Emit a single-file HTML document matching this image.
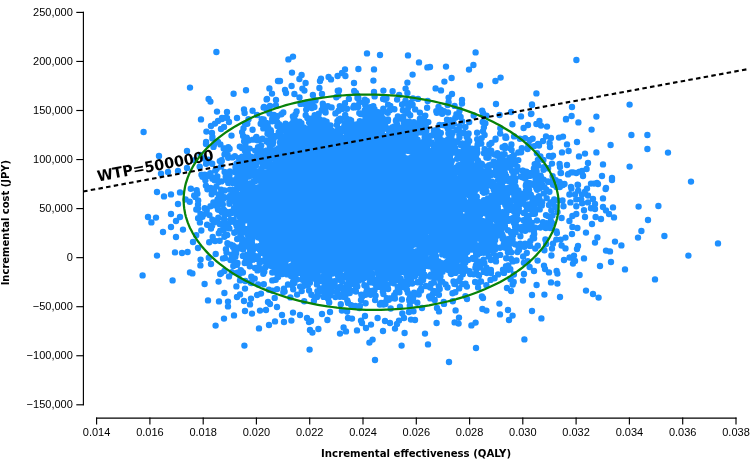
<!DOCTYPE html>
<html><head><meta charset="utf-8"><title>Incremental cost-effectiveness scatter plot</title>
<style>
html,body{margin:0;padding:0;background:#fff}
body{width:750px;height:459px;overflow:hidden}
svg{display:block}
.t{font-family:"Liberation Sans",sans-serif;font-size:11px;fill:#000}
.b{font-family:"DejaVu Sans Condensed","DejaVu Sans","Liberation Sans",sans-serif;font-weight:bold;font-size:11px;fill:#000}
.wtp{font-family:"DejaVu Sans Condensed","DejaVu Sans","Liberation Sans",sans-serif;font-weight:bold;font-size:15px;fill:#000}
</style></head><body>
<svg width="750" height="459" viewBox="0 0 750 459">
<rect width="750" height="459" fill="#fff"/>
<path d="M267.3 191.6h0M469.3 216.4h0M304.0 201.6h0M347.4 245.6h0M361.0 230.3h0M313.0 237.8h0M270.9 181.8h0M417.6 215.7h0M394.6 197.8h0M234.3 211.7h0M444.0 303.9h0M311.7 146.7h0M438.5 214.3h0M332.3 176.0h0M362.1 215.2h0M429.0 209.7h0M278.2 263.2h0M411.7 192.3h0M481.2 170.1h0M474.4 213.7h0M344.4 210.1h0M438.5 106.9h0M254.7 278.6h0M354.9 159.1h0M401.5 265.7h0M272.5 251.1h0M360.6 258.7h0M510.5 209.9h0M428.1 167.8h0M432.3 254.5h0M298.0 179.0h0M281.3 216.5h0M268.1 183.3h0M408.9 176.2h0M426.0 242.1h0M318.7 159.7h0M280.0 190.6h0M386.5 188.3h0M390.8 207.1h0M356.9 195.8h0M469.9 157.5h0M359.7 182.5h0M361.7 186.3h0M288.0 284.5h0M377.1 234.4h0M476.6 197.7h0M371.3 208.1h0M372.1 188.8h0M400.3 272.6h0M388.0 193.2h0M408.0 159.3h0M415.1 167.1h0M309.3 174.8h0M389.8 158.5h0M255.9 217.2h0M387.2 171.2h0M277.8 165.7h0M361.3 243.1h0M403.5 263.4h0M336.1 214.0h0M374.1 155.0h0M253.5 220.9h0M305.0 172.9h0M420.8 214.1h0M284.9 212.6h0M417.7 150.7h0M269.6 237.9h0M301.5 200.2h0M288.8 197.7h0M367.3 154.7h0M408.3 242.1h0M290.8 169.8h0M353.1 204.9h0M501.2 158.6h0M343.2 146.8h0M307.8 146.2h0M396.6 129.8h0M350.0 182.7h0M315.7 257.0h0M243.9 245.2h0M431.5 163.3h0M324.9 165.1h0M366.8 266.6h0M291.0 232.9h0M472.6 201.8h0M425.7 184.3h0M445.1 183.6h0M358.4 98.2h0M403.0 172.7h0M437.5 290.9h0M390.7 187.9h0M362.0 233.9h0M340.1 224.9h0M312.5 174.0h0M297.6 159.9h0M394.5 174.6h0M348.5 206.9h0M231.7 254.7h0M355.1 209.9h0M452.1 200.9h0M346.2 188.2h0M357.4 270.8h0M428.7 211.0h0M382.1 189.8h0M335.1 212.9h0M522.0 227.0h0M526.8 253.0h0M359.3 241.8h0M431.1 167.0h0M397.0 195.6h0M428.4 182.9h0M486.0 229.0h0M431.6 152.9h0M373.4 122.4h0M319.1 202.1h0M308.1 177.7h0M364.8 180.5h0M460.2 195.3h0M389.8 160.6h0M370.7 202.8h0M386.4 150.8h0M369.4 148.8h0M409.4 222.7h0M287.0 184.6h0M232.9 245.5h0M335.3 211.1h0M285.3 167.6h0M500.5 176.9h0M354.8 154.8h0M347.9 198.2h0M260.0 220.4h0M388.4 198.6h0M321.2 207.4h0M457.1 158.7h0M433.4 252.7h0M310.6 223.0h0M398.5 241.5h0M317.7 189.0h0M467.8 167.6h0M429.2 266.3h0M380.1 190.5h0M364.5 294.9h0M267.6 216.3h0M271.4 172.8h0M383.8 251.4h0M513.9 274.5h0M221.2 189.6h0M415.9 174.7h0M413.7 197.0h0M442.5 149.2h0M304.1 152.8h0M327.9 106.1h0M370.2 173.8h0M293.4 142.4h0M280.0 204.1h0M303.2 209.6h0M361.4 241.9h0M395.6 209.6h0M364.9 188.5h0M372.6 252.8h0M317.0 167.8h0M314.4 107.0h0M457.0 141.2h0M362.6 179.7h0M360.5 221.3h0M441.3 241.7h0M467.1 156.5h0M470.1 244.9h0M398.1 214.8h0M362.9 225.2h0M388.9 155.4h0M380.4 188.2h0M389.1 202.2h0M416.7 182.5h0M364.6 227.7h0M478.7 247.0h0M228.2 157.8h0M396.1 237.2h0M426.3 244.7h0M284.6 185.7h0M355.5 165.3h0M354.6 137.7h0M289.9 198.7h0M436.4 273.0h0M383.9 221.7h0M323.5 124.7h0M384.0 177.2h0M420.6 251.9h0M465.1 169.4h0M383.2 192.7h0M297.6 154.7h0M325.9 282.5h0M313.6 144.0h0M424.7 123.5h0M402.8 223.9h0M358.6 218.1h0M341.4 200.0h0M497.8 206.7h0M388.4 188.0h0M439.1 240.6h0M397.2 238.0h0M318.0 255.3h0M495.1 240.2h0M279.4 176.2h0M282.2 181.6h0M335.1 189.0h0M313.8 205.2h0M325.9 171.3h0M322.9 165.1h0M445.6 191.3h0M370.8 181.7h0M393.8 195.5h0M256.8 267.7h0M305.7 256.4h0M453.9 180.5h0M281.6 203.7h0M461.9 189.1h0M293.2 163.0h0M389.7 223.1h0M305.7 115.3h0M381.7 207.8h0M302.1 184.3h0M347.6 144.5h0M505.8 219.4h0M338.9 237.8h0M539.7 209.4h0M332.9 214.4h0M283.5 157.3h0M372.4 215.0h0M336.5 259.1h0M435.0 291.2h0M462.2 121.4h0M416.2 234.9h0M429.5 206.0h0M408.1 195.7h0M306.9 195.7h0M301.4 238.0h0M380.8 183.8h0M446.5 205.8h0M456.6 247.3h0M299.0 189.7h0M408.1 105.0h0M381.5 173.1h0M287.3 170.7h0M406.5 158.4h0M215.3 221.2h0M386.9 200.3h0M293.9 170.8h0M368.1 134.5h0M237.8 171.5h0M312.0 276.3h0M426.3 123.5h0M292.4 276.6h0M364.1 193.9h0M340.4 186.8h0M338.7 171.4h0M381.3 142.9h0M404.3 223.1h0M466.4 183.1h0M432.7 167.9h0M325.4 192.4h0M482.6 263.2h0M468.0 176.7h0M258.7 187.3h0M418.9 254.0h0M432.1 152.3h0M443.8 233.0h0M409.4 300.8h0M275.5 193.9h0M346.8 124.4h0M227.2 235.0h0M354.9 182.0h0M420.2 218.9h0M433.0 209.1h0M329.0 158.0h0M294.2 246.1h0M290.5 215.4h0M376.1 216.3h0M308.7 216.5h0M320.2 216.6h0M459.0 208.1h0M253.5 193.4h0M329.2 173.1h0M359.2 183.1h0M357.0 245.8h0M269.1 243.3h0M381.5 157.1h0M357.0 177.1h0M394.0 173.0h0M289.7 211.5h0M385.5 211.6h0M383.6 225.4h0M318.6 170.6h0M350.4 184.9h0M326.0 288.4h0M477.4 152.6h0M265.8 232.6h0M249.4 239.9h0M338.7 206.1h0M317.4 201.0h0M336.3 234.4h0M423.3 195.8h0M254.0 198.3h0M305.8 189.4h0M350.1 219.1h0M281.8 197.0h0M395.3 189.1h0M392.1 227.9h0M315.1 209.7h0M245.4 145.0h0M499.3 201.1h0M403.3 261.8h0M399.5 219.8h0M372.2 267.6h0M366.2 129.9h0M432.5 218.9h0M365.5 118.4h0M320.7 227.1h0M422.5 174.3h0M371.2 194.3h0M310.8 219.5h0M301.6 164.5h0M460.8 172.3h0M416.1 184.9h0M533.9 234.5h0M328.1 258.1h0M312.8 167.2h0M397.9 161.4h0M479.5 203.9h0M413.3 149.3h0M400.2 141.8h0M525.6 223.6h0M312.8 176.9h0M278.7 264.9h0M312.7 159.8h0M343.2 263.1h0M395.5 252.3h0M448.5 187.3h0M398.1 209.2h0M307.0 210.2h0M527.3 204.4h0M308.1 164.6h0M461.3 259.1h0M299.5 97.5h0M393.2 230.3h0M370.6 202.4h0M407.0 209.0h0M426.0 136.5h0M350.8 226.8h0M361.7 177.3h0M385.0 206.9h0M275.0 237.8h0M313.7 162.4h0M367.1 214.3h0M557.5 212.1h0M425.1 190.5h0M304.4 172.0h0M315.3 160.6h0M444.6 206.9h0M331.8 225.7h0M255.5 181.0h0M293.7 256.2h0M291.6 191.5h0M293.8 229.6h0M419.8 196.4h0M372.1 203.2h0M263.2 244.6h0M327.1 232.5h0M286.0 255.0h0M281.3 252.3h0M262.0 206.3h0M512.6 239.8h0M343.9 227.5h0M411.7 227.5h0M435.7 242.0h0M338.3 210.8h0M408.4 214.2h0M408.8 229.6h0M383.7 167.2h0M388.5 249.7h0M349.7 119.6h0M417.4 239.5h0M515.4 178.5h0M446.2 172.7h0M331.5 234.0h0M304.9 166.7h0M299.9 214.8h0M318.5 177.4h0M396.6 153.9h0M433.8 282.6h0M215.4 170.5h0M365.3 153.7h0M288.2 188.6h0M420.3 282.5h0M439.5 136.8h0M310.4 252.3h0M333.6 173.3h0M298.5 213.3h0M396.9 202.4h0M255.5 247.9h0M286.8 171.3h0M316.9 284.6h0M466.1 189.6h0M368.2 213.3h0M279.8 238.6h0M372.3 234.5h0M304.2 245.5h0M402.4 197.0h0M287.6 266.6h0M339.4 242.2h0M365.6 166.4h0M407.2 189.3h0M360.9 174.9h0M469.5 195.4h0M376.2 215.9h0M242.8 185.5h0M440.3 200.1h0M345.1 238.0h0M318.0 242.2h0M490.9 270.0h0M372.2 179.4h0M314.9 175.8h0M477.1 184.9h0M339.8 168.0h0M384.8 167.1h0M269.3 236.4h0M484.4 263.2h0M290.6 159.3h0M439.2 239.3h0M456.4 114.3h0M466.6 230.9h0M283.8 246.1h0M397.8 171.8h0M377.2 169.6h0M399.2 193.8h0M455.0 262.5h0M375.0 222.0h0M307.7 214.7h0M359.4 228.3h0M493.7 161.7h0M283.3 112.4h0M372.8 180.9h0M296.5 183.8h0M455.9 219.4h0M253.0 206.6h0M357.4 186.7h0M375.6 181.6h0M495.1 209.7h0M293.2 289.3h0M282.4 242.3h0M239.2 238.4h0M262.5 138.8h0M382.3 264.3h0M408.4 216.8h0M218.8 233.2h0M400.5 250.8h0M346.8 214.0h0M422.3 167.5h0M338.3 185.7h0M438.3 165.9h0M410.7 249.3h0M283.7 206.0h0M485.3 212.5h0M383.0 187.7h0M424.2 203.1h0M469.2 159.1h0M297.0 211.9h0M360.3 160.6h0M307.4 218.6h0M299.2 195.5h0M387.1 226.8h0M392.9 254.4h0M475.2 228.8h0M480.0 215.5h0M365.1 244.4h0M306.4 183.4h0M550.3 228.0h0M358.7 146.9h0M300.0 178.2h0M335.5 297.1h0M388.3 218.2h0M457.9 217.7h0M444.1 234.4h0M400.4 201.4h0M348.3 189.9h0M379.5 195.8h0M343.6 253.2h0M372.1 278.8h0M358.9 184.8h0M407.6 204.0h0M238.5 226.6h0M341.1 159.5h0M345.1 211.7h0M286.5 253.5h0M353.8 257.8h0M318.3 195.2h0M345.2 210.0h0M347.9 247.9h0M324.7 223.3h0M455.5 260.7h0M382.1 211.5h0M391.5 136.8h0M384.6 175.4h0M318.1 136.9h0M303.2 215.9h0M433.2 265.3h0M340.6 233.8h0M245.4 187.5h0M383.7 208.5h0M313.3 178.9h0M361.6 180.5h0M326.6 208.3h0M353.8 189.1h0M278.8 174.6h0M365.3 145.0h0M445.5 248.0h0M421.4 166.5h0M247.3 123.8h0M272.6 183.9h0M273.2 217.1h0M348.2 151.5h0M434.5 203.4h0M391.6 133.7h0M246.5 256.7h0M370.9 153.4h0M430.6 202.7h0M333.6 162.7h0M527.2 182.5h0M319.2 217.5h0M461.4 180.0h0M276.9 255.1h0M411.6 241.6h0M244.3 213.5h0M410.9 151.5h0M388.6 158.2h0M335.5 156.7h0M306.5 222.5h0M328.1 199.4h0M344.2 189.3h0M497.0 205.8h0M288.0 240.1h0M335.2 224.5h0M318.5 206.1h0M336.2 226.1h0M373.8 139.3h0M311.8 208.8h0M349.1 249.1h0M510.5 279.2h0M451.5 196.7h0M345.3 266.0h0M438.9 241.9h0M311.1 188.4h0M384.0 136.2h0M267.0 217.3h0M285.6 176.4h0M304.3 255.2h0M467.0 223.6h0M384.4 141.9h0M409.4 186.0h0M378.3 222.1h0M395.0 261.9h0M399.2 95.0h0M427.1 228.0h0M379.0 148.8h0M300.9 193.8h0M309.5 166.1h0M465.0 246.6h0M482.3 221.0h0M410.3 282.3h0M253.3 259.6h0M496.9 174.9h0M391.6 108.9h0M361.1 194.0h0M368.2 180.7h0M339.1 209.2h0M513.6 174.6h0M506.7 178.1h0M290.9 236.7h0M352.5 215.0h0M390.0 174.9h0M470.4 223.7h0M206.1 163.8h0M440.8 206.5h0M505.3 247.7h0M341.9 182.7h0M362.8 145.4h0M467.5 212.0h0M395.0 187.4h0M272.3 280.4h0M283.1 197.7h0M292.2 174.9h0M266.8 150.4h0M365.2 104.9h0M327.5 166.1h0M368.7 205.2h0M421.1 163.2h0M515.1 226.6h0M382.2 242.4h0M238.6 231.5h0M479.4 175.4h0M356.7 168.3h0M459.6 240.6h0M332.4 174.0h0M388.9 175.9h0M355.4 178.5h0M363.5 261.4h0M469.2 122.1h0M317.8 251.2h0M378.0 242.2h0M382.3 272.6h0M336.7 223.1h0M392.3 237.1h0M260.9 139.5h0M331.6 204.3h0M398.6 223.7h0M433.8 217.4h0M431.0 248.0h0M412.0 253.5h0M338.5 95.6h0M463.9 203.2h0M345.6 202.2h0M455.8 229.7h0M297.2 253.0h0M323.4 205.1h0M365.3 260.8h0M429.9 198.0h0M444.7 146.1h0M427.7 162.2h0M327.6 188.5h0M485.0 180.0h0M325.4 215.9h0M437.7 222.7h0M361.1 202.3h0M364.1 203.0h0M353.9 153.6h0M364.0 183.5h0M455.0 193.4h0M483.6 171.7h0M482.6 236.8h0M437.8 227.3h0M418.0 166.9h0M400.6 182.1h0M512.5 200.2h0M333.0 204.8h0M319.4 265.6h0M369.2 192.1h0M250.7 172.7h0M347.9 215.9h0M361.1 228.1h0M292.3 252.1h0M323.4 157.0h0M420.1 189.2h0M348.4 208.8h0M371.3 207.3h0M448.4 133.3h0M320.8 216.3h0M284.5 261.4h0M362.4 226.3h0M398.4 193.4h0M417.0 156.8h0M342.3 197.4h0M335.0 165.8h0M303.6 165.5h0M351.8 127.4h0M442.5 219.0h0M406.7 235.8h0M429.8 196.2h0M338.7 224.6h0M497.6 205.3h0M469.5 271.1h0M364.5 194.3h0M194.2 195.5h0M370.6 146.3h0M361.9 180.8h0M293.2 176.1h0M508.2 265.4h0M321.2 231.2h0M404.6 243.3h0M426.6 212.8h0M263.7 157.3h0M375.9 200.4h0M462.8 244.6h0M342.0 161.6h0M417.6 191.8h0M364.7 198.0h0M448.8 244.5h0M521.9 202.5h0M288.3 230.2h0M345.1 227.2h0M397.0 188.1h0M320.4 208.0h0M306.8 144.2h0M340.8 178.3h0M346.4 223.8h0M318.8 217.6h0M391.9 216.6h0M430.5 203.6h0M425.5 238.4h0M420.1 229.8h0M463.1 206.3h0M271.0 131.4h0M381.1 302.9h0M407.6 167.4h0M255.1 267.9h0M525.0 194.5h0M302.7 254.9h0M387.0 166.5h0M424.8 203.3h0M454.1 184.3h0M316.8 235.4h0M327.0 242.7h0M395.4 209.3h0M412.6 104.7h0M439.3 208.0h0M362.5 157.1h0M316.3 271.1h0M273.1 180.6h0M270.6 196.4h0M421.8 146.2h0M388.2 223.6h0M427.0 149.5h0M443.0 221.7h0M477.1 132.7h0M362.5 254.2h0M397.6 201.2h0M234.3 232.7h0M370.4 192.7h0M301.7 291.1h0M355.5 192.9h0M467.4 232.1h0M375.1 197.3h0M454.8 256.5h0M352.0 138.2h0M398.0 132.7h0M336.5 223.8h0M199.7 166.7h0M315.2 156.7h0M347.2 220.9h0M379.1 199.8h0M357.7 204.5h0M442.8 176.7h0M416.2 153.7h0M337.8 232.2h0M436.5 225.7h0M232.6 258.8h0M346.2 176.0h0M356.2 158.2h0M327.9 236.6h0M264.7 229.5h0M380.9 160.4h0M508.5 181.0h0M351.8 233.6h0M352.2 140.9h0M371.5 211.0h0M473.7 115.5h0M533.9 230.9h0M404.2 187.9h0M359.8 121.3h0M523.6 197.8h0M375.3 197.8h0M372.8 192.4h0M341.2 221.8h0M344.3 126.1h0M386.3 172.4h0M346.4 217.6h0M400.2 207.6h0M374.9 205.8h0M339.6 177.0h0M352.9 169.5h0M386.6 224.2h0M373.1 186.9h0M375.5 237.2h0M462.6 189.2h0M291.5 273.2h0M235.9 165.6h0M425.1 186.2h0M349.9 236.0h0M478.2 201.7h0M361.5 238.1h0M285.0 231.1h0M556.3 239.6h0M398.9 143.7h0M334.5 238.1h0M313.3 201.7h0M411.8 214.6h0M318.5 161.9h0M398.0 223.2h0M462.0 238.6h0M270.5 216.6h0M341.3 224.2h0M405.0 210.0h0M505.9 195.1h0M441.9 225.1h0M334.2 194.2h0M487.9 198.5h0M341.1 222.9h0M355.5 246.0h0M396.8 280.1h0M289.7 252.3h0M464.6 169.7h0M384.3 218.5h0M325.9 158.9h0M285.3 158.6h0M396.2 120.0h0M422.1 258.8h0M338.0 253.5h0M352.8 156.0h0M410.9 209.4h0M362.8 219.9h0M240.8 270.3h0M419.7 267.7h0M386.0 165.3h0M424.9 219.2h0M312.5 134.3h0M224.4 197.3h0M279.2 205.1h0M390.2 191.7h0M390.5 298.5h0M265.5 174.9h0M342.2 203.9h0M401.8 246.2h0M401.0 241.2h0M374.3 187.9h0M476.4 269.4h0M302.5 266.4h0M221.8 212.0h0M303.9 217.4h0M284.8 199.2h0M353.2 217.8h0M267.3 254.2h0M415.4 131.5h0M447.7 247.4h0M371.1 199.8h0M381.8 269.1h0M449.1 258.5h0M407.1 198.9h0M316.2 203.7h0M413.1 185.0h0M441.1 161.4h0M393.4 196.2h0M436.4 240.4h0M412.7 194.6h0M349.4 146.1h0M356.0 202.8h0M415.0 157.2h0M326.4 205.0h0M459.9 234.0h0M465.7 245.6h0M361.7 166.7h0M320.7 200.5h0M378.0 192.3h0M354.2 234.8h0M411.0 232.7h0M391.6 189.9h0M395.5 205.1h0M310.2 239.3h0M341.0 172.0h0M203.4 214.6h0M510.1 209.8h0M325.8 178.2h0M462.1 258.9h0M196.8 193.6h0M335.9 168.7h0M434.1 212.3h0M378.2 278.4h0M448.1 154.3h0M303.8 237.4h0M325.8 144.3h0M319.2 231.5h0M406.3 180.4h0M402.7 182.9h0M357.6 231.4h0M347.1 311.5h0M345.1 123.1h0M373.4 190.9h0M298.8 164.1h0M362.5 252.5h0M356.0 203.8h0M327.2 161.5h0M325.1 237.9h0M488.2 231.0h0M321.9 195.0h0M398.7 236.9h0M478.5 217.2h0M425.1 243.0h0M368.3 152.6h0M447.9 229.8h0M267.3 240.5h0M279.9 161.2h0M350.3 268.5h0M359.6 212.5h0M525.0 178.5h0M507.3 192.4h0M363.9 200.1h0M386.3 221.8h0M301.6 142.1h0M391.3 152.0h0M272.6 257.7h0M481.3 143.6h0M328.7 289.1h0M410.3 195.5h0M275.0 136.3h0M480.6 163.4h0M414.6 276.1h0M532.4 213.2h0M371.9 155.8h0M254.9 256.1h0M310.0 223.0h0M278.3 172.1h0M497.3 153.2h0M321.2 132.5h0M312.2 202.2h0M413.3 224.4h0M387.2 268.3h0M405.0 270.6h0M329.9 245.7h0M231.5 135.6h0M271.5 175.2h0M219.7 223.9h0M470.8 192.3h0M439.2 208.3h0M339.1 182.7h0M415.6 203.2h0M419.6 247.9h0M416.6 225.9h0M408.2 139.7h0M437.0 183.2h0M373.0 151.6h0M469.5 202.6h0M413.5 311.3h0M201.3 230.5h0M380.1 225.8h0M303.6 179.6h0M326.6 170.2h0M196.2 235.2h0M427.7 181.5h0M360.4 272.4h0M431.5 247.8h0M454.4 248.0h0M471.7 213.7h0M503.8 164.9h0M389.3 258.2h0M383.5 179.2h0M320.2 204.0h0M408.0 240.2h0M349.0 188.8h0M283.4 184.5h0M464.2 146.8h0M423.2 253.7h0M239.6 166.1h0M350.5 257.0h0M272.6 290.8h0M466.9 286.6h0M381.2 253.6h0M412.0 178.5h0M442.6 144.0h0M477.4 178.6h0M347.0 230.3h0M417.0 271.6h0M387.3 267.4h0M431.5 204.7h0M411.6 229.6h0M485.5 192.3h0M410.1 130.3h0M332.4 180.2h0M377.2 257.3h0M286.8 244.0h0M392.8 215.6h0M493.6 213.0h0M253.2 229.9h0M362.0 197.4h0M330.6 147.5h0M368.0 182.2h0M324.4 227.5h0M374.1 186.9h0M294.8 230.8h0M497.5 189.8h0M408.4 191.8h0M428.6 251.3h0M356.6 176.4h0M403.5 223.3h0M349.6 248.8h0M334.9 218.7h0M351.3 133.4h0M406.5 274.6h0M278.2 238.5h0M302.5 166.7h0M309.7 186.1h0M326.4 234.8h0M462.4 172.0h0M365.8 234.1h0M345.3 148.8h0M379.3 210.5h0M454.1 242.1h0M313.6 185.2h0M451.0 211.8h0M212.4 219.8h0M304.2 268.6h0M490.8 260.0h0M498.2 216.1h0M383.7 216.8h0M337.4 187.2h0M435.0 187.1h0M338.7 182.5h0M498.2 179.5h0M465.9 242.0h0M430.8 191.4h0M308.3 162.8h0M448.1 165.3h0M351.1 196.0h0M352.4 220.9h0M338.6 174.4h0M361.1 155.0h0M409.5 209.2h0M438.1 243.7h0M438.4 155.4h0M345.2 114.9h0M322.3 152.3h0M356.5 145.4h0M288.1 209.2h0M470.6 185.1h0M391.7 233.8h0M381.7 161.8h0M362.9 204.0h0M446.3 209.7h0M334.9 222.7h0M403.4 283.0h0M361.5 162.1h0M326.2 218.9h0M299.2 166.9h0M437.7 241.9h0M377.8 212.2h0M317.4 204.6h0M311.8 129.4h0M375.0 131.6h0M300.2 172.1h0M554.2 199.4h0M358.2 107.1h0M359.3 177.4h0M365.8 208.9h0M247.3 170.4h0M270.4 239.4h0M345.7 210.1h0M371.0 268.8h0M284.4 167.3h0M516.1 221.4h0M479.6 164.4h0M469.0 242.7h0M356.0 180.8h0M382.5 144.9h0M242.9 272.5h0M215.7 254.0h0M373.3 197.9h0M443.2 215.1h0M378.5 198.8h0M519.9 138.7h0M350.5 213.4h0M417.8 175.2h0M431.8 164.3h0M298.6 246.5h0M397.0 200.6h0M401.6 153.5h0M462.3 224.3h0M472.4 198.3h0M452.8 215.1h0M317.2 192.9h0M431.5 213.7h0M460.1 212.7h0M375.6 159.0h0M432.8 294.2h0M434.3 211.3h0M378.6 243.7h0M410.1 133.7h0M387.9 216.6h0M377.7 268.6h0M327.2 185.4h0M347.4 194.0h0M292.0 250.3h0M357.5 226.8h0M426.9 224.1h0M421.1 192.4h0M431.7 202.3h0M363.7 114.5h0M486.9 181.9h0M338.1 192.8h0M433.1 227.6h0M404.6 221.3h0M317.5 140.1h0M320.4 163.6h0M374.9 190.8h0M393.1 264.5h0M416.7 163.1h0M381.4 202.3h0M430.6 189.3h0M328.0 140.7h0M359.1 155.7h0M407.0 187.1h0M312.9 231.3h0M370.0 169.0h0M358.4 164.8h0M380.7 133.1h0M250.5 191.4h0M521.8 148.2h0M365.9 274.7h0M415.6 199.1h0M280.0 255.2h0M374.5 206.9h0M348.4 191.3h0M423.9 202.1h0M305.8 165.5h0M301.6 152.2h0M398.4 160.6h0M428.0 187.0h0M446.6 211.8h0M370.3 279.8h0M392.9 211.1h0M314.6 230.1h0M480.7 239.3h0M465.2 160.7h0M462.4 152.3h0M260.7 155.0h0M442.9 264.2h0M319.0 133.0h0M410.9 221.1h0M405.8 158.9h0M357.9 135.2h0M346.6 140.3h0M299.6 172.6h0M287.7 144.6h0M417.6 230.0h0M306.3 236.4h0M424.8 239.8h0M343.4 289.2h0M329.9 154.7h0M448.6 205.1h0M440.1 180.7h0M300.3 163.7h0M358.7 212.8h0M370.7 294.7h0M423.8 158.0h0M317.7 295.2h0M340.2 212.0h0M362.5 177.7h0M425.7 146.9h0M442.4 237.9h0M331.2 205.2h0M518.2 193.9h0M404.0 172.0h0M313.1 191.6h0M262.9 181.2h0M334.1 204.5h0M384.8 210.1h0M414.4 243.5h0M474.3 236.0h0M409.5 139.2h0M252.6 202.2h0M349.5 211.5h0M425.6 250.8h0M224.4 236.8h0M311.0 244.5h0M419.6 193.4h0M374.6 229.9h0M234.1 192.4h0M333.2 185.5h0M372.0 129.9h0M548.0 216.1h0M337.9 189.9h0M305.0 128.9h0M389.3 258.3h0M396.3 182.2h0M415.1 217.1h0M489.2 216.0h0M365.6 190.8h0M274.1 207.3h0M373.7 239.9h0M371.9 164.6h0M448.2 140.8h0M437.6 246.3h0M317.2 222.2h0M431.7 167.1h0M451.1 247.8h0M356.7 146.3h0M446.6 205.9h0M383.6 215.7h0M384.5 201.3h0M359.8 220.9h0M434.7 179.5h0M388.4 174.4h0M288.2 225.3h0M353.6 202.7h0M328.2 198.5h0M395.9 186.8h0M360.4 249.6h0M430.0 214.0h0M527.9 215.8h0M319.4 159.1h0M355.1 236.7h0M546.7 223.1h0M254.9 226.1h0M381.8 141.2h0M263.0 252.2h0M498.3 185.3h0M271.5 198.1h0M348.2 218.5h0M357.4 240.1h0M254.1 175.2h0M358.1 201.5h0M508.0 200.6h0M319.9 198.9h0M268.0 156.5h0M387.2 197.9h0M385.0 253.0h0M294.9 127.5h0M261.6 260.9h0M318.8 138.5h0M393.7 185.1h0M414.5 172.4h0M315.9 208.7h0M344.2 182.4h0M412.9 219.9h0M458.0 178.9h0M326.3 149.4h0M379.9 304.6h0M189.7 201.7h0M300.1 220.5h0M403.1 144.4h0M368.8 167.9h0M355.8 177.8h0M503.8 244.3h0M348.1 163.2h0M291.5 220.3h0M385.8 186.3h0M385.6 170.6h0M288.1 231.2h0M450.1 214.5h0M512.3 156.6h0M326.3 228.8h0M306.5 143.2h0M363.4 222.7h0M471.2 197.9h0M328.2 299.0h0M316.4 223.0h0M326.2 294.2h0M388.2 227.0h0M386.1 184.1h0M356.9 232.8h0M467.5 137.3h0M327.2 195.7h0M453.6 269.2h0M390.7 242.0h0M306.2 109.6h0M344.2 213.0h0M377.9 131.5h0M269.8 149.4h0M354.0 171.4h0M426.2 157.0h0M268.4 160.9h0M379.6 189.5h0M520.1 243.6h0M325.8 170.1h0M304.9 200.3h0M202.4 216.7h0M361.5 221.1h0M256.8 193.6h0M413.4 166.7h0M507.0 197.5h0M413.4 134.9h0M312.1 194.7h0M421.2 254.8h0M334.8 224.6h0M332.7 222.8h0M388.0 224.0h0M342.4 183.7h0M410.8 230.0h0M417.7 193.2h0M429.4 188.7h0M320.7 147.2h0M478.5 245.6h0M450.6 216.2h0M312.8 182.1h0M387.3 202.0h0M212.4 178.8h0M342.6 195.7h0M308.0 159.8h0M296.9 157.3h0M262.0 183.0h0M357.6 258.6h0M358.1 232.9h0M410.3 208.6h0M449.9 213.9h0M257.4 196.3h0M328.8 240.9h0M317.3 194.3h0M423.6 183.4h0M443.4 229.7h0M338.0 198.7h0M328.5 222.1h0M295.8 171.0h0M396.5 197.5h0M507.2 242.9h0M397.4 241.3h0M316.9 151.2h0M307.8 193.8h0M316.1 151.9h0M254.0 232.1h0M512.9 159.6h0M373.4 120.7h0M343.2 148.1h0M384.8 302.5h0M490.0 174.5h0M388.6 231.4h0M456.5 167.4h0M373.2 215.7h0M340.4 252.3h0M399.5 239.4h0M424.1 258.0h0M455.4 241.0h0M383.0 189.4h0M349.0 220.3h0M340.1 204.9h0M391.3 177.8h0M331.7 291.6h0M343.2 156.5h0M409.8 144.1h0M413.4 176.7h0M406.8 247.6h0M313.3 181.4h0M266.8 209.3h0M388.6 168.4h0M376.2 252.5h0M339.4 213.6h0M383.4 203.6h0M434.9 262.5h0M352.4 163.5h0M398.4 263.9h0M297.4 236.3h0M351.0 147.7h0M307.4 192.1h0M266.4 220.5h0M401.1 154.4h0M362.6 261.9h0M398.2 271.6h0M259.7 225.5h0M385.7 206.3h0M242.1 156.7h0M303.4 234.0h0M484.6 180.4h0M379.2 203.4h0M462.2 208.5h0M289.0 237.4h0M226.8 224.1h0M312.6 106.3h0M471.3 176.9h0M440.5 244.8h0M453.0 258.8h0M356.0 235.4h0M360.3 245.5h0M352.0 154.2h0M373.8 206.3h0M515.0 244.3h0M354.0 206.7h0M480.2 181.1h0M290.2 242.8h0M330.4 204.4h0M395.0 229.4h0M325.6 130.8h0M337.3 207.0h0M355.6 226.2h0M328.0 264.8h0M496.2 208.1h0M459.3 134.5h0M269.8 145.7h0M511.2 252.4h0M365.1 246.1h0M365.7 193.4h0M355.6 165.1h0M437.7 249.7h0M424.3 180.1h0M329.7 199.0h0M372.2 137.7h0M524.8 212.5h0M306.8 279.9h0M304.3 187.2h0M316.2 146.7h0M379.2 259.2h0M427.9 158.7h0M342.2 108.9h0M370.7 178.5h0M343.4 213.8h0M474.1 165.5h0M386.4 200.5h0M251.7 199.5h0M490.8 204.3h0M394.9 266.2h0M532.4 210.5h0M324.1 224.3h0M332.5 258.2h0M356.0 186.4h0M270.4 237.9h0M341.7 174.9h0M471.7 204.7h0M424.7 198.2h0M209.2 242.3h0M474.6 241.2h0M397.2 171.1h0M434.6 158.9h0M372.5 152.1h0M384.1 159.2h0M373.8 172.6h0M373.4 198.5h0M295.1 163.1h0M453.5 281.5h0M386.2 255.0h0M399.4 292.2h0M396.3 223.2h0M346.7 231.5h0M365.0 193.0h0M275.2 252.8h0M389.7 227.0h0M390.9 199.0h0M351.4 220.0h0M250.8 282.8h0M479.0 275.5h0M356.5 204.2h0M368.0 118.8h0M325.7 199.8h0M339.4 199.8h0M290.0 199.7h0M326.5 219.2h0M545.8 228.1h0M465.5 169.8h0M540.1 179.2h0M324.0 272.0h0M273.5 210.4h0M196.3 209.5h0M457.1 243.5h0M469.5 222.5h0M377.8 208.9h0M398.8 206.0h0M398.1 270.2h0M360.8 175.5h0M427.3 230.3h0M296.7 155.7h0M336.8 230.3h0M358.4 220.5h0M251.9 201.3h0M297.2 221.5h0M403.5 132.4h0M396.3 172.9h0M205.9 185.6h0M442.7 211.6h0M396.7 205.4h0M430.6 176.6h0M364.6 209.4h0M415.6 222.8h0M353.4 214.5h0M293.3 220.7h0M331.3 219.9h0M464.7 194.8h0M505.1 190.2h0M372.1 240.6h0M336.7 195.5h0M431.4 186.8h0M405.2 206.9h0M419.1 157.9h0M213.2 189.2h0M374.0 220.2h0M345.4 233.0h0M311.1 279.1h0M373.9 181.4h0M343.2 240.9h0M398.4 259.3h0M401.0 172.8h0M381.6 183.5h0M468.6 214.3h0M290.1 244.7h0M467.7 166.4h0M351.7 245.6h0M492.3 183.0h0M486.5 238.0h0M408.4 241.2h0M335.9 228.9h0M391.2 253.7h0M396.9 209.2h0M267.5 216.6h0M345.4 265.2h0M318.6 183.8h0M482.0 183.7h0M511.6 150.0h0M330.7 175.4h0M276.6 247.8h0M389.6 212.7h0M433.8 228.7h0M520.0 193.2h0M278.9 201.3h0M443.7 251.3h0M358.3 212.5h0M317.1 163.4h0M343.6 200.0h0M314.0 147.0h0M403.9 229.6h0M369.3 244.4h0M465.2 217.0h0M330.4 271.1h0M241.6 271.5h0M298.2 197.6h0M395.4 251.9h0M266.2 193.0h0M314.5 212.0h0M410.7 195.6h0M272.8 208.1h0M435.7 154.2h0M395.0 197.9h0M326.1 150.0h0M365.5 272.5h0M332.1 182.9h0M339.4 202.0h0M344.4 138.2h0M370.1 175.1h0M361.9 228.1h0M314.7 115.1h0M298.5 218.8h0M544.5 187.2h0M290.4 297.4h0M357.1 236.0h0M465.5 247.2h0M447.7 222.0h0M315.8 251.7h0M538.3 160.0h0M345.2 242.1h0M281.3 138.9h0M417.9 225.8h0M354.9 210.1h0M346.8 273.5h0M310.2 197.0h0M324.8 211.4h0M380.9 229.3h0M439.9 202.8h0M211.0 228.6h0M445.4 183.0h0M307.6 219.1h0M422.7 202.0h0M376.7 283.2h0M469.6 164.5h0M440.8 132.9h0M347.9 302.2h0M356.4 210.5h0M393.1 261.8h0M427.1 213.3h0M322.8 190.6h0M263.1 234.3h0M376.3 215.9h0M365.2 184.7h0M356.8 129.3h0M297.1 224.7h0M415.8 272.3h0M249.9 261.2h0M332.9 151.9h0M473.7 274.2h0M289.7 151.4h0M400.8 191.3h0M403.6 216.2h0M401.7 215.5h0M253.3 175.7h0M449.5 200.0h0M379.6 218.3h0M407.1 218.4h0M392.3 243.6h0M373.4 253.4h0M467.7 220.3h0M486.8 183.8h0M242.0 244.1h0M312.6 212.0h0M356.4 178.9h0M489.4 222.1h0M312.9 241.1h0M413.0 259.1h0M385.8 170.4h0M352.9 208.9h0M297.0 135.5h0M342.3 218.9h0M376.1 223.0h0M431.3 175.6h0M354.0 233.8h0M340.0 254.4h0M350.8 256.5h0M475.4 173.9h0M391.6 213.8h0M320.2 257.1h0M280.4 203.5h0M339.0 195.7h0M303.8 200.6h0M338.3 250.8h0M480.4 204.1h0M423.8 131.8h0M386.8 242.1h0M513.2 234.9h0M288.6 272.3h0M403.9 228.3h0M354.0 203.8h0M380.1 169.6h0M374.8 236.0h0M345.8 213.3h0M411.6 254.0h0M224.2 218.9h0M391.5 242.9h0M422.7 125.9h0M300.9 227.5h0M299.4 239.8h0M530.2 229.4h0M304.9 271.4h0M341.4 209.6h0M313.5 241.4h0M324.7 127.3h0M320.5 245.6h0M227.4 243.2h0M316.6 115.7h0M398.6 168.9h0M363.2 208.7h0M479.1 282.2h0M423.6 159.3h0M460.1 230.2h0M463.2 237.5h0M435.6 234.0h0M371.7 179.8h0M441.4 238.7h0M439.5 125.0h0M424.0 205.4h0M392.3 170.6h0M477.5 267.0h0M320.1 241.6h0M417.9 235.0h0M355.7 177.6h0M322.0 138.5h0M312.8 206.6h0M320.7 195.7h0M517.1 208.3h0M366.3 272.0h0M395.1 186.1h0M550.6 202.5h0M269.2 141.9h0M494.6 278.2h0M341.5 261.8h0M323.1 106.9h0M338.6 110.7h0M245.3 281.0h0M288.5 239.2h0M327.7 271.5h0M424.7 152.2h0M455.7 213.7h0M341.5 246.5h0M397.2 201.9h0M402.2 167.3h0M351.6 202.1h0M386.0 171.1h0M325.6 293.4h0M411.7 193.1h0M351.8 178.3h0M371.4 125.1h0M387.9 274.3h0M379.5 201.2h0M316.6 233.4h0M274.1 202.8h0M363.3 221.1h0M327.0 209.5h0M329.5 181.4h0M360.5 229.7h0M316.8 172.0h0M402.9 221.6h0M399.0 225.6h0M303.8 243.7h0M396.6 169.1h0M424.8 218.5h0M416.4 156.7h0M367.2 133.9h0M438.6 212.2h0M449.7 204.3h0M402.3 235.8h0M243.1 135.9h0M378.0 204.2h0M383.2 225.8h0M431.4 250.2h0M297.7 127.2h0M423.0 178.9h0M394.8 170.5h0M399.1 200.2h0M280.6 190.9h0M305.7 208.4h0M458.5 165.1h0M432.9 224.2h0M361.4 135.7h0M454.5 203.1h0M387.7 299.4h0M336.9 158.1h0M448.2 264.1h0M356.9 182.8h0M385.2 226.0h0M244.9 229.4h0M327.7 160.0h0M389.8 110.3h0M348.9 191.4h0M314.0 143.9h0M288.5 227.8h0M382.8 127.3h0M339.9 296.8h0M341.9 310.6h0M345.3 169.5h0M342.4 217.9h0M322.2 179.2h0M368.8 198.5h0M289.2 136.6h0M368.6 226.8h0M354.2 142.9h0M378.2 112.2h0M535.2 227.8h0M424.8 230.1h0M456.6 189.1h0M398.4 155.3h0M357.6 276.2h0M309.4 185.5h0M268.4 140.8h0M212.4 138.4h0M287.5 211.2h0M257.4 270.4h0M297.7 155.3h0M364.8 176.3h0M336.4 184.3h0M435.9 266.6h0M437.3 202.4h0M447.4 221.8h0M433.8 245.0h0M386.6 235.9h0M329.1 277.5h0M401.1 144.6h0M348.1 216.5h0M351.5 219.9h0M397.7 148.6h0M289.5 208.6h0M255.0 213.9h0M391.2 187.0h0M513.5 175.2h0M455.7 261.7h0M269.4 199.5h0M319.9 215.5h0M214.7 180.0h0M305.1 214.1h0M524.2 228.2h0M498.9 167.2h0M294.6 199.5h0M342.9 200.7h0M307.7 210.7h0M273.1 184.9h0M348.6 203.5h0M342.4 182.5h0M373.7 164.2h0M386.5 180.5h0M420.9 132.4h0M477.7 232.3h0M360.7 219.5h0M351.1 163.7h0M367.2 161.2h0M400.7 164.2h0M356.9 149.2h0M296.6 151.4h0M328.8 226.3h0M424.3 190.2h0M294.0 242.6h0M430.3 226.7h0M270.1 221.1h0M413.9 145.0h0M412.2 283.5h0M351.0 195.2h0M364.9 99.7h0M349.5 191.7h0M504.9 188.5h0M334.6 228.3h0M314.2 156.0h0M395.5 209.8h0M454.9 187.4h0M392.2 257.8h0M355.8 189.4h0M447.7 226.4h0M312.2 247.6h0M310.8 165.6h0M280.2 216.0h0M463.4 205.1h0M220.2 274.0h0M277.0 229.7h0M385.4 170.9h0M397.9 288.0h0M510.0 181.2h0M399.2 202.2h0M330.7 208.9h0M478.4 231.7h0M451.2 174.6h0M459.0 194.6h0M451.3 188.1h0M405.9 213.4h0M266.4 166.1h0M292.3 183.7h0M369.9 282.2h0M242.4 226.1h0M370.7 260.7h0M442.4 172.6h0M396.7 124.6h0M367.6 130.4h0M213.9 145.2h0M371.0 227.3h0M356.4 186.1h0M504.0 180.9h0M366.8 146.8h0M362.5 279.3h0M334.3 141.7h0M357.3 193.4h0M387.0 191.1h0M329.2 196.9h0M303.6 195.7h0M280.0 219.4h0M340.3 255.0h0M342.8 218.2h0M261.9 155.5h0M308.4 272.4h0M238.8 274.5h0M441.1 179.9h0M460.0 231.1h0M397.1 99.6h0M357.5 158.5h0M401.5 256.3h0M273.9 234.0h0M459.5 257.4h0M292.6 139.4h0M361.9 200.0h0M317.5 273.5h0M317.2 209.3h0M429.9 276.5h0M470.9 170.7h0M201.5 174.8h0M258.2 226.4h0M323.8 241.7h0M444.1 217.7h0M463.3 262.1h0M495.3 249.2h0M504.0 272.9h0M334.8 246.3h0M295.8 213.8h0M438.4 220.6h0M346.9 208.9h0M368.0 220.9h0M339.6 264.5h0M337.1 260.4h0M437.6 277.5h0M294.4 256.4h0M247.1 254.7h0M315.3 177.2h0M373.2 198.9h0M343.0 193.4h0M354.9 180.3h0M302.8 244.3h0M450.5 165.1h0M352.3 177.6h0M316.0 177.8h0M454.4 283.9h0M323.9 230.2h0M423.1 279.9h0M380.6 210.3h0M395.3 247.4h0M446.3 248.6h0M555.3 206.7h0M466.5 219.0h0M303.7 132.2h0M286.0 161.1h0M340.0 214.0h0M418.0 220.7h0M366.1 216.7h0M378.8 178.3h0M247.9 242.4h0M359.9 230.3h0M404.3 260.3h0M503.7 219.2h0M425.0 237.0h0M370.5 222.6h0M280.7 145.6h0M362.9 206.8h0M363.7 201.1h0M352.9 211.6h0M375.0 208.8h0M402.1 244.3h0M397.4 204.5h0M552.6 176.2h0M293.9 231.0h0M392.9 141.7h0M277.2 259.3h0M347.5 139.2h0M356.8 217.8h0M304.9 156.0h0M424.8 235.7h0M412.6 221.4h0M373.2 251.5h0M409.5 230.6h0M430.8 259.4h0M339.9 163.6h0M408.5 274.3h0M372.9 185.5h0M362.2 242.4h0M328.6 196.9h0M506.2 258.3h0M387.2 225.3h0M264.2 214.5h0M400.2 233.8h0M382.6 206.9h0M421.9 271.1h0M476.9 234.0h0M377.8 211.7h0M311.5 188.7h0M523.9 262.7h0M444.0 172.3h0M465.9 205.0h0M343.4 154.6h0M411.0 180.1h0M242.5 198.1h0M398.4 222.9h0M221.8 202.5h0M289.3 247.9h0M260.7 123.7h0M452.8 301.2h0M434.2 233.7h0M319.3 228.6h0M460.8 171.4h0M367.6 251.0h0M228.8 172.3h0M333.2 204.9h0M244.4 215.5h0M367.0 232.4h0M389.0 231.2h0M308.5 168.9h0M424.8 152.4h0M445.0 269.1h0M298.0 242.8h0M405.5 235.3h0M354.3 229.0h0M340.9 232.2h0M500.3 128.3h0M311.0 210.8h0M335.5 252.9h0M356.8 215.1h0M405.9 244.2h0M422.3 230.8h0M295.0 191.5h0M472.7 178.9h0M514.2 208.2h0M374.7 141.5h0M325.2 251.5h0M286.6 126.4h0M388.8 299.8h0M356.7 204.6h0M357.9 218.9h0M317.3 191.1h0M341.0 180.4h0M349.5 273.5h0M264.2 212.9h0M342.1 175.7h0M351.4 248.1h0M283.0 180.2h0M412.7 199.6h0M359.9 222.6h0M372.8 260.5h0M393.0 165.1h0M344.1 244.1h0M357.0 235.8h0M403.9 209.0h0M422.4 244.4h0M433.4 218.0h0M349.1 196.8h0M423.3 126.2h0M454.6 105.9h0M265.6 213.7h0M333.2 242.5h0M361.3 167.8h0M363.4 198.7h0M458.5 250.2h0M353.3 134.5h0M354.9 240.3h0M266.4 197.4h0M293.5 232.6h0M472.6 215.4h0M245.9 166.8h0M412.7 300.7h0M312.9 95.0h0M341.1 161.3h0M356.4 258.5h0M516.8 203.6h0M390.1 219.5h0M403.5 161.9h0M445.3 240.3h0M216.6 169.0h0M521.1 152.3h0M249.7 148.6h0M312.6 250.7h0M418.7 199.1h0M278.3 231.9h0M245.4 217.0h0M458.8 194.4h0M341.8 148.7h0M439.9 215.2h0M403.0 229.7h0M350.9 150.5h0M506.3 176.3h0M346.4 162.5h0M301.6 213.9h0M294.5 226.5h0M316.1 197.0h0M383.9 212.3h0M285.5 208.2h0M315.2 254.5h0M484.2 239.5h0M380.3 243.8h0M459.6 169.1h0M395.0 223.8h0M323.8 200.4h0M311.2 152.7h0M380.9 222.3h0M372.2 128.1h0M328.6 151.7h0M326.0 248.6h0M485.8 232.9h0M450.5 120.2h0M390.2 218.8h0M342.0 206.8h0M336.2 189.2h0M536.9 153.3h0M323.6 187.7h0M319.2 281.3h0M263.7 238.8h0M538.2 165.5h0M358.6 232.8h0M401.1 194.1h0M349.2 146.1h0M442.1 251.0h0M345.3 175.3h0M400.6 205.2h0M356.4 217.5h0M246.4 192.6h0M397.4 202.5h0M328.0 231.0h0M356.0 235.3h0M398.5 217.2h0M267.9 235.9h0M408.6 217.9h0M411.8 174.9h0M431.4 219.3h0M392.7 226.9h0M319.5 250.1h0M364.7 198.6h0M268.2 142.3h0M397.5 128.5h0M351.3 185.5h0M339.2 249.1h0M367.1 220.5h0M400.8 229.6h0M385.7 182.2h0M472.9 192.3h0M367.9 120.9h0M391.0 163.1h0M365.8 223.3h0M298.5 170.2h0M385.3 136.3h0M336.4 220.7h0M304.4 218.6h0M374.4 204.5h0M424.0 117.9h0M412.2 228.9h0M379.5 184.9h0M320.6 219.8h0M340.9 244.2h0M354.9 217.3h0M266.4 252.9h0M427.9 229.8h0M371.6 178.2h0M276.0 172.1h0M486.4 285.2h0M275.0 187.3h0M351.7 214.2h0M305.2 221.6h0M424.6 238.5h0M269.7 134.3h0M402.4 240.0h0M393.9 213.4h0M452.6 216.4h0M237.2 188.8h0M309.7 269.1h0M349.3 192.7h0M439.7 289.0h0M371.2 278.7h0M422.6 187.0h0M399.2 252.7h0M300.8 253.3h0M355.8 197.0h0M335.4 113.4h0M341.3 197.7h0M299.4 225.3h0M387.1 269.7h0M236.2 253.3h0M421.2 225.4h0M323.3 253.0h0M262.3 173.7h0M460.5 177.1h0M362.3 153.9h0M390.7 161.4h0M353.7 204.7h0M361.0 300.1h0M241.9 147.9h0M422.5 224.6h0M311.1 211.8h0M364.8 128.7h0M357.5 203.2h0M295.4 114.5h0M352.4 247.1h0M465.7 176.1h0M316.5 190.0h0M320.3 184.6h0M370.8 178.4h0M321.9 240.2h0M469.2 158.6h0M399.1 191.8h0M380.5 258.1h0M552.5 215.5h0M321.9 253.2h0M381.9 169.9h0M336.6 231.2h0M342.0 221.0h0M412.6 245.0h0M475.5 204.9h0M346.4 234.4h0M265.8 242.2h0M365.8 180.7h0M353.3 107.5h0M330.5 232.7h0M433.9 212.5h0M457.2 185.1h0M316.5 147.8h0M198.0 208.4h0M321.6 208.5h0M433.4 163.8h0M301.8 169.3h0M439.6 213.8h0M420.6 146.3h0M416.2 257.5h0M417.8 183.4h0M362.5 259.6h0M450.3 210.2h0M453.7 168.9h0M396.0 292.5h0M366.5 200.5h0M475.0 181.5h0M492.8 245.8h0M323.5 219.9h0M436.0 204.7h0M374.2 115.0h0M346.1 242.7h0M324.7 178.8h0M304.2 223.4h0M442.8 164.3h0M294.9 213.3h0M332.5 191.5h0M479.9 267.4h0M500.2 213.5h0M462.4 186.6h0M237.8 195.6h0M268.6 200.6h0M326.7 221.2h0M339.8 180.0h0M373.7 226.7h0M417.6 222.8h0M345.5 170.1h0M375.2 127.9h0M369.5 191.2h0M278.4 252.2h0M522.4 177.3h0M515.3 186.9h0M372.6 253.0h0M360.5 195.9h0M374.7 204.9h0M418.2 178.7h0M340.4 189.6h0M396.7 224.4h0M202.5 176.7h0M406.3 221.8h0M357.0 229.2h0M402.1 215.2h0M377.4 177.1h0M419.0 210.7h0M391.4 280.2h0M358.8 180.4h0M404.6 196.0h0M323.3 217.2h0M488.5 169.9h0M302.0 239.4h0M342.6 147.2h0M444.8 220.3h0M345.1 157.2h0M449.8 188.9h0M493.7 189.6h0M340.3 176.2h0M535.3 248.5h0M409.2 220.4h0M303.7 168.5h0M546.1 244.0h0M387.8 200.3h0M422.6 131.3h0M446.2 125.7h0M335.7 207.7h0M446.3 209.9h0M285.4 130.6h0M303.0 203.4h0M344.7 186.7h0M421.8 170.1h0M469.4 204.8h0M342.1 194.4h0M416.7 225.7h0M230.8 244.7h0M355.5 289.6h0M409.0 134.5h0M332.8 210.7h0M239.0 158.1h0M260.5 147.7h0M425.4 121.8h0M486.1 174.6h0M346.7 199.1h0M508.6 187.8h0M282.0 205.6h0M423.7 205.7h0M397.8 216.9h0M459.7 199.5h0M268.3 208.5h0M455.0 204.6h0M382.5 175.3h0M310.7 136.3h0M339.4 130.0h0M356.7 213.2h0M395.1 150.6h0M310.8 224.6h0M309.7 171.2h0M379.1 158.9h0M369.3 181.4h0M411.1 199.0h0M444.6 268.1h0M243.7 172.1h0M364.1 169.4h0M389.0 208.3h0M374.2 235.2h0M293.3 186.8h0M426.7 170.4h0M514.0 217.6h0M356.6 206.6h0M311.8 212.5h0M430.9 135.8h0M370.5 222.5h0M378.0 198.4h0M386.2 242.0h0M334.9 184.6h0M367.6 213.7h0M315.7 184.1h0M452.3 132.4h0M390.5 153.4h0M362.8 160.4h0M356.4 171.3h0M459.1 266.2h0M433.9 227.7h0M346.2 241.1h0M278.8 188.4h0M405.1 168.0h0M385.3 188.5h0M449.4 140.1h0M358.4 243.1h0M385.8 194.7h0M394.4 255.6h0M376.8 135.7h0M391.7 199.9h0M344.2 263.4h0M318.5 199.4h0M259.6 150.0h0M376.2 152.6h0M338.3 250.5h0M284.7 148.1h0M269.1 184.6h0M392.4 196.0h0M360.2 260.8h0M287.2 274.4h0M377.6 172.5h0M530.6 206.3h0M449.9 228.8h0M362.9 223.3h0M492.7 229.6h0M527.6 149.1h0M447.8 199.4h0M525.1 138.1h0M384.7 192.4h0M418.4 219.7h0M361.8 233.4h0M339.8 106.1h0M370.2 208.3h0M311.4 136.0h0M361.0 218.5h0M425.3 206.9h0M354.0 239.7h0M514.2 211.7h0M488.8 166.2h0M291.7 182.8h0M317.3 213.1h0M376.2 188.1h0M382.9 214.4h0M329.6 152.2h0M289.1 250.2h0M462.8 247.3h0M309.5 220.8h0M411.5 194.8h0M527.3 185.7h0M411.2 224.6h0M352.8 218.6h0M419.0 240.5h0M413.1 169.1h0M334.6 224.6h0M389.4 246.8h0M282.0 156.3h0M246.8 202.8h0M327.7 199.3h0M246.4 188.6h0M321.6 239.1h0M358.9 190.7h0M382.2 229.2h0M527.0 218.0h0M300.6 229.9h0M333.5 187.4h0M333.0 169.8h0M294.4 225.0h0M542.2 202.3h0M310.2 232.8h0M349.2 177.1h0M353.5 174.2h0M343.6 204.2h0M310.4 192.0h0M468.6 228.3h0M317.8 190.2h0M222.8 204.5h0M459.3 221.8h0M442.0 153.3h0M265.1 238.7h0M277.4 197.7h0M363.2 187.4h0M295.4 195.8h0M258.5 171.2h0M517.6 203.5h0M453.2 181.8h0M353.0 261.8h0M372.7 179.2h0M338.9 213.5h0M361.5 246.0h0M513.1 217.9h0M316.8 193.5h0M307.1 186.0h0M360.1 158.1h0M313.6 236.2h0M330.1 225.9h0M330.1 207.1h0M290.7 199.7h0M462.8 274.2h0M313.7 218.9h0M472.6 258.7h0M300.4 149.6h0M295.8 163.9h0M382.0 167.0h0M342.5 230.9h0M430.8 186.9h0M416.5 256.8h0M286.7 186.4h0M359.0 238.7h0M346.1 188.7h0M358.2 199.0h0M416.8 154.4h0M344.8 213.5h0M362.9 213.3h0M451.5 135.7h0M357.7 152.6h0M426.2 144.5h0M470.1 226.6h0M461.4 166.1h0M232.5 157.4h0M313.6 220.1h0M268.6 175.2h0M304.0 222.0h0M347.1 232.5h0M543.6 179.7h0M313.8 129.9h0M338.9 189.3h0M348.4 291.0h0M487.9 157.7h0M319.5 256.3h0M397.2 174.6h0M427.9 161.6h0M406.9 262.5h0M221.4 181.4h0M267.1 110.5h0M414.7 145.3h0M236.5 163.8h0M342.1 176.3h0M252.6 251.8h0M390.2 240.5h0M354.9 200.4h0M248.8 217.8h0M339.0 180.5h0M280.9 130.0h0M316.2 201.0h0M461.1 192.5h0M379.4 239.3h0M383.9 214.4h0M486.4 250.2h0M365.6 183.9h0M466.0 186.9h0M388.5 182.1h0M378.4 165.7h0M330.2 245.5h0M296.7 206.8h0M283.0 149.8h0M289.9 174.3h0M398.7 280.1h0M389.6 298.4h0M296.5 258.3h0M458.4 207.4h0M310.7 266.8h0M328.5 198.3h0M260.6 150.7h0M296.8 203.2h0M427.8 156.2h0M392.3 192.2h0M311.4 294.8h0M459.1 224.2h0M353.0 209.8h0M364.0 234.8h0M443.6 183.3h0M394.2 212.0h0M333.3 159.2h0M282.4 142.7h0M463.9 181.6h0M312.6 105.8h0M237.6 176.9h0M314.9 155.4h0M425.9 162.3h0M333.2 259.8h0M326.5 225.4h0M354.4 240.6h0M525.4 192.8h0M471.4 157.4h0M375.8 161.8h0M311.3 273.8h0M384.8 178.3h0M340.6 207.7h0M349.3 136.2h0M283.9 242.1h0M262.9 163.7h0M280.3 198.0h0M377.0 265.3h0M292.3 235.4h0M403.2 195.7h0M411.4 262.6h0M440.5 281.2h0M285.6 221.5h0M277.1 121.9h0M343.7 180.8h0M408.0 246.1h0M405.2 170.7h0M500.2 190.6h0M478.3 161.8h0M448.5 185.0h0M456.6 244.3h0M385.7 231.2h0M434.4 157.4h0M345.2 255.4h0M335.4 141.4h0M443.4 243.8h0M252.4 238.8h0M484.6 149.2h0M333.1 245.3h0M430.3 231.7h0M383.7 213.0h0M299.6 169.8h0M400.3 220.2h0M413.8 141.1h0M454.7 237.5h0M347.3 300.5h0M383.3 195.4h0M327.1 246.9h0M454.8 168.1h0M365.0 216.9h0M442.6 196.0h0M322.7 221.7h0M382.1 190.9h0M306.9 130.2h0M317.9 247.3h0M464.0 155.4h0M358.8 249.6h0M366.2 151.8h0M431.6 237.2h0M313.2 218.1h0M540.1 183.1h0M315.7 243.2h0M343.2 213.2h0M252.6 229.8h0M523.1 256.5h0M403.3 116.6h0M413.4 261.6h0M296.4 191.7h0M385.8 193.0h0M281.7 146.3h0M453.6 172.6h0M353.4 189.8h0M323.6 204.9h0M335.3 204.6h0M359.7 185.8h0M450.6 209.8h0M400.0 239.0h0M314.8 180.4h0M307.2 173.3h0M296.2 246.4h0M434.3 221.2h0M408.3 162.2h0M290.4 229.7h0M256.5 219.0h0M365.5 294.7h0M327.1 239.5h0M411.1 237.0h0M360.3 198.9h0M398.4 162.5h0M433.7 199.2h0M453.7 192.4h0M352.6 189.9h0M425.6 251.2h0M326.4 157.8h0M282.6 274.0h0M385.8 160.1h0M466.3 143.3h0M485.5 243.6h0M363.2 191.7h0M248.8 170.4h0M392.9 219.6h0M351.6 180.9h0M416.7 207.5h0M454.3 186.9h0M335.0 207.5h0M315.3 165.6h0M338.2 230.1h0M317.2 182.5h0M295.5 204.0h0M383.3 108.6h0M313.1 220.2h0M345.4 175.1h0M341.6 190.4h0M321.6 184.2h0M413.5 175.4h0M331.9 156.3h0M359.6 237.8h0M428.8 178.7h0M354.8 189.1h0M264.2 182.2h0M330.6 166.2h0M330.5 243.3h0M414.5 169.0h0M502.8 213.3h0M380.3 162.9h0M355.1 134.7h0M484.6 135.0h0M314.5 216.3h0M387.8 112.7h0M361.0 168.4h0M350.9 219.4h0M378.2 164.1h0M488.9 241.6h0M409.0 187.7h0M321.5 184.3h0M386.7 259.7h0M441.0 216.7h0M512.7 178.2h0M428.0 172.1h0M379.4 229.3h0M476.9 254.3h0M434.6 183.7h0M375.6 188.3h0M316.7 239.8h0M371.1 165.7h0M439.7 214.1h0M289.0 205.3h0M254.8 187.6h0M404.0 157.2h0M273.7 186.5h0M349.0 142.7h0M346.4 205.7h0M368.1 171.8h0M376.2 177.1h0M404.3 255.9h0M355.9 223.7h0M304.3 153.9h0M462.6 180.6h0M424.3 140.8h0M411.0 201.4h0M360.8 195.4h0M299.7 235.2h0M399.0 238.6h0M356.8 241.3h0M267.9 165.2h0M443.0 193.6h0M263.7 119.5h0M330.2 208.1h0M506.8 188.1h0M303.9 103.8h0M374.9 221.6h0M445.1 215.2h0M361.6 128.3h0M325.3 179.4h0M357.2 204.2h0M257.9 188.6h0M476.3 255.5h0M415.5 199.5h0M380.5 185.8h0M389.0 175.9h0M333.9 281.6h0M259.0 194.8h0M411.8 224.8h0M362.4 232.7h0M487.2 240.4h0M278.6 212.6h0M371.8 275.2h0M543.0 222.3h0M266.9 203.1h0M276.6 149.7h0M376.3 181.7h0M498.1 195.9h0M276.3 239.7h0M363.5 172.5h0M345.4 206.1h0M318.6 187.5h0M456.0 208.6h0M368.8 268.9h0M267.5 133.7h0M314.0 244.4h0M365.3 144.2h0M261.7 176.9h0M308.5 191.3h0M328.5 236.0h0M218.6 194.5h0M510.9 201.0h0M247.8 234.8h0M362.2 239.0h0M344.7 191.4h0M314.0 218.3h0M453.9 258.1h0M362.0 219.5h0M298.1 154.9h0M450.4 202.4h0M399.6 133.6h0M284.6 291.5h0M253.1 205.6h0M426.5 128.4h0M347.2 178.7h0M257.1 215.3h0M399.5 229.1h0M258.6 190.5h0M307.8 179.7h0M299.0 156.7h0M225.2 234.6h0M410.6 252.5h0M407.1 207.2h0M388.6 204.8h0M338.8 174.3h0M352.6 181.7h0M378.8 222.1h0M406.0 209.6h0M321.6 215.9h0M361.3 165.7h0M342.8 230.7h0M401.8 153.9h0M433.2 252.3h0M446.9 190.8h0M327.3 210.4h0M324.9 167.3h0M414.1 194.4h0M341.5 164.6h0M345.2 203.7h0M390.8 247.1h0M469.5 207.2h0M276.9 226.6h0M452.5 193.2h0M328.5 219.0h0M415.7 167.8h0M272.4 157.9h0M353.5 179.3h0M318.3 133.3h0M511.1 233.2h0M295.9 181.3h0M455.5 189.0h0M305.8 160.0h0M284.8 219.3h0M387.8 243.4h0M448.9 184.2h0M359.9 244.4h0M411.2 212.4h0M382.6 207.1h0M360.3 124.8h0M477.9 160.4h0M365.2 249.4h0M434.0 244.7h0M283.3 292.3h0M351.2 172.0h0M440.5 234.2h0M331.7 133.9h0M221.8 161.0h0M425.0 153.3h0M411.1 164.0h0M344.7 213.1h0M374.6 262.2h0M341.4 208.6h0M396.2 147.5h0M455.4 259.8h0M390.6 216.9h0M360.0 134.0h0M331.1 260.8h0M354.9 203.4h0M329.9 234.5h0M444.5 175.7h0M291.6 178.3h0M324.4 219.1h0M394.2 132.2h0M393.1 204.5h0M386.7 240.4h0M336.3 220.6h0M383.0 198.5h0M267.7 182.5h0M261.6 182.3h0M277.2 265.0h0M397.2 214.3h0M479.9 210.9h0M336.2 161.3h0M327.1 218.6h0M346.5 234.4h0M385.3 274.4h0M376.6 237.5h0M327.7 192.7h0M408.2 123.0h0M384.3 231.8h0M311.1 179.0h0M477.2 139.3h0M368.2 246.8h0M294.5 199.3h0M358.8 187.1h0M390.5 147.7h0M249.2 166.9h0M377.2 169.4h0M418.0 240.2h0M360.3 218.2h0M404.0 251.4h0M383.3 156.4h0M308.4 256.6h0M426.6 216.7h0M314.7 254.9h0M346.6 187.0h0M315.4 221.4h0M419.2 159.4h0M334.1 250.9h0M333.7 204.7h0M224.6 172.0h0M347.8 193.7h0M448.2 203.8h0M396.7 203.2h0M365.1 150.4h0M248.9 191.2h0M337.3 204.7h0M443.7 302.0h0M367.3 215.7h0M395.0 139.1h0M457.1 222.8h0M344.1 146.3h0M436.7 152.9h0M280.3 163.3h0M306.1 237.6h0M486.8 273.0h0M478.6 229.4h0M442.8 140.6h0M264.3 203.1h0M351.7 233.3h0M530.0 183.2h0M279.4 134.9h0M325.6 151.9h0M394.4 146.3h0M326.8 259.7h0M347.0 240.1h0M392.2 232.9h0M371.8 251.7h0M241.9 168.9h0M281.4 114.3h0M504.9 225.8h0M373.4 127.1h0M522.0 230.3h0M489.6 225.2h0M459.2 209.3h0M375.4 258.8h0M497.1 220.7h0M337.4 146.8h0M417.5 232.6h0M418.3 174.0h0M343.5 229.7h0M330.9 189.6h0M354.4 214.3h0M335.2 159.9h0M310.8 194.8h0M389.1 171.3h0M470.9 227.9h0M540.6 175.6h0M435.4 160.6h0M367.2 240.9h0M423.8 237.0h0M518.3 152.5h0M386.3 212.9h0M457.1 225.2h0M406.5 163.4h0M386.8 168.7h0M335.0 194.3h0M433.3 269.1h0M316.7 199.7h0M304.8 198.8h0M455.0 218.7h0M451.0 245.3h0M444.1 153.7h0M354.1 235.6h0M366.9 217.8h0M467.6 238.2h0M552.9 203.6h0M393.6 283.3h0M372.4 161.2h0M322.6 128.0h0M329.9 218.5h0M290.6 220.8h0M396.5 207.5h0M305.7 195.2h0M361.7 265.7h0M471.8 159.4h0M428.5 230.0h0M292.1 222.3h0M410.5 223.3h0M345.5 167.7h0M311.8 275.5h0M379.8 244.4h0M441.2 239.4h0M498.8 222.6h0M395.0 137.4h0M469.0 175.9h0M427.8 144.0h0M427.5 199.5h0M452.6 132.9h0M278.6 194.6h0M344.6 167.0h0M497.3 195.8h0M313.0 145.4h0M532.6 200.7h0M300.3 223.7h0M382.7 137.9h0M393.8 221.9h0M351.2 305.1h0M447.1 187.3h0M441.4 159.7h0M321.7 110.3h0M312.9 167.0h0M338.9 178.5h0M360.8 216.8h0M386.6 272.4h0M292.4 153.3h0M389.0 205.4h0M223.0 258.4h0M333.1 220.8h0M304.4 205.4h0M317.4 203.9h0M361.5 139.5h0M385.5 136.2h0M313.2 230.6h0M368.3 258.5h0M262.6 244.5h0M338.2 244.3h0M438.8 272.3h0M315.8 263.9h0M342.3 183.5h0M363.1 211.5h0M427.7 101.0h0M392.6 246.4h0M352.2 207.3h0M294.0 204.1h0M382.3 244.4h0M395.9 207.5h0M310.5 161.8h0M413.1 269.7h0M359.0 144.5h0M471.3 175.8h0M317.8 218.8h0M231.9 272.3h0M365.2 198.8h0M328.0 137.3h0M356.1 168.3h0M457.0 215.4h0M299.6 223.1h0M414.8 146.1h0M431.9 251.1h0M447.0 162.0h0M374.2 191.0h0M313.8 145.9h0M346.0 145.9h0M305.5 188.9h0M436.2 183.2h0M502.6 147.2h0M416.7 212.3h0M278.2 155.9h0M461.9 238.9h0M277.9 212.5h0M336.0 220.0h0M452.0 209.3h0M321.2 160.4h0M418.3 215.8h0M343.9 225.2h0M283.3 202.7h0M379.2 213.1h0M324.8 213.2h0M506.8 190.0h0M514.0 177.5h0M490.0 205.6h0M292.4 204.8h0M519.6 228.4h0M387.1 252.3h0M402.3 186.2h0M378.5 179.7h0M324.6 285.1h0M373.6 197.4h0M432.5 199.0h0M489.1 165.2h0M407.6 217.2h0M365.2 103.8h0M329.6 166.5h0M341.1 188.4h0M496.0 169.8h0M417.1 209.7h0M381.5 249.0h0M252.7 213.4h0M245.2 181.1h0M412.6 164.1h0M452.3 252.8h0M379.0 263.9h0M317.2 222.7h0M248.4 233.5h0M299.2 231.6h0M386.4 179.3h0M400.1 174.0h0M474.5 224.3h0M266.6 197.5h0M411.0 278.8h0M388.6 190.6h0M229.9 171.5h0M312.9 171.2h0M370.7 107.2h0M335.1 226.4h0M391.7 173.3h0M365.7 224.2h0M322.8 214.5h0M392.2 219.9h0M357.3 124.2h0M455.4 180.5h0M263.5 182.6h0M345.9 209.4h0M314.2 150.8h0M344.9 149.4h0M393.7 246.0h0M412.7 133.8h0M221.0 203.2h0M455.1 148.1h0M404.3 230.0h0M403.1 174.5h0M368.1 178.6h0M437.5 155.2h0M394.4 109.3h0M315.0 191.8h0M344.2 259.2h0M336.2 224.2h0M330.1 152.6h0M409.8 173.3h0M284.3 219.4h0M309.0 198.4h0M292.5 165.4h0M360.5 212.7h0M396.4 234.0h0M298.3 248.2h0M392.3 270.3h0M323.0 200.4h0M476.6 183.1h0M214.6 180.3h0M454.1 257.7h0M335.7 268.7h0M300.7 202.9h0M405.4 173.9h0M323.1 185.5h0M447.0 119.8h0M366.8 190.2h0M322.8 103.8h0M331.1 222.4h0M399.8 237.2h0M444.1 250.8h0M280.5 141.4h0M281.4 166.2h0M400.4 255.0h0M515.7 186.7h0M326.0 262.7h0M416.8 203.4h0M335.1 223.2h0M437.9 131.3h0M261.7 119.2h0M410.9 159.7h0M273.2 139.7h0M303.7 127.5h0M390.1 218.8h0M346.9 263.6h0M359.6 161.2h0M405.5 190.3h0M379.9 254.4h0M487.0 200.0h0M424.3 229.9h0M303.6 226.9h0M359.6 249.2h0M324.7 246.4h0M335.1 209.3h0M513.8 155.3h0M308.7 244.7h0M468.4 150.0h0M489.0 205.6h0M385.3 231.4h0M388.6 220.0h0M338.7 183.9h0M514.1 194.8h0M342.0 192.3h0M462.1 207.8h0M291.9 177.7h0M315.1 186.8h0M367.8 187.4h0M364.3 277.9h0M351.5 170.7h0M354.7 284.4h0M517.3 170.0h0M210.7 187.9h0M327.6 196.9h0M283.8 225.2h0M383.1 264.7h0M332.0 244.8h0M402.3 250.9h0M365.6 214.9h0M272.2 195.5h0M329.2 149.9h0M434.7 299.9h0M336.5 197.7h0M376.4 169.6h0M258.0 147.2h0M421.0 188.6h0M355.0 153.0h0M408.7 246.9h0M298.2 251.8h0M323.8 170.4h0M301.9 256.8h0M502.6 238.8h0M243.2 215.0h0M397.1 214.0h0M383.6 189.2h0M467.5 243.6h0M385.3 126.2h0M289.7 233.3h0M403.6 198.6h0M448.6 187.2h0M355.2 207.4h0M309.1 227.8h0M326.4 204.5h0M409.1 158.8h0M247.3 209.6h0M506.4 207.3h0M489.4 150.8h0M376.2 183.0h0M526.4 171.7h0M276.7 205.6h0M433.5 291.1h0M358.5 199.5h0M316.5 176.7h0M430.3 195.5h0M345.3 156.1h0M309.2 170.8h0M346.6 164.6h0M306.1 222.4h0M346.0 173.6h0M359.5 202.5h0M450.4 214.3h0M355.6 151.6h0M306.3 223.1h0M422.9 270.2h0M335.2 186.7h0M292.5 209.1h0M276.4 247.0h0M511.0 259.0h0M354.0 211.2h0M497.3 190.6h0M291.5 221.4h0M286.1 149.4h0M506.9 164.4h0M342.9 173.7h0M347.7 217.5h0M345.0 148.1h0M287.9 208.9h0M444.4 125.1h0M275.6 153.3h0M422.6 159.9h0M284.8 222.2h0M419.2 128.6h0M452.1 210.5h0M244.4 191.1h0M389.2 217.2h0M315.3 172.3h0M298.6 234.9h0M300.6 103.9h0M428.0 241.6h0M364.9 262.4h0M324.9 160.7h0M317.3 204.8h0M314.5 147.6h0M321.9 183.1h0M340.8 185.6h0M295.9 235.6h0M212.1 225.8h0M359.0 280.4h0M406.8 195.2h0M325.1 203.3h0M476.1 252.4h0M364.3 222.6h0M456.1 184.1h0M380.7 284.3h0M304.1 190.8h0M389.8 244.8h0M332.2 179.5h0M423.2 263.0h0M345.5 247.1h0M403.4 246.0h0M508.3 188.2h0M454.2 254.9h0M431.4 158.0h0M348.7 164.7h0M319.3 242.8h0M307.7 235.7h0M445.6 284.5h0M285.3 168.0h0M394.2 222.4h0M496.1 227.4h0M252.1 249.6h0M390.1 153.6h0M291.3 205.2h0M353.1 183.2h0M403.5 226.3h0M269.6 234.1h0M332.7 273.5h0M378.9 231.3h0M333.5 187.4h0M293.9 215.5h0M416.9 204.2h0M282.5 197.1h0M261.7 240.0h0M370.7 229.2h0M548.1 168.3h0M325.4 109.2h0M356.0 179.3h0M289.3 221.4h0M318.0 265.6h0M282.0 211.3h0M384.0 228.2h0M313.1 249.7h0M305.3 255.5h0M437.4 172.5h0M260.8 194.1h0M437.2 235.4h0M348.9 180.4h0M296.6 164.3h0M360.7 192.8h0M342.2 205.7h0M387.3 253.4h0M346.6 183.4h0M522.6 170.6h0M448.1 189.8h0M453.9 245.3h0M277.4 126.0h0M337.3 221.0h0M460.0 253.6h0M410.4 190.4h0M365.0 181.6h0M357.1 155.4h0M448.1 168.0h0M233.2 199.4h0M301.0 262.7h0M266.3 231.1h0M457.5 190.8h0M266.6 141.5h0M343.7 153.9h0M475.4 256.8h0M341.5 143.9h0M386.3 251.3h0M366.6 213.6h0M418.3 252.5h0M280.8 180.8h0M360.6 205.5h0M503.5 189.8h0M348.3 195.5h0M479.2 203.2h0M418.0 156.3h0M414.8 193.2h0M264.8 235.9h0M251.5 203.1h0M375.5 154.9h0M355.5 272.8h0M357.4 173.2h0M280.6 254.9h0M484.8 221.7h0M351.1 254.1h0M347.6 155.7h0M394.2 259.9h0M425.4 174.2h0M339.3 140.7h0M292.8 138.6h0M323.5 222.9h0M366.5 182.5h0M328.0 183.8h0M327.0 289.1h0M427.4 237.6h0M430.7 252.7h0M380.2 215.4h0M288.8 258.1h0M406.2 185.7h0M442.3 268.4h0M379.3 205.6h0M367.9 187.5h0M219.6 240.7h0M287.7 226.3h0M352.1 224.4h0M380.8 138.5h0M426.1 166.9h0M343.3 150.6h0M379.7 173.5h0M292.1 211.9h0M415.9 164.6h0M423.7 209.0h0M357.6 161.0h0M444.3 194.2h0M343.7 232.5h0M329.7 258.4h0M344.2 291.4h0M537.0 220.5h0M253.4 221.0h0M381.4 275.5h0M340.0 138.6h0M374.8 162.4h0M262.7 249.1h0M424.8 256.7h0M418.7 294.6h0M346.6 287.7h0M334.6 281.3h0M371.5 247.7h0M443.8 214.6h0M259.7 263.1h0M483.0 131.2h0M343.5 202.7h0M434.1 144.4h0M306.8 199.0h0M388.4 228.9h0M518.0 208.0h0M322.9 256.6h0M320.9 137.2h0M460.9 193.5h0M425.3 247.7h0M395.9 130.7h0M471.0 199.8h0M402.9 110.2h0M239.2 162.2h0M215.2 205.4h0M421.2 219.8h0M414.8 124.6h0M304.1 177.0h0M412.7 130.7h0M354.4 227.7h0M373.0 267.8h0M448.6 102.2h0M259.6 199.1h0M398.1 139.3h0M411.7 220.0h0M356.1 227.8h0M383.3 243.8h0M288.4 229.8h0M382.4 130.4h0M420.9 144.9h0M433.0 199.6h0M319.4 231.6h0M435.3 167.6h0M394.4 184.5h0M423.8 223.5h0M367.7 208.5h0M420.8 251.2h0M386.0 153.9h0M347.6 207.8h0M463.3 208.9h0M368.6 195.9h0M264.9 178.2h0M407.4 263.7h0M470.6 177.1h0M430.5 222.2h0M432.7 209.1h0M310.6 173.4h0M393.7 216.5h0M271.9 217.0h0M499.8 171.4h0M294.8 230.1h0M340.6 228.2h0M281.7 245.3h0M314.8 173.7h0M336.7 216.9h0M285.5 148.2h0M335.2 218.4h0M420.4 254.9h0M348.1 271.0h0M427.1 107.7h0M356.8 186.6h0M377.3 221.7h0M279.1 124.3h0M287.6 218.3h0M342.2 128.7h0M409.1 226.1h0M293.5 118.3h0M414.5 166.0h0M535.0 174.9h0M396.2 201.3h0M450.0 176.7h0M383.2 182.6h0M418.5 207.2h0M402.3 231.2h0M465.3 219.8h0M452.9 147.8h0M365.8 244.3h0M281.3 166.3h0M363.9 169.5h0M382.3 203.8h0M245.3 157.5h0M462.6 238.1h0M529.7 225.6h0M442.0 165.5h0M339.3 184.9h0M434.8 183.4h0M482.4 230.0h0M490.3 222.3h0M461.3 219.3h0M299.8 205.2h0M363.9 186.4h0M409.0 237.4h0M375.2 232.0h0M236.6 214.6h0M358.5 209.4h0M318.9 236.2h0M387.7 236.2h0M398.5 157.5h0M269.2 150.3h0M315.3 187.3h0M383.5 173.7h0M295.0 179.4h0M368.3 197.2h0M309.0 266.9h0M318.3 209.0h0M441.7 215.9h0M360.4 243.4h0M329.1 177.1h0M499.1 193.7h0M346.3 123.4h0M367.7 167.2h0M371.5 233.2h0M420.5 191.1h0M439.7 275.5h0M342.4 281.3h0M438.4 214.0h0M462.7 169.5h0M285.9 148.7h0M404.5 205.2h0M509.7 157.7h0M526.1 204.5h0M389.8 181.7h0M320.4 186.8h0M456.8 258.4h0M413.9 196.9h0M295.0 275.4h0M453.8 186.5h0M280.1 274.3h0M323.1 160.1h0M364.5 216.0h0M285.1 187.9h0M468.5 158.6h0M337.9 294.7h0M282.6 209.4h0M392.0 161.8h0M371.1 135.3h0M292.9 227.4h0M331.1 233.1h0M444.4 209.9h0M438.6 175.2h0M260.4 179.8h0M451.3 147.0h0M452.0 178.0h0M467.2 185.9h0M336.7 229.7h0M315.8 235.3h0M365.3 152.1h0M324.3 111.1h0M353.4 280.6h0M328.0 204.0h0M351.2 165.6h0M335.8 209.2h0M375.7 163.0h0M385.6 177.4h0M332.0 178.6h0M508.6 269.7h0M448.8 233.3h0M411.7 185.8h0M308.4 199.2h0M423.2 227.3h0M360.5 242.7h0M420.4 161.1h0M390.9 185.1h0M374.1 235.4h0M299.0 180.2h0M461.4 218.6h0M467.3 232.9h0M484.0 200.3h0M198.1 218.2h0M303.4 250.0h0M311.6 144.1h0M256.2 205.0h0M381.0 212.4h0M459.1 115.2h0M444.5 165.7h0M372.2 133.6h0M500.8 154.9h0M389.5 212.0h0M345.1 192.0h0M313.3 197.5h0M395.0 188.4h0M336.4 234.9h0M343.3 213.7h0M481.8 164.0h0M311.5 178.8h0M269.5 210.5h0M385.7 173.4h0M417.8 220.1h0M357.4 197.7h0M365.5 176.2h0M322.1 184.4h0M271.5 149.7h0M309.6 211.8h0M288.4 173.2h0M466.0 169.1h0M345.6 186.2h0M481.9 296.4h0M354.3 249.9h0M298.2 170.8h0M379.1 155.2h0M380.1 230.8h0M474.3 157.2h0M225.9 249.2h0M332.7 169.6h0M396.0 248.6h0M309.1 290.4h0M373.5 187.2h0M342.4 230.6h0M483.4 237.0h0M256.3 165.0h0M306.4 259.9h0M359.3 250.7h0M352.6 217.6h0M326.5 227.2h0M412.7 158.5h0M435.0 167.3h0M372.5 201.2h0M342.7 146.7h0M368.0 221.7h0M304.4 213.4h0M431.4 274.5h0M432.2 159.5h0M297.9 265.9h0M486.8 225.7h0M361.6 221.2h0M431.7 208.8h0M365.3 209.5h0M351.8 178.3h0M422.4 168.2h0M294.8 263.9h0M347.0 108.7h0M280.2 251.9h0M404.5 227.0h0M348.2 220.5h0M341.5 256.5h0M326.4 211.2h0M416.9 222.5h0M386.4 240.6h0M349.0 205.9h0M331.1 253.7h0M517.5 252.0h0M491.2 207.9h0M285.1 228.8h0M465.1 171.9h0M407.6 223.4h0M390.0 216.6h0M399.6 147.0h0M269.2 208.8h0M543.5 169.7h0M369.6 152.2h0M367.3 207.6h0M378.2 183.5h0M317.1 165.7h0M409.1 211.8h0M363.5 166.9h0M288.6 212.9h0M329.2 255.1h0M317.6 222.2h0M320.5 216.1h0M339.7 163.6h0M414.5 266.4h0M333.4 196.9h0M251.5 283.0h0M483.8 186.3h0M321.0 210.1h0M484.0 153.3h0M383.1 222.9h0M407.3 148.0h0M302.9 210.0h0M371.6 282.1h0M335.7 239.4h0M359.7 150.6h0M401.2 248.4h0M335.2 154.4h0M430.6 194.0h0M264.5 181.4h0M287.0 188.5h0M398.1 204.4h0M405.5 100.8h0M451.2 252.5h0M499.8 202.0h0M399.8 159.6h0M425.1 218.8h0M384.7 268.6h0M377.1 159.6h0M358.1 233.7h0M374.5 201.0h0M324.5 208.0h0M354.3 180.2h0M429.6 207.5h0M405.1 232.0h0M459.5 137.3h0M331.1 169.3h0M339.3 180.5h0M399.6 178.3h0M303.8 127.5h0M301.0 176.1h0M414.6 151.7h0M342.9 218.4h0M434.2 202.1h0M371.9 209.0h0M332.6 218.0h0M289.9 179.7h0M461.9 158.7h0M358.2 232.6h0M299.9 182.6h0M259.1 173.3h0M275.4 272.2h0M333.2 136.8h0M463.5 240.3h0M296.8 260.7h0M384.9 187.5h0M379.1 175.9h0M271.7 165.3h0M425.3 115.6h0M451.2 274.0h0M361.0 143.9h0M244.4 232.2h0M516.5 213.1h0M350.1 201.5h0M490.2 236.6h0M375.4 184.3h0M304.9 189.2h0M449.7 210.6h0M509.5 219.2h0M275.3 255.2h0M408.0 230.3h0M276.0 250.9h0M315.4 196.4h0M469.2 159.6h0M259.3 227.0h0M251.7 246.0h0M267.3 233.6h0M418.2 166.7h0M343.2 154.9h0M347.6 194.5h0M291.6 220.6h0M416.4 200.9h0M375.6 180.6h0M352.0 210.5h0M299.6 121.6h0M253.9 197.5h0M357.4 106.4h0M310.4 122.8h0M407.6 284.5h0M412.4 244.0h0M327.8 250.6h0M401.3 188.1h0M428.9 208.6h0M362.6 275.2h0M463.1 158.3h0M441.4 195.5h0M242.7 245.2h0M341.6 174.8h0M322.4 280.8h0M489.2 154.1h0M445.7 172.6h0M367.4 207.9h0M403.5 171.3h0M429.5 193.6h0M307.2 203.3h0M345.3 196.1h0M351.6 219.0h0M327.6 220.6h0M334.5 218.8h0M376.8 213.9h0M267.2 206.7h0M276.7 218.9h0M421.0 222.7h0M485.5 242.1h0M237.5 176.4h0M387.7 285.5h0M297.7 244.1h0M318.6 250.5h0M341.5 183.8h0M389.3 219.4h0M402.4 222.1h0M197.4 193.4h0M313.8 238.3h0M445.7 156.5h0M367.6 169.3h0M245.8 241.9h0M287.1 223.4h0M438.9 225.4h0M505.2 213.3h0M279.1 241.3h0M397.2 201.8h0M335.8 203.2h0M402.1 159.0h0M339.6 196.5h0M277.0 182.8h0M309.3 224.3h0M476.9 201.1h0M301.8 248.5h0M295.5 229.1h0M307.5 218.3h0M373.6 205.6h0M314.3 214.1h0M523.0 170.8h0M463.9 238.4h0M275.7 209.8h0M396.3 120.4h0M480.8 229.5h0M270.7 146.9h0M326.0 153.8h0M478.4 216.1h0M296.4 178.8h0M405.7 205.4h0M350.2 208.9h0M369.7 192.1h0M282.0 214.3h0M350.7 128.9h0M323.9 271.7h0M503.7 237.6h0M406.4 169.6h0M364.5 188.7h0M354.5 262.3h0M410.1 159.0h0M245.1 123.7h0M283.9 288.8h0M289.6 256.3h0M297.7 215.0h0M242.0 271.9h0M395.8 220.5h0M320.7 230.8h0M457.5 227.1h0M346.4 233.2h0M327.9 157.5h0M389.5 203.4h0M389.0 216.3h0M334.0 153.4h0M400.5 144.9h0M457.6 198.5h0M322.1 270.3h0M460.7 196.3h0M340.7 247.5h0M424.1 256.6h0M351.9 259.9h0M326.9 228.9h0M378.3 124.9h0M275.9 105.5h0M244.8 150.5h0M352.2 188.2h0M337.1 195.5h0M275.8 178.8h0M536.2 187.8h0M386.9 227.8h0M302.8 147.2h0M395.3 227.7h0M397.5 226.0h0M326.5 123.0h0M337.4 207.4h0M229.0 198.1h0M372.5 223.9h0M514.0 223.1h0M447.7 105.1h0M438.8 286.1h0M312.6 205.5h0M278.8 242.6h0M425.5 241.4h0M378.2 157.2h0M340.5 198.1h0M332.0 191.6h0M430.3 298.4h0M404.5 142.2h0M321.0 268.7h0M346.8 240.4h0M240.9 195.3h0M272.3 154.0h0M399.5 193.0h0M321.6 230.7h0M293.2 158.8h0M376.1 211.1h0M457.6 229.9h0M294.9 231.3h0M331.4 185.6h0M336.2 229.6h0M436.8 112.8h0M375.7 149.0h0M256.4 137.0h0M415.1 168.3h0M399.7 235.2h0M340.8 222.8h0M301.2 217.0h0M322.3 176.8h0M326.8 129.8h0M321.6 137.6h0M290.4 230.6h0M331.4 187.8h0M246.6 246.2h0M445.8 239.6h0M343.2 242.4h0M272.0 164.1h0M415.3 176.5h0M398.1 127.0h0M318.4 200.1h0M262.9 198.4h0M349.9 174.6h0M390.6 188.6h0M404.6 209.2h0M427.6 241.5h0M421.8 175.2h0M252.8 171.4h0M363.6 195.6h0M228.3 223.5h0M431.2 283.8h0M385.6 242.8h0M357.3 124.2h0M354.1 164.4h0M339.6 158.9h0M457.9 191.5h0M338.2 211.9h0M379.6 182.4h0M389.1 197.7h0M312.7 239.2h0M354.7 151.2h0M381.1 198.0h0M318.7 113.8h0M390.3 143.9h0M454.2 244.6h0M420.6 165.2h0M376.3 153.3h0M342.9 233.6h0M412.3 177.4h0M316.9 238.4h0M309.9 282.7h0M328.9 187.8h0M262.1 211.8h0M422.9 173.1h0M412.3 275.4h0M446.1 224.2h0M448.2 178.2h0M346.9 195.7h0M343.6 166.3h0M376.1 169.7h0M280.4 218.0h0M343.6 241.2h0M376.2 162.6h0M326.4 191.7h0M363.6 224.3h0M355.5 194.2h0M300.1 226.6h0M383.4 267.5h0M402.5 170.6h0M223.7 209.7h0M309.4 248.7h0M422.5 202.6h0M393.1 267.6h0M231.1 182.4h0M376.7 248.2h0M472.6 211.2h0M428.2 226.2h0M419.7 170.1h0M351.7 247.1h0M366.0 148.5h0M279.5 245.4h0M361.6 200.2h0M359.0 257.8h0M295.2 137.9h0M401.5 234.8h0M224.5 214.7h0M555.7 180.2h0M409.5 237.0h0M341.8 199.4h0M334.6 283.4h0M296.8 178.2h0M370.6 270.5h0M364.7 263.0h0M255.0 216.2h0M441.4 172.5h0M335.8 199.9h0M285.2 143.1h0M436.7 171.2h0M421.1 175.1h0M320.9 216.3h0M315.4 138.4h0M450.4 221.7h0M333.6 180.5h0M378.4 243.4h0M474.6 228.5h0M278.0 173.1h0M259.1 210.4h0M302.6 209.8h0M321.4 177.1h0M365.9 189.2h0M441.8 195.5h0M332.6 156.2h0M504.8 148.2h0M380.9 209.7h0M361.9 221.3h0M420.9 237.4h0M453.3 182.9h0M313.3 218.9h0M357.4 166.6h0M556.5 231.5h0M299.4 221.4h0M260.0 196.8h0M333.3 198.6h0M394.1 139.4h0M287.3 167.3h0M476.6 188.9h0M311.5 172.4h0M236.4 202.2h0M416.9 255.3h0M368.9 138.2h0M349.0 170.9h0M470.2 206.6h0M322.5 146.8h0M421.9 159.1h0M327.5 219.6h0M502.6 225.5h0M367.1 212.6h0M368.8 154.1h0M413.3 222.5h0M360.9 234.2h0M402.3 178.6h0M349.5 200.3h0M415.9 186.4h0M372.1 187.4h0M327.6 174.6h0M411.8 216.6h0M404.1 163.4h0M291.7 272.2h0M345.2 226.2h0M252.0 186.0h0M375.6 295.6h0M433.9 206.1h0M389.7 247.2h0M451.7 230.4h0M488.9 198.9h0M425.1 202.8h0M240.8 171.6h0M333.6 147.0h0M394.1 151.9h0M390.7 308.5h0M377.1 172.0h0M303.2 204.7h0M396.7 168.9h0M461.3 196.7h0M332.7 179.1h0M411.0 134.9h0M328.9 220.7h0M357.2 225.8h0M325.7 188.8h0M433.2 190.9h0M302.0 225.9h0M379.0 229.9h0M366.5 230.6h0M281.5 233.9h0M397.9 172.5h0M354.4 140.8h0M277.6 255.0h0M354.3 164.0h0M346.1 229.8h0M415.6 205.0h0M332.4 164.5h0M375.2 211.6h0M414.9 276.3h0M445.8 181.6h0M368.9 189.4h0M296.6 111.4h0M377.7 148.4h0M450.0 177.5h0M317.8 200.1h0M327.3 219.5h0M478.5 183.1h0M496.2 255.9h0M534.7 164.1h0M370.7 232.0h0M300.1 157.1h0M299.5 185.6h0M343.6 209.6h0M296.9 234.7h0M401.1 171.8h0M469.7 185.8h0M292.2 191.1h0M488.4 215.2h0M303.1 264.1h0M317.4 231.9h0M271.7 187.5h0M424.7 190.2h0M361.3 256.6h0M369.6 261.6h0M324.4 202.3h0M390.8 164.1h0M532.2 209.9h0M392.1 157.4h0M455.2 196.3h0M345.4 295.6h0M440.4 219.3h0M472.1 240.7h0M295.1 263.3h0M546.4 189.7h0M293.3 206.1h0M382.4 212.7h0M341.7 206.3h0M358.0 181.0h0M239.5 229.3h0M349.7 293.0h0M286.5 188.5h0M356.6 240.6h0M391.9 157.7h0M376.7 218.4h0M364.4 177.6h0M486.5 267.6h0M398.3 186.8h0M419.7 233.2h0M482.7 210.4h0M368.1 153.6h0M381.1 207.6h0M425.9 205.7h0M353.1 239.4h0M475.2 198.7h0M326.8 127.8h0M357.2 161.4h0M362.5 182.7h0M349.3 234.1h0M371.8 189.1h0M337.6 243.8h0M214.1 190.8h0M465.8 222.4h0M340.3 247.2h0M430.3 212.2h0M295.2 131.0h0M417.6 254.2h0M280.5 194.0h0M491.3 240.5h0M338.3 202.9h0M185.6 199.4h0M218.8 182.1h0M333.1 197.8h0M323.2 159.3h0M323.4 162.7h0M330.9 222.9h0M444.9 194.2h0M338.3 234.2h0M338.2 219.3h0M313.5 171.6h0M291.4 202.7h0M395.9 189.1h0M336.0 225.0h0M339.5 274.5h0M389.7 205.3h0M371.7 181.6h0M429.2 296.5h0M425.6 192.0h0M276.9 170.8h0M310.5 186.2h0M444.1 111.2h0M339.3 268.2h0M416.7 251.2h0M304.4 249.0h0M207.1 224.8h0M220.9 193.3h0M317.4 179.7h0M336.1 169.2h0M427.2 243.5h0M423.5 237.1h0M441.8 159.0h0M258.1 284.5h0M373.6 169.7h0M361.3 203.2h0M536.0 203.0h0M318.7 181.4h0M375.6 149.5h0M355.9 177.6h0M377.7 245.5h0M388.5 184.1h0M382.8 216.7h0M324.4 149.1h0M338.4 185.5h0M325.8 280.4h0M411.2 218.2h0M299.9 225.8h0M253.4 206.6h0M444.3 197.0h0M388.1 205.9h0M482.3 246.3h0M459.8 173.2h0M394.5 153.5h0M320.8 226.3h0M541.2 177.5h0M382.4 218.4h0M435.2 212.7h0M453.8 183.4h0M430.0 178.0h0M418.0 231.1h0M366.5 173.7h0M317.8 146.5h0M275.9 188.8h0M406.8 271.7h0M335.0 183.8h0M463.4 150.5h0M370.1 176.0h0M481.2 247.1h0M391.4 216.8h0M326.3 221.5h0M359.1 224.8h0M439.5 267.6h0M337.6 145.7h0M322.0 258.3h0M369.2 228.1h0M407.4 161.7h0M484.2 234.7h0M416.3 262.7h0M452.0 193.7h0M368.2 246.9h0M334.1 224.1h0M401.2 207.1h0M372.9 232.3h0M407.3 225.9h0M359.0 240.9h0M330.4 140.8h0M289.4 140.7h0M344.1 253.7h0M383.0 219.7h0M465.8 208.4h0M426.4 198.7h0M350.5 275.4h0M332.9 174.7h0M275.3 222.0h0M435.7 269.7h0M388.3 181.7h0M428.9 181.9h0M441.1 193.4h0M423.8 121.0h0M372.9 254.8h0M358.5 248.8h0M307.9 285.5h0M332.9 206.1h0M413.0 227.4h0M349.0 280.4h0M397.2 224.3h0M386.2 181.0h0M353.1 224.6h0M379.2 209.9h0M359.4 255.0h0M245.0 240.5h0M443.3 161.7h0M253.6 162.1h0M334.1 224.4h0M343.0 191.4h0M409.0 222.7h0M357.3 258.0h0M337.8 154.6h0M309.9 225.3h0M389.7 167.3h0M345.7 206.5h0M318.0 202.1h0M275.9 160.0h0M306.9 106.6h0M379.5 189.9h0M259.9 152.9h0M377.7 213.2h0M373.8 210.0h0M458.9 246.7h0M316.9 227.8h0M296.6 121.6h0M358.0 130.1h0M336.7 165.8h0M195.4 196.9h0M459.7 216.1h0M382.3 175.3h0M374.5 218.8h0M306.1 163.6h0M391.5 251.7h0M342.7 185.4h0M493.6 184.2h0M417.9 184.9h0M479.1 207.7h0M278.2 268.1h0M301.5 213.8h0M333.4 247.2h0M319.3 174.2h0M495.2 236.5h0M391.6 240.1h0M288.4 249.4h0M344.3 166.5h0M515.7 171.0h0M341.5 209.0h0M411.4 233.6h0M247.3 170.2h0M323.4 215.0h0M352.4 275.0h0M345.1 123.0h0M363.9 152.9h0M390.6 198.7h0M455.4 228.6h0M245.4 204.7h0M368.4 229.8h0M418.7 269.1h0M381.5 187.8h0M455.1 173.0h0M354.3 268.0h0M332.4 135.7h0M305.0 244.9h0M435.4 266.2h0M274.4 220.4h0M332.3 184.5h0M360.4 216.1h0M411.1 185.8h0M342.0 294.3h0M296.6 234.9h0M408.0 212.5h0M282.9 226.6h0M310.5 230.7h0M375.3 223.3h0M372.2 175.7h0M243.6 195.8h0M344.4 162.6h0M403.7 149.8h0M312.7 219.2h0M247.3 183.9h0M353.0 201.6h0M406.9 237.0h0M235.3 247.2h0M426.2 214.5h0M354.8 186.0h0M431.6 238.7h0M287.0 173.8h0M432.7 275.4h0M383.7 190.3h0M420.4 259.3h0M365.2 165.3h0M436.9 245.4h0M347.5 228.4h0M328.4 202.9h0M287.6 254.1h0M253.7 230.8h0M365.2 213.8h0M335.3 205.2h0M352.3 230.3h0M339.3 215.7h0M386.0 176.0h0M363.4 179.2h0M317.5 201.9h0M418.4 159.1h0M298.2 244.0h0M328.6 184.0h0M308.9 217.2h0M441.3 244.4h0M312.4 241.2h0M277.8 209.7h0M294.8 192.4h0M445.0 141.2h0M371.6 150.3h0M220.4 144.4h0M420.1 142.8h0M393.8 216.8h0M415.2 123.2h0M360.6 171.9h0M459.4 226.0h0M413.7 220.6h0M451.8 226.6h0M314.9 202.6h0M459.8 200.0h0M347.3 212.2h0M493.1 246.5h0M447.6 238.4h0M378.3 215.4h0M420.6 144.7h0M416.8 169.9h0M392.9 211.0h0M315.8 269.0h0M280.1 180.8h0M282.9 220.4h0M358.6 182.5h0M373.9 166.4h0M432.0 211.0h0M457.8 232.4h0M397.6 217.3h0M390.3 105.9h0M311.0 255.4h0M460.6 117.0h0M493.6 253.4h0M370.8 267.4h0M333.2 143.0h0M378.6 184.1h0M388.2 211.8h0M449.9 226.6h0M277.4 185.0h0M385.3 254.9h0M452.5 189.2h0M407.0 208.1h0M433.0 205.9h0M212.7 237.0h0M316.0 227.1h0M346.8 138.1h0M322.2 241.2h0M219.8 161.1h0M463.5 167.6h0M395.8 175.6h0M242.6 195.3h0M339.2 232.8h0M377.8 232.9h0M452.0 143.8h0M427.3 204.0h0M300.9 252.2h0M325.6 246.6h0M391.0 215.7h0M452.8 176.6h0M340.0 232.8h0M326.4 195.9h0M418.2 148.1h0M383.1 98.9h0M485.0 230.1h0M410.0 259.2h0M452.5 293.3h0M237.5 262.9h0M275.6 225.9h0M264.2 200.9h0M320.5 215.0h0M397.5 236.3h0M349.4 156.0h0M409.4 213.1h0M314.2 189.9h0M447.7 237.5h0M436.9 234.0h0M291.9 136.1h0M322.6 203.9h0M433.0 229.0h0M429.6 169.2h0M518.6 211.5h0M261.9 202.4h0M383.7 181.4h0M365.4 177.3h0M345.5 218.9h0M355.8 254.5h0M225.7 176.7h0M388.3 228.2h0M334.2 213.4h0M276.4 179.3h0M481.5 181.0h0M314.4 162.4h0M382.8 210.6h0M314.3 228.3h0M256.6 189.6h0M330.5 125.5h0M389.0 206.6h0M292.3 196.2h0M404.0 185.7h0M507.9 252.3h0M462.0 168.0h0M342.0 188.3h0M307.8 207.7h0M439.5 266.9h0M267.7 154.6h0M291.4 210.3h0M512.4 124.3h0M397.1 172.9h0M406.5 189.9h0M346.5 144.8h0M358.9 167.9h0M437.9 207.1h0M349.7 170.1h0M408.3 189.5h0M483.9 192.7h0M479.5 261.6h0M354.7 162.4h0M405.4 225.8h0M453.3 206.8h0M495.8 230.1h0M421.0 290.5h0M367.2 155.8h0M294.9 153.3h0M303.0 227.6h0M256.9 203.3h0M295.1 267.8h0M309.6 178.6h0M433.9 208.0h0M256.6 230.0h0M407.9 112.5h0M237.3 263.7h0M330.8 165.3h0M386.3 178.4h0M526.1 184.5h0M359.4 262.1h0M382.2 166.7h0M385.8 261.8h0M419.4 180.0h0M336.4 223.4h0M526.0 190.5h0M470.0 204.4h0M385.7 246.6h0M477.2 202.0h0M366.7 178.8h0M334.6 246.3h0M366.4 291.9h0M412.1 196.6h0M264.0 192.2h0M349.6 180.8h0M410.5 146.7h0M293.4 171.4h0M400.4 220.5h0M292.9 176.2h0M389.6 217.7h0M368.0 211.6h0M401.0 230.9h0M318.6 267.5h0M235.4 198.9h0M267.1 226.0h0M307.6 278.8h0M254.3 203.6h0M489.6 175.2h0M430.6 164.0h0M442.1 228.7h0M288.5 191.5h0M456.4 246.6h0M314.8 259.3h0M476.0 204.2h0M364.9 227.4h0M213.4 202.5h0M362.9 228.5h0M305.8 143.0h0M274.6 270.9h0M347.5 137.6h0M348.6 156.9h0M307.4 225.1h0M315.0 159.8h0M365.4 182.9h0M397.3 163.2h0M336.8 265.1h0M348.5 196.4h0M369.1 271.2h0M298.6 210.9h0M350.5 131.7h0M371.3 207.8h0M453.8 123.7h0M423.8 243.5h0M408.4 107.2h0M443.9 248.0h0M310.3 224.5h0M462.5 267.1h0M339.8 220.6h0M356.8 213.6h0M336.7 185.2h0M421.0 175.4h0M319.6 169.5h0M414.4 187.9h0M340.7 191.5h0M329.2 302.5h0M398.3 220.3h0M303.6 162.0h0M465.7 260.9h0M313.2 205.0h0M330.2 170.6h0M465.3 207.6h0M260.8 171.1h0M438.9 225.4h0M370.7 187.6h0M372.4 247.0h0M380.6 148.2h0M298.5 210.0h0M504.9 146.0h0M407.8 281.1h0M417.2 151.1h0M430.2 287.5h0M443.6 191.4h0M389.0 246.2h0M295.9 164.9h0M272.3 186.6h0M267.5 260.8h0M330.0 143.0h0M445.0 227.7h0M270.7 130.3h0M337.1 292.1h0M410.5 248.1h0M337.4 121.1h0M342.8 185.2h0M285.4 246.7h0M375.1 300.1h0M318.9 197.6h0M310.5 119.5h0M331.7 255.5h0M390.4 166.8h0M439.9 201.1h0M279.0 178.3h0M399.9 138.6h0M233.3 265.9h0M312.3 204.4h0M365.5 199.9h0M357.0 172.2h0M390.3 214.8h0M223.7 148.6h0M476.3 148.2h0M427.1 136.8h0M414.1 133.6h0M250.3 207.7h0M397.3 130.0h0M324.4 278.1h0M325.7 190.1h0M362.9 175.1h0M250.8 183.1h0M449.8 265.5h0M426.4 197.1h0M478.4 274.9h0M245.3 242.0h0M340.6 210.0h0M337.5 178.2h0M274.7 297.9h0M428.1 177.5h0M288.0 153.3h0M409.1 127.7h0M369.9 196.9h0M375.9 177.0h0M418.7 195.2h0M334.7 189.1h0M503.3 217.0h0M365.6 195.0h0M364.2 195.2h0M243.8 205.4h0M401.4 203.5h0M413.0 197.2h0M385.6 212.7h0M495.4 216.8h0M229.5 201.7h0M435.4 130.5h0M251.2 156.7h0M288.5 143.4h0M228.3 182.9h0M428.2 264.4h0M352.9 208.0h0M329.7 176.5h0M364.4 285.3h0M220.2 230.6h0M316.1 165.9h0M375.8 217.9h0M316.9 241.7h0M355.3 239.6h0M250.8 169.4h0M372.5 207.9h0M337.0 168.0h0M375.8 138.4h0M487.7 222.2h0M364.7 110.4h0M314.9 190.1h0M388.4 243.3h0M279.8 224.1h0M493.6 198.0h0M358.4 215.6h0M359.0 205.7h0M396.0 257.8h0M269.6 222.0h0M355.8 232.4h0M340.2 169.8h0M538.9 196.2h0M473.9 179.2h0M508.9 248.2h0M359.9 238.6h0M367.9 206.9h0M440.4 240.7h0M307.2 205.7h0M290.8 194.5h0M484.1 229.7h0M392.9 216.1h0M239.8 146.6h0M324.7 246.7h0M321.9 163.5h0M305.1 238.7h0M380.6 161.7h0M290.4 128.8h0M273.4 272.4h0M519.3 199.2h0M393.0 277.0h0M283.6 172.6h0M536.6 171.3h0M400.6 259.6h0M384.6 178.3h0M480.7 167.2h0M372.3 194.4h0M459.7 109.8h0M503.4 189.1h0M270.8 196.9h0M518.5 246.7h0M428.3 247.7h0M371.3 199.9h0M210.5 206.2h0M530.1 204.1h0M388.8 298.7h0M412.5 174.3h0M280.2 240.2h0M412.2 210.8h0M409.3 150.1h0M488.3 231.4h0M297.9 255.9h0M218.3 217.7h0M319.1 154.7h0M292.7 230.8h0M384.6 234.0h0M351.8 186.9h0M379.7 245.7h0M467.5 136.4h0M504.6 154.1h0M368.1 190.4h0M253.7 204.1h0M362.4 244.9h0M347.7 247.0h0M356.3 172.6h0M351.0 250.5h0M359.8 274.4h0M215.1 241.0h0M403.6 201.3h0M399.8 195.2h0M386.2 170.2h0M351.1 120.5h0M430.4 172.1h0M244.1 141.3h0M351.0 213.3h0M403.6 210.8h0M325.4 221.0h0M352.8 219.1h0M437.7 227.2h0M345.1 181.9h0M295.1 188.7h0M322.7 223.0h0M385.2 268.4h0M284.1 126.0h0M358.2 156.0h0M327.9 191.6h0M361.6 158.5h0M415.8 179.3h0M414.0 203.9h0M362.5 167.8h0M374.3 237.9h0M418.3 233.7h0M302.3 234.6h0M369.4 223.1h0M277.9 235.5h0M365.5 238.5h0M269.5 161.3h0M323.6 296.9h0M416.4 174.0h0M379.7 218.6h0M246.8 137.7h0M502.2 154.4h0M376.0 213.4h0M387.7 221.6h0M337.0 271.4h0M302.1 240.8h0M256.9 258.8h0M371.3 291.0h0M358.4 138.2h0M341.3 269.4h0M418.6 170.8h0M384.4 219.4h0M288.5 200.0h0M330.7 244.2h0M448.9 243.4h0M265.8 229.4h0M539.2 188.5h0M321.4 124.2h0M395.1 204.9h0M252.8 206.7h0M396.2 231.2h0M368.5 290.8h0M331.1 254.4h0M366.1 225.7h0M366.4 183.2h0M419.4 272.9h0M341.2 236.4h0M364.0 208.4h0M417.6 139.6h0M362.0 191.4h0M277.3 233.3h0M426.4 226.2h0M339.3 187.2h0M380.5 215.4h0M311.4 195.4h0M351.3 189.2h0M293.0 266.5h0M491.2 240.3h0M288.7 219.7h0M439.0 187.6h0M237.0 264.8h0M382.4 147.6h0M342.3 217.1h0M440.9 159.5h0M381.0 113.7h0M556.5 187.1h0M324.2 190.3h0M417.6 142.8h0M296.8 202.0h0M295.4 180.0h0M359.6 134.3h0M434.1 183.7h0M415.2 168.0h0M351.0 266.5h0M454.1 265.0h0M282.2 235.1h0M300.5 240.3h0M359.4 308.0h0M241.9 213.4h0M474.1 212.6h0M355.4 273.1h0M341.0 231.1h0M399.4 165.0h0M272.3 272.5h0M357.4 213.1h0M249.8 266.3h0M354.0 273.6h0M375.6 188.7h0M497.8 208.7h0M367.3 230.6h0M476.6 150.9h0M365.9 162.5h0M255.4 210.0h0M426.1 205.1h0M372.3 164.3h0M324.6 200.2h0M440.5 222.1h0M291.8 172.7h0M338.3 168.5h0M422.0 197.1h0M433.4 156.6h0M319.0 164.2h0M389.6 185.6h0M372.5 116.2h0M414.9 176.7h0M349.3 211.3h0M224.5 154.4h0M339.1 251.3h0M490.4 217.4h0M306.0 259.5h0M351.2 199.0h0M431.5 230.9h0M349.3 198.9h0M289.5 154.1h0M364.2 228.2h0M351.6 170.4h0M303.9 225.9h0M354.5 158.4h0M269.6 202.0h0M258.2 188.6h0M286.5 256.5h0M352.4 189.3h0M366.6 252.2h0M322.5 225.7h0M453.5 271.0h0M413.1 186.6h0M370.4 246.0h0M457.9 245.3h0M488.8 235.5h0M422.5 216.6h0M326.1 266.2h0M434.5 145.3h0M463.0 239.2h0M400.0 180.5h0M359.5 227.7h0M389.0 242.9h0M393.9 220.8h0M243.2 191.4h0M498.6 164.9h0M371.9 140.3h0M536.2 175.0h0M373.5 224.2h0M310.2 137.4h0M375.1 200.9h0M439.0 170.4h0M336.4 248.7h0M335.0 251.6h0M318.9 221.4h0M318.4 170.3h0M400.8 207.6h0M279.0 253.7h0M381.6 237.9h0M455.3 117.7h0M299.2 238.1h0M350.8 279.5h0M311.2 172.0h0M338.7 119.8h0M377.8 169.7h0M421.0 208.7h0M436.6 195.9h0M318.2 194.2h0M321.3 171.6h0M284.8 169.3h0M297.1 197.8h0M234.5 250.2h0M368.4 166.5h0M240.5 248.5h0M380.1 261.3h0M298.9 177.0h0M224.9 257.9h0M393.4 182.6h0M290.9 189.7h0M362.0 133.4h0M364.7 157.3h0M382.5 160.6h0M389.6 216.2h0M385.9 213.8h0M359.0 184.5h0M313.6 181.2h0M321.0 156.3h0M291.7 183.3h0M435.4 261.2h0M355.6 190.6h0M419.8 290.7h0M393.0 225.7h0M559.8 187.1h0M361.4 257.6h0M417.0 200.0h0M324.5 244.7h0M462.6 179.5h0M354.9 264.8h0M372.8 219.5h0M274.1 209.9h0M414.1 243.9h0M509.8 180.2h0M482.2 110.7h0M293.7 163.7h0M442.5 242.5h0M320.0 268.8h0M257.4 140.3h0M283.3 223.0h0M474.5 228.3h0M348.6 141.1h0M285.6 123.7h0M399.5 278.8h0M397.6 219.2h0M349.0 185.8h0M410.6 224.6h0M344.2 127.4h0M473.0 218.1h0M433.5 195.7h0M367.2 185.0h0M399.6 248.5h0M443.9 200.5h0M363.6 200.1h0M412.4 178.7h0M362.0 162.9h0M346.7 192.6h0M296.9 148.2h0M373.1 169.9h0M300.4 165.0h0M335.1 221.7h0M338.3 147.9h0M349.8 226.0h0M269.3 205.8h0M405.3 254.3h0M385.2 226.0h0M343.9 228.5h0M278.4 155.8h0M290.6 168.1h0M350.6 239.9h0M410.3 210.1h0M357.9 273.2h0M310.8 213.7h0M387.4 203.2h0M291.3 196.1h0M428.3 262.4h0M323.8 174.6h0M449.7 224.0h0M296.7 158.0h0M373.3 238.3h0M408.6 187.1h0M465.2 262.8h0M369.5 264.4h0M478.3 235.8h0M351.5 173.9h0M367.0 212.0h0M374.2 211.0h0M357.9 215.4h0M524.3 246.7h0M339.1 168.2h0M449.6 145.0h0M401.3 137.6h0M544.4 250.2h0M352.2 238.0h0M426.1 177.9h0M414.5 196.3h0M401.4 183.1h0M454.3 230.1h0M498.0 235.2h0M293.8 208.3h0M355.6 234.6h0M471.7 249.6h0M290.4 179.5h0M312.3 121.6h0M418.3 191.6h0M426.3 130.8h0M482.7 122.0h0M464.0 229.6h0M388.4 151.9h0M296.4 174.9h0M324.3 203.2h0M372.3 155.4h0M402.1 224.4h0M376.7 282.5h0M437.2 159.3h0M317.5 194.4h0M280.6 155.0h0M361.4 192.6h0M453.6 176.6h0M479.0 219.1h0M402.4 183.1h0M360.4 262.2h0M337.1 190.2h0M354.9 167.0h0M253.5 181.8h0M436.3 217.3h0M397.6 221.5h0M442.1 113.7h0M431.9 169.9h0M383.8 205.6h0M389.8 264.8h0M450.0 157.1h0M347.4 159.1h0M278.1 192.1h0M442.3 254.4h0M377.3 153.4h0M463.0 178.8h0M325.9 161.0h0M258.0 235.8h0M360.9 263.4h0M303.4 269.5h0M503.3 239.2h0M395.6 171.8h0M288.9 218.5h0M261.0 253.1h0M365.6 234.3h0M420.1 159.6h0M395.4 186.1h0M469.5 180.2h0M399.0 242.8h0M411.2 211.1h0M242.1 178.3h0M479.9 231.2h0M332.9 216.8h0M449.3 170.7h0M264.5 246.2h0M307.9 202.2h0M471.2 194.0h0M285.2 153.8h0M387.2 204.4h0M344.8 221.2h0M404.6 166.3h0M481.7 184.9h0M372.0 220.4h0M255.7 138.1h0M331.9 184.3h0M378.5 156.5h0M371.7 189.6h0M263.4 233.6h0M431.6 196.0h0M345.4 163.0h0M251.2 205.4h0M268.5 208.7h0M219.3 200.3h0M315.4 152.0h0M357.6 210.7h0M368.8 187.6h0M344.7 205.9h0M411.2 102.7h0M370.5 197.0h0M357.7 210.8h0M310.9 175.4h0M285.0 187.6h0M303.9 149.4h0M399.1 232.7h0M333.7 196.3h0M491.4 143.0h0M435.0 180.4h0M272.9 207.2h0M404.4 205.2h0M321.5 190.3h0M470.4 201.4h0M315.7 156.0h0M502.3 223.0h0M412.1 157.4h0M352.1 217.2h0M252.9 164.0h0M360.7 157.5h0M313.5 158.0h0M397.8 286.9h0M304.5 143.3h0M406.4 242.9h0M333.3 198.5h0M415.4 140.5h0M435.1 184.1h0M382.8 162.9h0M408.5 213.3h0M459.1 250.2h0M300.1 286.6h0M417.1 173.9h0M388.7 172.5h0M504.5 169.4h0M356.0 198.1h0M449.2 163.7h0M251.3 276.8h0M472.6 195.8h0M403.0 188.8h0M442.1 207.6h0M279.8 151.9h0M352.7 306.3h0M376.0 227.6h0M346.3 182.1h0M331.0 222.7h0M447.5 287.5h0M372.2 216.5h0M351.4 234.8h0M372.9 115.5h0M478.7 165.0h0M528.5 144.3h0M458.4 219.0h0M409.0 131.8h0M327.4 177.4h0M301.7 188.6h0M300.8 222.4h0M467.4 270.7h0M324.7 254.5h0M483.5 205.1h0M378.1 206.9h0M359.3 113.1h0M354.0 251.2h0M268.6 158.1h0M338.8 177.9h0M437.9 195.3h0M424.4 152.1h0M381.6 185.1h0M423.8 240.3h0M381.6 259.3h0M401.0 284.2h0M380.6 173.7h0M249.4 216.8h0M225.9 148.3h0M386.1 219.3h0M449.5 175.0h0M367.8 173.9h0M380.1 146.7h0M417.6 282.3h0M299.1 198.6h0M366.2 254.2h0M395.9 201.5h0M340.3 207.4h0M309.2 204.2h0M411.6 264.5h0M459.5 110.7h0M375.4 182.8h0M212.2 163.7h0M311.9 214.1h0M337.8 168.9h0M403.4 196.3h0M333.7 166.7h0M336.7 153.1h0M447.5 214.4h0M471.9 241.8h0M374.4 208.0h0M289.3 130.1h0M280.9 156.5h0M418.2 228.8h0M310.6 175.4h0M365.1 229.9h0M352.7 196.3h0M378.2 261.2h0M392.6 148.8h0M292.5 202.9h0M319.1 232.8h0M380.2 217.4h0M368.2 134.8h0M270.7 155.1h0M528.1 175.8h0M268.0 140.2h0M449.7 172.3h0M252.9 167.8h0M442.9 176.9h0M243.6 174.0h0M438.3 158.4h0M378.3 229.6h0M428.1 241.2h0M310.6 186.8h0M385.0 253.8h0M383.6 250.7h0M377.3 178.7h0M323.8 275.3h0M475.9 265.5h0M240.6 235.8h0M257.7 179.7h0M262.2 212.3h0M481.7 175.0h0M300.7 231.6h0M311.3 184.5h0M311.5 144.8h0M340.9 144.9h0M345.1 170.7h0M328.4 153.3h0M258.6 217.6h0M396.7 232.2h0M364.4 203.8h0M489.6 181.3h0M396.9 185.3h0M358.8 172.2h0M264.3 156.7h0M371.3 217.8h0M411.9 169.9h0M504.3 222.5h0M395.9 150.0h0M428.8 140.5h0M412.5 210.2h0M458.2 199.0h0M369.6 158.7h0M264.2 261.2h0M502.1 199.7h0M372.5 180.6h0M307.6 141.1h0M264.7 228.0h0M243.6 173.2h0M385.7 156.5h0M352.9 180.8h0M389.4 245.4h0M464.8 233.1h0M320.4 143.2h0M388.1 104.6h0M326.2 265.8h0M302.5 197.9h0M308.3 212.1h0M453.4 219.7h0M327.3 193.6h0M388.9 197.4h0M374.8 206.6h0M539.6 199.6h0M487.5 269.7h0M318.6 186.4h0M334.2 179.2h0M459.5 250.3h0M385.0 153.6h0M375.1 182.4h0M463.1 198.7h0M412.2 126.4h0M379.6 214.2h0M400.3 233.0h0M273.2 204.7h0M394.4 137.6h0M389.3 128.7h0M511.7 158.4h0M394.6 180.6h0M322.1 184.0h0M397.8 181.4h0M281.0 217.2h0M341.1 136.6h0M396.2 166.1h0M305.8 260.1h0M230.0 189.7h0M292.5 192.8h0M307.9 227.4h0M411.9 137.4h0M331.4 210.7h0M360.8 190.6h0M297.8 161.0h0M370.6 205.7h0M319.1 261.7h0M409.3 210.4h0M382.9 189.8h0M483.9 270.4h0M410.1 223.7h0M340.0 286.9h0M301.0 256.4h0M379.7 205.7h0M421.3 171.1h0M492.1 186.3h0M322.4 248.8h0M270.1 140.1h0M347.2 218.1h0M340.8 247.0h0M337.8 156.5h0M357.6 95.7h0M386.1 170.6h0M244.9 173.2h0M363.5 234.0h0M347.3 191.7h0M346.2 203.9h0M327.4 186.4h0M232.3 259.7h0M395.1 172.7h0M323.8 185.3h0M349.7 205.9h0M391.6 165.1h0M292.6 149.1h0M278.0 187.9h0M422.6 228.8h0M302.9 223.4h0M542.3 184.9h0M280.9 160.7h0M370.6 185.6h0M353.1 160.3h0M378.3 286.7h0M291.7 251.4h0M382.9 190.8h0M525.2 230.7h0M318.0 173.8h0M211.7 194.2h0M407.3 205.2h0M389.4 144.4h0M409.5 200.0h0M299.7 168.2h0M389.0 221.1h0M427.1 150.6h0M322.3 169.8h0M361.2 223.5h0M397.1 268.6h0M415.6 224.6h0M340.3 214.2h0M372.4 132.9h0M524.2 174.6h0M527.1 208.3h0M283.8 195.4h0M541.8 205.5h0M330.0 251.4h0M441.7 263.3h0M271.6 174.6h0M342.9 161.7h0M310.5 124.6h0M420.9 204.9h0M372.6 229.0h0M390.3 259.3h0M387.1 167.7h0M371.8 179.4h0M428.7 162.8h0M365.6 303.3h0M350.2 278.0h0M310.8 180.4h0M292.6 212.2h0M317.6 165.7h0M383.8 183.7h0M346.9 188.9h0M522.0 194.0h0M455.3 202.7h0M358.9 138.8h0M382.6 127.4h0M354.3 106.1h0M233.0 246.9h0M419.4 165.9h0M372.1 173.0h0M242.5 241.8h0M424.4 150.5h0M315.4 179.0h0M338.4 163.5h0M239.8 217.3h0M352.7 188.6h0M387.8 121.1h0M324.6 246.7h0M354.5 260.5h0M228.8 214.0h0M395.1 187.6h0M351.0 195.1h0M351.4 145.8h0M406.2 184.5h0M435.7 249.7h0M348.6 213.0h0M425.0 137.3h0M505.4 137.7h0M278.3 185.2h0M360.9 257.7h0M243.9 218.4h0M380.1 199.0h0M463.7 240.9h0M343.7 165.3h0M273.9 215.5h0M314.8 184.2h0M384.7 147.3h0M251.2 223.8h0M388.6 197.9h0M259.9 246.0h0M358.8 141.2h0M278.9 257.8h0M244.7 263.0h0M416.3 238.0h0M442.7 190.3h0M298.0 188.3h0M549.4 191.8h0M366.1 202.1h0M395.0 158.9h0M368.6 215.5h0M279.3 267.8h0M437.2 138.4h0M366.8 277.0h0M395.3 151.5h0M367.9 161.4h0M328.1 180.2h0M558.4 200.6h0M391.2 209.8h0M340.6 276.7h0M409.4 227.4h0M272.9 256.9h0M385.7 180.1h0M309.2 119.6h0M396.0 148.0h0M360.4 196.3h0M447.1 231.2h0M286.0 239.6h0M291.7 231.9h0M451.3 137.9h0M378.3 208.8h0M409.8 305.7h0M399.2 249.1h0M268.0 180.3h0M241.4 200.2h0M396.2 209.1h0M259.3 203.8h0M236.9 198.6h0M316.9 165.2h0M346.3 118.5h0M377.4 221.8h0M234.0 208.4h0M464.4 225.9h0M289.8 251.8h0M368.0 190.3h0M353.4 256.0h0M286.3 193.2h0M387.8 247.5h0M383.3 233.0h0M448.0 167.1h0M519.0 250.0h0M540.3 227.6h0M433.7 209.3h0M411.7 199.2h0M331.9 205.2h0M254.3 167.6h0M391.3 146.6h0M316.4 200.4h0M338.8 240.6h0M323.5 195.8h0M391.5 237.5h0M329.0 132.7h0M428.7 215.4h0M322.0 190.2h0M388.1 205.7h0M475.0 220.6h0M275.3 205.4h0M376.3 220.3h0M321.0 143.9h0M364.7 230.1h0M323.9 194.5h0M374.1 152.2h0M396.0 241.3h0M409.7 204.0h0M416.4 176.4h0M362.8 265.1h0M314.2 229.0h0M356.4 168.4h0M495.2 246.8h0M349.1 228.8h0M298.0 247.3h0M417.4 178.6h0M417.7 184.2h0M382.9 209.2h0M475.2 246.9h0M317.8 257.3h0M334.1 261.4h0M451.5 232.3h0M506.4 213.4h0M379.5 184.4h0M462.5 228.4h0M400.7 184.3h0M364.3 216.0h0M248.1 186.7h0M545.4 239.4h0M459.1 188.5h0M426.8 180.4h0M319.6 229.8h0M289.9 179.6h0M321.0 260.5h0M421.6 158.8h0M358.6 216.9h0M346.9 188.6h0M350.0 149.4h0M334.1 199.8h0M404.4 223.8h0M223.6 230.3h0M268.3 189.1h0M349.8 153.9h0M278.5 169.2h0M374.6 177.9h0M334.1 286.5h0M392.9 147.1h0M349.7 197.3h0M362.6 152.1h0M421.3 278.1h0M337.2 267.7h0M242.2 239.7h0M365.2 226.6h0M366.4 124.2h0M328.1 197.5h0M447.0 193.2h0M407.4 259.3h0M495.9 257.3h0M338.8 148.3h0M337.8 90.8h0M408.1 166.9h0M316.8 207.0h0M407.4 204.4h0M366.2 234.9h0M345.9 190.2h0M443.0 218.9h0M440.3 165.8h0M426.5 168.0h0M321.5 226.4h0M369.6 212.5h0M252.5 234.3h0M412.5 207.0h0M277.6 246.5h0M349.6 222.3h0M438.4 220.0h0M352.1 252.9h0M382.0 208.7h0M321.2 150.1h0M283.5 191.2h0M327.9 250.6h0M360.8 177.4h0M330.1 260.6h0M377.5 271.4h0M438.5 141.1h0M228.2 149.5h0M447.4 197.0h0M403.8 208.8h0M504.1 179.3h0M506.3 137.8h0M417.3 302.7h0M469.7 221.4h0M329.3 269.9h0M294.8 240.2h0M360.9 231.8h0M394.4 126.5h0M355.4 220.5h0M413.8 213.6h0M431.3 212.8h0M530.9 173.0h0M368.1 149.2h0M345.0 207.4h0M419.0 235.4h0M399.1 251.9h0M428.8 214.6h0M320.6 187.7h0M442.9 182.5h0M497.2 173.5h0M491.2 150.6h0M275.9 230.4h0M358.7 171.8h0M490.7 209.0h0M382.7 228.8h0M417.9 167.7h0M373.8 189.4h0M491.2 174.9h0M401.6 255.6h0M359.9 169.2h0M389.9 133.4h0M500.0 247.7h0M265.5 267.3h0M236.0 223.9h0M435.2 223.7h0M260.2 223.1h0M388.4 209.6h0M323.4 224.7h0M392.6 91.2h0M320.7 187.4h0M213.5 146.9h0M369.0 144.7h0M358.2 184.0h0M502.5 212.1h0M425.8 163.3h0M460.2 157.4h0M354.3 264.5h0M379.6 228.4h0M405.4 159.8h0M324.9 159.5h0M435.7 204.8h0M403.4 236.6h0M346.3 173.1h0M339.2 191.7h0M439.0 239.8h0M356.6 127.6h0M400.8 203.0h0M391.6 186.2h0M354.3 149.9h0M396.2 232.6h0M433.6 182.2h0M322.4 170.9h0M320.4 255.1h0M439.8 205.2h0M284.1 156.2h0M470.7 210.7h0M414.0 229.3h0M483.5 190.3h0M367.2 114.4h0M378.6 171.3h0M392.2 147.4h0M306.6 162.2h0M460.4 277.9h0M320.7 198.6h0M301.4 200.4h0M396.1 209.8h0M483.9 271.9h0M366.5 150.2h0M350.4 179.1h0M368.7 184.4h0M404.0 214.5h0M261.2 170.5h0M398.8 204.4h0M402.6 237.3h0M455.6 181.2h0M458.6 257.3h0M422.8 197.7h0M543.8 193.4h0M373.1 227.2h0M364.0 184.2h0M508.8 220.8h0M381.9 171.9h0M329.8 144.6h0M332.5 212.3h0M371.9 230.8h0M277.1 194.4h0M452.7 237.8h0M396.6 179.8h0M299.1 185.8h0M346.7 221.2h0M325.4 195.8h0M414.2 192.4h0M402.9 159.8h0M432.4 261.1h0M428.4 192.0h0M295.2 170.4h0M394.3 249.6h0M379.4 245.8h0M371.1 169.2h0M412.2 230.1h0M243.1 249.5h0M321.9 209.7h0M351.3 144.8h0M310.8 197.6h0M289.0 167.8h0M444.9 147.7h0M440.3 212.0h0M512.5 231.9h0M420.5 163.4h0M343.0 217.6h0M291.3 173.7h0M407.0 140.0h0M360.1 262.5h0M248.3 191.1h0M372.1 259.9h0M252.5 208.4h0M405.7 160.8h0M276.8 136.3h0M419.4 187.7h0M437.3 207.1h0M344.3 259.0h0M282.4 145.6h0M409.3 204.2h0M372.4 233.9h0M380.6 261.5h0M334.1 243.3h0M259.8 226.2h0M327.8 230.4h0M477.6 144.5h0M314.5 204.8h0M354.0 146.1h0M436.2 246.2h0M383.7 195.1h0M331.7 187.3h0M518.3 190.5h0M375.5 228.2h0M385.8 188.4h0M315.0 195.1h0M258.7 161.2h0M396.8 227.2h0M337.5 231.6h0M386.8 157.3h0M500.2 197.3h0M365.8 241.8h0M425.6 247.7h0M287.6 179.5h0M370.5 229.6h0M374.7 251.7h0M451.1 150.2h0M424.0 204.7h0M227.5 154.3h0M379.5 229.9h0M373.2 128.5h0M340.0 241.2h0M379.9 187.4h0M408.1 232.3h0M438.9 294.8h0M284.0 200.7h0M303.5 159.1h0M366.9 152.2h0M414.7 235.4h0M295.9 143.5h0M364.1 136.9h0M276.0 216.9h0M366.5 260.1h0M350.7 216.2h0M402.7 286.7h0M474.8 259.3h0M308.6 237.1h0M396.6 223.6h0M256.8 218.9h0M387.8 223.0h0M509.8 250.5h0M259.0 208.2h0M327.3 136.4h0M397.0 155.6h0M549.0 204.9h0M298.8 132.3h0M390.1 191.2h0M477.0 214.2h0M310.2 251.4h0M380.7 160.2h0M310.5 158.5h0M330.8 143.4h0M367.5 146.8h0M434.6 183.2h0M383.4 266.1h0M353.4 198.8h0M452.3 211.5h0M405.3 260.2h0M398.1 255.9h0M241.1 211.2h0M350.7 122.4h0M290.9 160.2h0M511.7 183.6h0M419.0 163.3h0M485.5 231.7h0M307.5 173.8h0M261.2 145.6h0M309.4 194.2h0M417.1 234.3h0M317.8 171.6h0M424.1 151.8h0M478.0 162.5h0M343.5 200.2h0M446.8 211.9h0M221.1 166.5h0M280.8 163.0h0M323.7 231.0h0M343.2 296.8h0M340.8 304.2h0M451.7 172.3h0M435.3 209.1h0M401.5 197.6h0M302.7 179.1h0M484.7 178.2h0M420.1 201.5h0M296.5 222.0h0M447.4 261.7h0M343.3 261.4h0M411.5 190.4h0M398.5 190.0h0M415.2 244.4h0M493.3 234.5h0M401.2 206.0h0M380.4 123.4h0M368.5 216.0h0M407.5 150.8h0M419.1 217.1h0M380.2 203.4h0M434.7 178.8h0M461.4 207.4h0M370.0 171.8h0M420.6 245.9h0M350.6 184.5h0M319.6 277.4h0M411.4 200.7h0M523.8 213.0h0M325.9 280.4h0M303.1 286.3h0M218.4 202.5h0M429.9 237.6h0M295.9 198.0h0M319.2 247.3h0M296.4 191.3h0M308.3 254.2h0M433.9 130.6h0M315.4 219.4h0M384.0 256.0h0M317.8 210.9h0M343.4 128.2h0M422.5 212.9h0M421.9 154.4h0M287.3 179.8h0M372.0 205.7h0M302.1 279.4h0M425.9 194.6h0M324.3 148.4h0M302.6 278.2h0M435.1 188.4h0M327.7 171.0h0M379.0 188.8h0M425.3 187.6h0M329.5 255.8h0M345.0 103.3h0M415.6 160.0h0M415.1 203.7h0M427.0 191.8h0M370.9 110.6h0M365.6 234.6h0M491.8 172.9h0M314.7 256.3h0M490.8 211.9h0M312.1 219.3h0M280.2 266.4h0M406.0 200.4h0M448.9 167.7h0M516.2 207.9h0M559.5 181.9h0M217.5 199.5h0M354.1 105.6h0M345.1 194.8h0M397.9 202.4h0M307.3 203.8h0M372.1 196.6h0M390.8 277.6h0M384.3 284.6h0M307.5 244.9h0M387.6 203.0h0M305.8 261.0h0M307.4 205.6h0M349.7 183.5h0M432.7 176.9h0M232.2 194.4h0M364.4 266.5h0M483.1 260.9h0M380.8 255.4h0M329.3 217.7h0M388.5 176.5h0M500.8 217.3h0M356.1 200.1h0M317.1 173.6h0M429.6 249.3h0M348.7 132.3h0M317.1 140.6h0M434.3 150.3h0M307.0 176.6h0M345.4 196.4h0M477.9 237.5h0M379.8 241.5h0M472.2 184.3h0M244.7 176.1h0M262.1 205.9h0M310.4 248.9h0M357.4 223.2h0M236.1 231.6h0M384.0 245.7h0M326.7 221.9h0M328.4 206.6h0M369.1 115.5h0M347.5 182.9h0M280.8 148.5h0M349.0 170.9h0M281.2 190.2h0M474.6 236.5h0M332.0 250.5h0M346.5 168.7h0M317.8 229.2h0M368.3 234.3h0M384.0 123.6h0M356.2 222.4h0M291.0 204.9h0M456.6 129.9h0M364.2 215.1h0M237.2 239.0h0M285.2 188.3h0M282.1 243.6h0M250.0 256.5h0M295.5 238.9h0M390.5 148.9h0M467.2 251.9h0M382.4 187.6h0M391.3 187.9h0M458.0 268.9h0M458.4 281.1h0M355.1 273.4h0M292.9 116.5h0M398.5 237.2h0M462.7 157.5h0M389.4 224.2h0M325.3 256.9h0M411.4 253.5h0M358.7 195.8h0M230.4 179.7h0M407.7 184.2h0M316.7 208.7h0M459.5 251.4h0M318.6 172.8h0M371.7 242.9h0M323.8 169.6h0M513.9 183.4h0M477.3 227.3h0M364.7 243.8h0M483.9 252.7h0M277.1 183.3h0M417.3 240.6h0M324.8 161.4h0M355.5 305.9h0M331.8 240.5h0M412.9 215.3h0M242.6 170.8h0M331.6 184.9h0M479.4 219.9h0M213.6 177.7h0M350.3 214.2h0M271.6 168.8h0M397.4 257.1h0M330.5 168.9h0M471.0 193.8h0M238.0 167.6h0M395.8 236.4h0M499.7 169.5h0M239.1 194.5h0M418.0 213.2h0M422.3 197.4h0M383.3 236.1h0M483.4 223.3h0M421.2 218.6h0M315.2 185.4h0M311.6 199.0h0M357.6 172.7h0M506.8 179.0h0M358.2 165.9h0M440.5 276.2h0M357.6 249.4h0M418.5 161.5h0M411.2 206.2h0M470.2 249.4h0M525.5 205.1h0M332.0 283.9h0M286.6 156.1h0M363.5 215.7h0M366.9 114.6h0M390.7 265.2h0M451.7 180.7h0M338.6 218.5h0M370.7 254.6h0M371.5 205.0h0M461.7 190.6h0M338.6 179.2h0M470.2 274.1h0M354.6 188.3h0M491.0 273.0h0M415.7 183.9h0M367.3 108.5h0M548.1 181.4h0M476.3 173.7h0M349.6 220.6h0M418.6 225.2h0M323.4 171.8h0M274.6 170.4h0M461.0 198.5h0M374.6 96.4h0M515.6 231.9h0M387.3 247.7h0M396.5 206.5h0M366.4 140.5h0M388.1 195.9h0M316.2 165.4h0M357.1 173.5h0M247.3 189.3h0M276.2 170.4h0M327.4 229.4h0M367.1 138.5h0M360.0 277.1h0M471.3 219.9h0M209.4 215.1h0M495.5 139.6h0M449.7 227.3h0M329.7 222.7h0M384.8 203.5h0M237.4 163.2h0M355.0 196.9h0M506.0 266.2h0M285.9 167.4h0M327.2 219.0h0M379.7 240.9h0M426.0 148.0h0M375.1 181.1h0M331.9 214.8h0M423.6 258.4h0M327.8 215.2h0M474.8 201.1h0M379.7 123.3h0M311.7 222.4h0M328.8 196.7h0M316.7 189.0h0M345.6 203.2h0M404.4 209.0h0M277.9 154.0h0M383.4 294.1h0M371.1 152.8h0M300.6 204.7h0M476.9 202.9h0M408.2 127.4h0M395.3 187.7h0M327.5 154.4h0M315.7 137.0h0M372.7 117.6h0M265.9 193.0h0M397.8 240.3h0M287.6 231.0h0M367.6 192.0h0M422.2 215.3h0M348.9 98.9h0M320.9 210.8h0M313.4 171.1h0M379.4 225.2h0M288.0 227.9h0M364.2 199.0h0M446.4 186.5h0M237.7 183.7h0M309.5 275.2h0M388.4 180.9h0M287.2 211.9h0M291.7 234.7h0M279.1 256.6h0M434.8 135.0h0M221.2 200.8h0M356.1 144.4h0M349.7 180.9h0M365.9 228.7h0M307.4 118.0h0M369.8 204.2h0M325.7 191.2h0M301.6 233.3h0M444.6 207.6h0M286.0 183.6h0M311.7 245.8h0M396.9 229.3h0M481.2 211.9h0M419.2 227.1h0M378.6 168.6h0M458.2 226.4h0M323.7 212.6h0M307.6 222.6h0M384.8 182.0h0M384.6 206.8h0M367.1 190.1h0M463.2 132.8h0M418.4 215.3h0M372.4 162.9h0M281.2 199.0h0M418.2 240.5h0M432.7 253.9h0M317.5 219.0h0M358.0 209.4h0M285.9 195.5h0M373.9 161.2h0M348.1 218.3h0M242.9 211.2h0M365.0 172.6h0M340.4 220.1h0M339.7 146.9h0M448.4 215.9h0M402.7 169.5h0M434.7 162.3h0M341.4 161.6h0M475.8 177.4h0M309.8 155.4h0M423.7 201.1h0M261.6 202.5h0M292.8 122.7h0M264.2 180.4h0M418.4 233.8h0M380.4 262.7h0M404.8 199.7h0M368.8 239.1h0M386.4 182.6h0M363.3 232.7h0M354.0 175.1h0M375.2 142.1h0M294.0 186.8h0M261.9 196.5h0M300.5 176.6h0M318.0 131.7h0M409.2 180.0h0M456.6 172.3h0M460.8 145.0h0M352.0 159.2h0M425.7 192.3h0M526.1 197.8h0M420.0 156.7h0M477.0 148.7h0M300.3 164.0h0M441.6 161.3h0M434.8 184.9h0M283.4 265.5h0M373.6 178.7h0M419.9 112.6h0M306.0 257.8h0M443.3 192.9h0M449.1 175.6h0M394.0 214.5h0M362.2 172.0h0M355.8 265.9h0M399.7 191.7h0M461.8 193.4h0M274.0 174.9h0M384.7 210.8h0M389.1 182.8h0M306.4 175.0h0M277.9 185.2h0M352.6 155.9h0M252.1 226.4h0M385.8 250.7h0M347.2 148.4h0M289.2 173.9h0M368.8 213.1h0M305.9 137.1h0M314.6 160.0h0M463.0 216.4h0M310.8 196.7h0M198.0 204.5h0M291.8 242.2h0M301.6 198.7h0M494.6 190.4h0M360.7 275.3h0M431.4 237.3h0M268.3 127.8h0M291.1 276.1h0M304.8 168.1h0M422.5 188.6h0M316.0 142.7h0M233.3 260.1h0M424.4 196.0h0M326.0 219.9h0M371.3 241.2h0M424.9 201.3h0M361.7 269.2h0M496.2 186.5h0M267.9 132.1h0M377.2 183.3h0M387.8 185.5h0M215.7 178.8h0M293.6 195.0h0M311.4 219.4h0M403.1 281.8h0M328.1 240.6h0M333.2 206.5h0M314.9 297.8h0M400.1 204.7h0M359.9 305.9h0M358.7 203.9h0M347.1 127.3h0M418.8 264.2h0M313.4 193.1h0M363.5 188.5h0M367.0 196.4h0M395.5 206.1h0M447.6 230.2h0M393.3 198.2h0M272.8 144.1h0M447.9 219.9h0M467.1 225.6h0M472.7 188.5h0M438.4 218.0h0M260.6 228.9h0M360.5 122.8h0M436.0 166.7h0M363.9 241.0h0M381.2 132.9h0M292.9 251.2h0M402.8 177.0h0M230.5 219.8h0M355.4 178.4h0M449.7 176.1h0M286.7 183.9h0M476.8 166.0h0M540.4 156.5h0M413.9 165.7h0M334.4 181.3h0M337.1 181.7h0M286.8 134.6h0M431.5 177.6h0M293.5 185.4h0M387.9 227.1h0M294.7 224.8h0M416.0 206.5h0M275.7 208.0h0M364.2 146.2h0M320.5 177.0h0M455.9 234.9h0M343.4 217.2h0M361.1 266.6h0M465.4 296.1h0M293.2 281.2h0M284.5 172.5h0M367.8 172.7h0M298.5 184.6h0M512.9 261.4h0M382.7 216.0h0M391.4 188.1h0M346.8 150.0h0M475.6 189.9h0M362.0 256.6h0M293.3 137.8h0M368.7 131.6h0M471.7 239.6h0M396.8 232.4h0M398.9 175.0h0M395.9 216.5h0M305.4 217.0h0M321.6 152.0h0M371.5 233.8h0M275.5 176.5h0M372.9 211.5h0M422.9 261.4h0M353.0 240.0h0M349.4 236.4h0M377.2 273.1h0M517.3 166.8h0M272.2 217.8h0M423.6 201.6h0M341.8 287.1h0M398.1 232.8h0M360.5 156.8h0M409.3 130.2h0M305.0 219.4h0M312.4 173.3h0M356.6 221.8h0M420.1 205.5h0M276.8 202.6h0M344.2 275.7h0M323.0 137.9h0M391.7 194.2h0M435.1 240.5h0M264.3 271.7h0M296.2 154.3h0M342.4 145.6h0M295.5 177.4h0M485.4 123.3h0M510.1 148.2h0M427.9 265.7h0M408.4 161.6h0M288.9 138.6h0M298.3 179.3h0M400.6 206.2h0M490.7 164.7h0M341.2 199.3h0M389.6 240.8h0M501.8 233.8h0M513.1 189.5h0M295.2 253.0h0M388.4 272.3h0M426.6 225.2h0M252.6 110.8h0M331.5 241.8h0M381.3 185.5h0M327.5 242.3h0M407.3 171.8h0M337.5 167.1h0M247.4 168.7h0M276.7 175.2h0M221.1 273.3h0M271.0 172.1h0M409.5 177.6h0M385.7 205.5h0M402.8 146.9h0M469.3 174.2h0M282.2 151.4h0M327.0 239.2h0M373.0 132.2h0M502.6 193.3h0M385.1 206.6h0M353.2 253.1h0M386.4 235.0h0M298.1 210.1h0M400.0 306.6h0M331.4 260.9h0M397.6 219.8h0M278.7 132.2h0M297.9 174.8h0M422.6 146.8h0M378.4 143.5h0M438.3 159.7h0M313.6 124.7h0M368.2 134.7h0M417.1 170.0h0M434.4 179.5h0M359.4 102.5h0M385.1 178.9h0M356.4 263.2h0M351.9 181.7h0M358.4 166.1h0M397.9 165.6h0M268.9 289.7h0M359.3 228.7h0M289.2 229.1h0M362.6 218.2h0M342.2 194.0h0M374.1 280.9h0M341.4 183.3h0M262.7 217.0h0M472.1 237.0h0M264.0 205.2h0M230.9 221.7h0M384.6 217.9h0M403.3 213.9h0M351.0 290.9h0M333.4 265.6h0M277.4 225.1h0M511.7 209.9h0M240.9 178.5h0M248.6 140.5h0M284.9 144.7h0M339.0 187.4h0M324.5 185.8h0M394.6 229.8h0M296.2 204.6h0M331.6 107.4h0M248.5 119.2h0M452.0 168.6h0M303.2 178.4h0M359.5 223.8h0M429.7 211.1h0M386.5 176.9h0M307.7 230.2h0M385.8 152.5h0M392.6 127.3h0M337.9 214.7h0M414.1 292.8h0M283.0 176.3h0M371.0 145.9h0M303.2 145.8h0M366.8 196.4h0M319.8 187.8h0M415.7 213.8h0M333.4 166.9h0M459.1 165.8h0M296.5 247.4h0M445.5 255.5h0M302.4 227.7h0M200.5 154.9h0M292.6 253.9h0M379.0 155.7h0M401.3 237.0h0M334.8 191.5h0M389.8 219.5h0M292.6 211.3h0M508.0 230.3h0M495.8 173.6h0M399.6 209.1h0M322.5 172.2h0M317.7 213.2h0M414.1 203.7h0M393.5 168.0h0M301.2 194.9h0M424.8 177.2h0M435.9 214.0h0M411.1 209.7h0M398.7 212.5h0M386.5 98.3h0M368.7 189.6h0M346.4 167.7h0M324.3 171.6h0M469.6 241.1h0M261.6 231.1h0M378.3 201.7h0M438.2 265.4h0M344.3 214.8h0M483.2 245.7h0M475.1 282.0h0M447.4 154.9h0M528.0 147.5h0M256.9 155.2h0M452.2 184.2h0M366.0 198.3h0M408.5 257.5h0M363.9 172.0h0M313.1 267.3h0M245.6 261.1h0M407.2 263.2h0M356.2 203.8h0M279.6 166.0h0M364.1 259.6h0M293.8 222.9h0M309.4 192.5h0M386.6 243.9h0M434.4 220.5h0M239.2 168.4h0M365.0 225.5h0M418.2 211.8h0M281.0 193.5h0M346.9 222.0h0M394.8 167.4h0M444.6 206.4h0M287.7 177.1h0M256.1 234.6h0M323.1 207.2h0M331.0 192.2h0M365.5 241.8h0M371.3 175.8h0M235.6 166.1h0M424.3 251.7h0M252.3 159.6h0M393.9 266.0h0M406.3 247.6h0M399.7 188.0h0M390.4 173.5h0M394.6 296.0h0M309.8 206.4h0M306.8 187.9h0M548.8 181.9h0M498.4 163.4h0M432.9 234.8h0M256.7 209.6h0M525.8 185.7h0M350.9 189.6h0M365.1 247.8h0M317.9 176.2h0M474.4 170.5h0M206.1 141.9h0M466.9 246.0h0M407.2 183.3h0M304.7 261.3h0M434.2 261.2h0M461.2 166.9h0M430.0 259.0h0M442.0 224.9h0M347.7 201.1h0M451.5 267.4h0M451.5 223.5h0M471.4 220.8h0M418.5 148.9h0M250.1 251.9h0M407.3 201.9h0M272.7 265.7h0M308.6 201.2h0M354.6 255.6h0M376.7 218.9h0M341.3 241.5h0M388.0 119.5h0M402.3 212.0h0M376.0 201.1h0M367.5 199.8h0M388.4 159.8h0M415.4 126.0h0M294.5 237.8h0M256.4 206.3h0M444.6 216.9h0M369.3 252.9h0M205.4 180.3h0M448.4 269.9h0M450.5 239.7h0M233.7 220.0h0M274.6 212.9h0M320.0 288.5h0M272.0 229.2h0M311.8 240.8h0M352.9 165.9h0M436.4 229.2h0M194.8 160.2h0M364.6 178.1h0M445.6 227.1h0M197.4 193.7h0M382.9 126.1h0M353.4 159.8h0M317.0 180.3h0M419.3 233.1h0M467.7 183.9h0M448.6 254.8h0M534.9 213.8h0M307.8 161.8h0M321.2 201.5h0M373.2 186.4h0M455.7 178.7h0M403.1 204.5h0M316.8 187.5h0M473.8 219.5h0M396.6 242.1h0M379.6 213.8h0M346.5 176.2h0M393.6 253.6h0M407.2 197.1h0M364.2 225.9h0M298.4 255.7h0M396.4 178.9h0M493.7 246.8h0M459.0 156.1h0M453.0 199.8h0M510.2 269.2h0M417.7 260.6h0M473.6 222.5h0M447.2 241.4h0M300.2 177.0h0M251.1 197.2h0M400.2 117.1h0M277.4 181.0h0M357.8 215.6h0M424.6 247.4h0M313.6 195.5h0M440.2 262.9h0M301.6 200.8h0M413.4 236.9h0M425.1 236.2h0M330.8 267.3h0M407.4 113.1h0M285.9 222.3h0M377.1 182.1h0M391.5 149.1h0M293.2 149.8h0M376.2 187.0h0M490.2 225.2h0M320.8 176.7h0M286.3 135.8h0M266.7 192.4h0M311.4 262.3h0M288.4 159.5h0M252.1 230.3h0M377.1 257.9h0M395.2 199.2h0M298.0 170.1h0M374.5 162.3h0M446.4 262.4h0M398.6 233.9h0M384.9 201.7h0M425.7 214.3h0M321.7 174.2h0M443.9 197.2h0M322.4 229.5h0M240.0 225.0h0M317.2 234.1h0M297.9 179.0h0M389.2 217.2h0M473.0 154.2h0M418.0 98.9h0M520.6 199.9h0M409.1 181.2h0M379.3 174.3h0M404.3 186.4h0M325.6 187.0h0M333.0 159.3h0M352.7 165.3h0M511.4 144.5h0M444.4 172.5h0M375.4 231.0h0M271.1 151.8h0M341.2 231.1h0M353.2 139.5h0M445.0 166.6h0M415.7 134.4h0M304.0 238.1h0M451.4 160.7h0M272.7 220.0h0M297.1 237.1h0M377.7 194.3h0M452.6 173.0h0M380.0 228.1h0M497.1 229.6h0M293.2 162.4h0M229.6 148.7h0M262.4 224.4h0M435.7 265.7h0M448.0 175.2h0M340.6 148.3h0M266.6 239.2h0M305.0 172.8h0M398.4 219.4h0M446.9 153.2h0M321.1 197.8h0M306.1 163.2h0M299.2 180.8h0M320.7 163.3h0M419.4 211.5h0M380.0 185.1h0M393.4 211.5h0M373.3 177.6h0M380.2 249.1h0M271.9 167.5h0M288.1 184.0h0M392.0 246.3h0M396.4 205.8h0M453.6 168.9h0M359.5 175.2h0M301.7 163.5h0M350.1 245.1h0M347.2 200.1h0M408.0 198.8h0M353.2 130.5h0M407.4 238.3h0M410.4 239.7h0M410.3 254.9h0M414.9 151.3h0M296.3 251.4h0M463.4 174.3h0M511.3 218.6h0M439.2 207.2h0M509.4 238.6h0M408.1 139.4h0M334.3 202.5h0M419.1 233.0h0M373.4 282.7h0M366.8 191.3h0M514.2 223.2h0M311.7 261.6h0M471.5 185.8h0M335.6 187.9h0M255.6 200.2h0M438.6 261.4h0M387.8 187.6h0M397.1 213.2h0M400.7 185.4h0M471.8 211.3h0M411.0 280.4h0M363.2 233.4h0M376.4 228.0h0M420.5 185.9h0M342.6 174.7h0M416.1 244.0h0M242.8 255.9h0M375.7 171.0h0M383.6 191.3h0M442.6 184.9h0M305.3 188.0h0M369.0 240.1h0M421.1 155.2h0M399.5 270.1h0M434.5 144.1h0M344.4 207.6h0M367.7 159.0h0M366.6 287.6h0M396.3 268.8h0M290.2 179.1h0M310.0 181.3h0M356.5 212.5h0M322.9 259.7h0M462.5 253.3h0M344.6 214.9h0M402.5 132.9h0M326.9 200.5h0M393.2 231.8h0M436.1 244.0h0M380.4 270.7h0M414.4 204.0h0M362.1 200.0h0M321.6 256.2h0M371.0 199.6h0M525.1 243.8h0M372.3 259.7h0M269.9 217.8h0M328.4 220.9h0M401.5 246.0h0M350.0 208.9h0M469.2 140.9h0M453.0 186.9h0M341.6 278.8h0M366.7 198.4h0M426.5 205.2h0M402.3 182.7h0M351.6 197.1h0M248.3 176.1h0M486.4 157.6h0M375.9 203.9h0M386.8 175.2h0M322.4 153.7h0M496.2 255.8h0M365.7 194.7h0M387.3 219.4h0M237.3 272.8h0M339.4 279.8h0M368.6 182.4h0M403.0 223.7h0M426.6 204.9h0M357.5 173.3h0M453.8 217.3h0M362.6 180.7h0M359.1 172.8h0M371.0 204.0h0M256.2 214.9h0M223.1 229.5h0M523.1 201.4h0M251.4 246.1h0M325.5 185.9h0M414.6 187.3h0M320.8 236.1h0M458.0 168.8h0M236.7 226.0h0M378.5 237.0h0M416.3 182.4h0M553.6 179.8h0M488.2 209.0h0M316.0 226.4h0M436.0 184.7h0M389.3 187.7h0M282.9 136.2h0M330.3 215.6h0M451.0 238.0h0M345.7 241.9h0M299.3 199.1h0M321.6 227.1h0M278.8 268.1h0M258.5 237.6h0M394.1 213.1h0M401.1 208.3h0M448.1 228.7h0M259.7 220.4h0M286.6 195.7h0M397.0 249.2h0M375.7 205.6h0M351.6 237.5h0M281.3 188.5h0M341.3 259.5h0M266.8 213.4h0M487.9 185.0h0M417.8 177.9h0M294.4 283.0h0M461.9 230.1h0M291.1 250.2h0M407.5 189.6h0M375.1 200.2h0M333.9 190.5h0M470.4 226.6h0M250.8 198.2h0M338.3 220.9h0M338.5 162.8h0M259.0 158.1h0M381.2 223.7h0M291.9 265.5h0M404.3 210.2h0M397.3 257.2h0M421.6 227.5h0M344.4 160.7h0M355.2 169.1h0M408.7 158.6h0M322.3 245.9h0M303.4 199.4h0M278.9 205.7h0M401.4 215.5h0M463.4 205.7h0M240.2 205.3h0M343.9 173.9h0M420.9 165.0h0M485.5 227.7h0M386.9 220.3h0M309.6 207.4h0M423.3 236.9h0M399.3 226.5h0M425.5 265.8h0M270.7 225.3h0M436.3 111.2h0M493.9 245.1h0M453.2 241.1h0M389.3 202.3h0M349.5 206.1h0M335.9 238.3h0M285.5 189.7h0M339.6 201.1h0M293.2 242.1h0M368.7 107.7h0M359.6 222.3h0M333.4 226.2h0M345.6 241.2h0M379.7 227.6h0M289.3 137.2h0M423.2 261.7h0M388.5 162.1h0M351.1 215.1h0M360.4 208.5h0M386.0 219.9h0M383.7 233.5h0M347.2 273.0h0M351.6 247.5h0M337.8 145.4h0M348.8 226.3h0M322.6 224.6h0M319.1 200.0h0M306.2 207.4h0M484.8 201.8h0M327.8 237.8h0M367.9 168.4h0M306.8 102.5h0M386.2 200.3h0M472.1 168.3h0M324.3 191.3h0M387.2 236.2h0M370.6 155.9h0M442.6 209.3h0M370.1 156.0h0M368.5 160.7h0M359.2 176.0h0M246.8 163.6h0M453.6 224.4h0M509.4 159.6h0M318.1 197.7h0M443.1 198.2h0M377.5 190.0h0M493.2 238.3h0M340.2 251.7h0M411.8 233.3h0M483.6 259.6h0M421.1 206.5h0M395.1 257.1h0M376.9 242.6h0M337.1 208.4h0M390.8 256.8h0M313.5 167.5h0M515.1 164.1h0M424.4 152.6h0M371.2 220.4h0M279.8 149.4h0M465.5 242.9h0M489.3 151.7h0M417.4 189.0h0M452.3 204.3h0M452.2 227.3h0M382.0 173.3h0M365.6 231.1h0M393.7 240.7h0M483.4 204.0h0M344.6 126.4h0M278.7 247.5h0M394.0 187.1h0M393.3 173.5h0M378.4 209.5h0M397.9 116.4h0M303.8 240.4h0M324.4 152.0h0M356.2 221.2h0M378.8 206.6h0M421.9 170.0h0M438.9 219.8h0M398.1 219.5h0M373.0 196.0h0M315.1 207.0h0M349.1 215.7h0M277.1 174.8h0M331.8 161.2h0M412.7 200.6h0M423.5 131.1h0M310.9 156.0h0M471.5 231.0h0M229.4 228.4h0M419.8 196.2h0M379.8 227.6h0M368.3 194.9h0M409.4 170.5h0M350.2 226.5h0M346.7 202.5h0M355.4 196.0h0M401.9 299.5h0M250.7 225.8h0M369.2 242.7h0M283.9 194.0h0M483.9 227.0h0M343.4 174.0h0M368.9 188.7h0M260.9 194.1h0M522.2 202.7h0M263.3 273.8h0M279.3 170.8h0M325.3 241.3h0M231.0 213.2h0M286.6 208.3h0M346.0 291.8h0M456.3 196.9h0M460.1 132.0h0M296.0 250.6h0M334.8 231.5h0M424.7 137.3h0M465.1 230.7h0M316.1 160.3h0M355.2 198.0h0M373.0 257.3h0M383.9 162.1h0M355.9 193.8h0M516.5 260.5h0M358.1 200.3h0M466.2 185.9h0M414.7 240.2h0M492.0 249.4h0M424.2 132.9h0M242.1 132.1h0M481.7 180.0h0M354.3 132.9h0M237.9 163.5h0M306.5 144.7h0M350.2 229.8h0M488.0 246.9h0M381.8 175.1h0M410.4 298.0h0M327.0 274.7h0M339.2 170.1h0M272.7 187.1h0M343.6 193.2h0M351.6 227.2h0M365.4 228.6h0M312.2 205.7h0M353.2 213.3h0M336.3 211.8h0M385.6 230.3h0M322.2 174.0h0M324.1 205.9h0M304.3 164.2h0M317.1 203.7h0M344.2 189.8h0M294.3 207.0h0M459.6 126.2h0M441.9 143.8h0M390.5 275.4h0M420.9 216.9h0M281.0 167.4h0M319.3 223.8h0M330.4 295.3h0M380.8 254.6h0M424.1 159.4h0M428.3 173.5h0M266.5 123.0h0M359.8 158.9h0M449.5 246.5h0M345.4 268.0h0M398.4 208.3h0M252.9 139.6h0M366.8 100.9h0M345.1 210.5h0M234.2 199.0h0M423.9 197.5h0M470.6 203.4h0M425.9 286.0h0M339.7 189.9h0M354.5 215.0h0M318.6 229.4h0M410.0 270.2h0M399.4 198.1h0M476.8 196.8h0M364.6 229.6h0M435.8 203.1h0M348.8 158.5h0M315.6 199.7h0M364.2 195.5h0M305.7 166.0h0M305.5 138.4h0M420.9 167.9h0M417.3 179.8h0M310.1 234.3h0M302.2 251.3h0M311.8 207.9h0M416.9 195.4h0M340.1 206.3h0M274.9 227.1h0M304.4 164.9h0M528.8 219.2h0M400.8 194.9h0M270.8 228.3h0M299.9 219.7h0M374.3 188.2h0M350.0 229.2h0M372.8 190.6h0M523.6 220.2h0M291.2 165.8h0M295.0 212.7h0M358.3 214.6h0M364.7 173.6h0M377.4 203.6h0M424.4 274.7h0M360.9 182.8h0M443.4 150.6h0M376.0 265.1h0M249.8 210.5h0M303.1 221.6h0M335.6 232.5h0M411.5 189.4h0M318.2 238.9h0M296.9 190.9h0M311.1 102.7h0M499.1 187.2h0M264.0 213.0h0M380.1 281.8h0M366.8 195.9h0M475.4 173.7h0M415.8 204.9h0M340.8 196.1h0M428.5 178.0h0M465.1 255.3h0M339.7 219.7h0M254.6 165.8h0M283.7 206.5h0M368.6 239.4h0M295.2 137.4h0M374.6 131.7h0M452.3 190.9h0M380.3 177.2h0M543.4 159.9h0M356.0 179.5h0M282.7 139.7h0M379.7 281.5h0M440.8 212.8h0M272.5 226.1h0M399.8 174.0h0M497.0 225.4h0M512.1 170.9h0M265.8 214.8h0M408.2 173.5h0M255.0 198.0h0M267.3 186.8h0M446.3 216.2h0M387.9 225.5h0M474.6 198.6h0M306.1 169.4h0M253.2 254.8h0M431.1 161.0h0M316.6 173.6h0M263.3 191.1h0M423.2 210.0h0M444.8 223.6h0M311.1 165.3h0M376.0 225.1h0M406.1 222.5h0M300.1 143.6h0M308.2 221.1h0M385.8 161.9h0M496.0 261.4h0M298.1 272.6h0M427.6 145.4h0M380.7 162.5h0M352.6 185.8h0M308.2 194.6h0M417.9 182.8h0M358.6 258.9h0M206.7 210.5h0M391.8 225.5h0M311.3 118.7h0M357.2 218.0h0M534.7 185.2h0M393.0 204.3h0M230.0 195.9h0M336.0 252.8h0M287.8 140.5h0M445.5 225.1h0M410.6 218.7h0M370.7 199.7h0M341.3 262.8h0M398.9 196.5h0M515.5 221.0h0M242.5 165.3h0M330.4 209.2h0M365.9 203.1h0M370.0 192.9h0M349.7 188.0h0M405.0 210.1h0M379.2 158.4h0M337.8 199.9h0M243.3 248.5h0M422.5 236.6h0M489.5 222.4h0M465.4 127.1h0M403.7 150.0h0M467.5 138.1h0M269.3 174.8h0M435.8 191.3h0M399.6 228.1h0M368.5 178.3h0M465.7 176.6h0M360.8 241.6h0M345.8 184.3h0M301.4 123.3h0M248.6 210.9h0M340.0 155.2h0M519.4 204.8h0M530.0 245.9h0M329.6 224.4h0M386.3 170.8h0M500.4 191.6h0M300.5 162.6h0M340.5 247.5h0M275.1 230.1h0M507.5 208.0h0M327.1 227.5h0M346.4 249.0h0M370.8 182.0h0M311.3 225.2h0M468.0 189.4h0M234.8 222.2h0M435.9 158.8h0M362.3 195.3h0M295.1 141.3h0M381.9 228.0h0M511.4 165.0h0M472.0 197.4h0M338.3 190.7h0M471.8 231.2h0M318.1 206.8h0M316.3 274.4h0M331.0 168.9h0M372.5 235.6h0M340.0 220.6h0M331.2 213.8h0M458.1 240.6h0M331.7 169.0h0M391.2 275.0h0M334.4 224.6h0M362.2 228.0h0M480.5 223.0h0M384.2 214.4h0M377.3 204.6h0M475.9 167.7h0M380.6 186.9h0M290.0 223.4h0M475.8 185.0h0M419.6 198.8h0M314.8 172.9h0M332.3 231.4h0M361.2 165.7h0M395.6 247.7h0M340.9 232.0h0M466.7 236.0h0M231.2 211.8h0M362.3 244.0h0M288.5 256.5h0M339.4 186.9h0M376.2 225.3h0M502.1 183.1h0M349.8 263.4h0M328.0 181.5h0M355.3 215.2h0M311.9 218.1h0M370.0 211.8h0M450.2 264.0h0M301.0 221.3h0M307.1 226.6h0M261.1 220.5h0M272.2 121.2h0M365.7 246.7h0M373.1 214.5h0M394.5 216.3h0M348.7 226.7h0M453.9 183.7h0M247.4 195.0h0M365.6 207.0h0M418.7 223.4h0M343.3 258.5h0M401.9 219.3h0M351.2 228.5h0M340.1 171.1h0M380.7 286.8h0M320.9 262.3h0M366.2 242.0h0M416.3 154.7h0M290.0 230.6h0M423.1 154.7h0M464.8 190.3h0M507.5 178.5h0M345.8 155.1h0M462.6 218.0h0M273.1 176.0h0M374.8 247.1h0M289.8 203.4h0M301.4 193.1h0M295.7 216.0h0M344.6 225.9h0M320.2 172.1h0M299.5 149.3h0M364.5 176.0h0M391.0 168.3h0M410.3 209.9h0M351.2 189.7h0M335.9 179.8h0M336.2 166.5h0M290.2 163.0h0M402.5 195.2h0M362.9 199.1h0M450.2 189.9h0M389.8 206.6h0M330.6 234.3h0M433.9 146.0h0M345.2 129.4h0M361.3 259.3h0M402.2 153.0h0M384.6 170.4h0M311.7 219.7h0M420.7 190.4h0M396.0 248.6h0M365.0 200.8h0M351.9 234.6h0M384.5 211.6h0M263.3 224.2h0M470.9 184.7h0M204.8 174.6h0M294.9 211.4h0M296.8 157.9h0M395.1 258.1h0M368.0 198.9h0M391.9 188.5h0M280.3 270.8h0M459.5 178.6h0M434.6 172.0h0M226.4 226.5h0M378.8 194.1h0M235.1 201.8h0M323.9 210.7h0M405.4 234.6h0M364.9 187.5h0M273.2 255.5h0M318.2 170.9h0M447.2 213.1h0M375.5 188.6h0M418.2 263.7h0M248.8 169.0h0M402.3 313.4h0M377.3 168.4h0M296.5 222.2h0M474.8 219.1h0M360.2 231.9h0M430.9 228.3h0M327.2 148.6h0M393.7 144.5h0M403.9 198.8h0M355.6 212.6h0M372.0 163.2h0M387.1 218.4h0M357.5 264.6h0M278.5 211.3h0M389.7 233.7h0M355.9 174.9h0M383.5 304.5h0M307.6 204.6h0M486.0 213.4h0M434.8 213.9h0M474.5 193.6h0M518.1 209.4h0M442.7 217.2h0M344.4 160.0h0M279.1 235.8h0M454.9 230.1h0M386.6 190.7h0M430.6 155.1h0M470.9 191.4h0M354.3 161.3h0M302.0 286.5h0M396.9 259.4h0M335.0 214.5h0M308.0 193.6h0M394.8 250.3h0M348.3 235.7h0M404.6 287.6h0M291.4 124.1h0M358.0 231.5h0M348.0 144.9h0M364.4 294.8h0M323.7 120.5h0M416.2 159.1h0M268.8 164.1h0M399.4 190.1h0M450.9 192.5h0M365.2 248.3h0M372.0 199.1h0M312.6 209.9h0M385.2 218.8h0M398.9 140.4h0M379.1 258.2h0M393.8 152.5h0M407.1 232.8h0M383.0 233.2h0M245.9 155.3h0M289.4 250.7h0M358.4 230.6h0M542.1 226.0h0M448.9 216.7h0M364.7 217.5h0M352.2 234.1h0M335.3 256.2h0M410.2 115.3h0M344.7 289.0h0M370.3 219.7h0M305.6 226.1h0M335.7 183.9h0M298.6 188.5h0M311.7 230.7h0M341.4 168.0h0M457.1 153.2h0M392.2 238.3h0M446.4 218.2h0M333.5 188.5h0M386.3 284.5h0M324.1 218.0h0M352.7 226.0h0M354.8 205.4h0M258.9 210.1h0M369.5 175.3h0M285.1 268.5h0M402.0 142.2h0M321.7 181.7h0M262.4 124.4h0M285.7 191.5h0M304.7 215.7h0M476.7 211.6h0M280.9 234.6h0M338.3 182.0h0M377.3 227.5h0M352.4 174.9h0M360.4 170.2h0M416.2 203.8h0M316.2 244.9h0M469.8 169.6h0M379.7 169.4h0M469.7 225.1h0M373.6 187.4h0M335.4 218.5h0M284.7 257.7h0M318.8 219.3h0M407.4 209.4h0M389.0 172.1h0M489.4 144.4h0M486.5 191.7h0M431.9 275.5h0M374.2 158.4h0M505.3 204.7h0M362.2 162.7h0M213.9 222.5h0M346.2 250.4h0M398.9 150.9h0M407.0 206.3h0M407.6 195.2h0M423.2 184.6h0M203.4 158.2h0M550.9 221.2h0M406.2 219.0h0M371.1 271.1h0M239.9 173.4h0M426.8 207.5h0M294.9 171.1h0M236.1 179.2h0M407.9 292.8h0M404.2 255.4h0M354.5 192.9h0M301.7 195.0h0M394.7 210.9h0M367.9 271.6h0M388.3 252.1h0M393.7 204.2h0M263.6 151.7h0M395.2 190.0h0M277.9 276.1h0M396.3 166.7h0M335.5 192.3h0M326.6 121.8h0M489.3 227.3h0M377.2 209.2h0M375.7 281.7h0M419.9 118.7h0M537.9 160.0h0M400.3 237.9h0M366.7 204.7h0M450.1 147.9h0M365.5 227.8h0M408.1 260.2h0M361.6 243.9h0M303.6 134.3h0M366.5 165.3h0M514.1 136.4h0M409.4 211.7h0M217.2 220.3h0M355.4 164.0h0M297.8 268.7h0M436.6 187.7h0M287.1 231.0h0M358.4 223.5h0M402.7 218.0h0M428.2 222.6h0M321.4 193.1h0M385.1 168.9h0M551.7 156.8h0M318.2 189.0h0M368.1 233.0h0M305.0 276.7h0M352.0 214.8h0M402.9 195.4h0M369.7 194.0h0M416.2 202.9h0M278.6 148.1h0M376.9 157.8h0M343.5 218.5h0M452.4 264.2h0M374.8 229.7h0M324.3 178.6h0M449.9 254.7h0M407.2 221.5h0M213.9 192.1h0M402.1 286.9h0M390.1 261.4h0M432.1 193.5h0M253.9 204.0h0M261.4 207.2h0M269.0 206.5h0M451.8 205.7h0M439.7 218.7h0M437.0 211.5h0M269.6 113.4h0M359.2 239.1h0M316.6 280.4h0M362.4 155.7h0M381.8 221.1h0M459.2 288.4h0M330.9 180.8h0M318.0 187.6h0M314.8 245.9h0M460.4 153.8h0M463.6 196.0h0M387.1 158.0h0M484.8 236.8h0M363.1 186.1h0M263.3 186.3h0M258.1 198.4h0M294.1 167.4h0M318.8 190.6h0M356.0 139.7h0M452.5 216.4h0M288.6 194.2h0M351.3 227.3h0M396.8 182.1h0M277.2 273.3h0M372.6 199.6h0M455.1 179.9h0M385.7 246.5h0M374.2 158.5h0M405.6 267.1h0M361.9 296.9h0M334.0 152.1h0M327.5 138.7h0M432.5 219.0h0M253.0 232.2h0M281.1 229.6h0M428.4 157.9h0M462.1 143.5h0M373.3 106.1h0M304.3 214.4h0M253.8 162.2h0M411.3 103.2h0M378.2 213.2h0M390.1 233.0h0M395.9 213.6h0M289.2 174.1h0M307.8 230.0h0M354.2 90.9h0M348.1 207.6h0M250.3 224.5h0M273.9 186.6h0M346.0 162.5h0M473.4 176.1h0M379.5 165.7h0M336.3 97.2h0M382.8 204.4h0M365.5 130.7h0M298.7 188.8h0M373.5 194.2h0M315.1 141.4h0M355.6 225.3h0M290.4 225.4h0M335.4 210.2h0M372.0 213.2h0M267.0 213.0h0M309.4 179.4h0M409.4 196.0h0M422.7 225.1h0M240.5 181.9h0M425.5 144.9h0M396.0 214.6h0M399.3 254.6h0M374.6 206.1h0M394.6 196.0h0M329.6 163.9h0M469.3 189.7h0M363.0 233.2h0M263.8 284.3h0M405.9 229.4h0M435.8 208.9h0M395.8 264.5h0M293.5 259.9h0M412.9 98.5h0M241.0 205.2h0M224.6 190.5h0M381.4 230.6h0M311.0 198.2h0M389.1 212.5h0M347.0 216.5h0M348.5 162.9h0M386.9 298.3h0M385.4 242.6h0M287.9 196.5h0M386.3 220.9h0M379.5 173.5h0M293.3 214.2h0M439.5 219.9h0M405.0 170.3h0M290.9 163.1h0M407.2 165.6h0M476.9 261.3h0M310.8 167.0h0M329.7 178.5h0M374.9 232.6h0M323.7 141.4h0M349.4 285.5h0M265.1 233.7h0M538.8 203.6h0M405.7 288.1h0M472.0 176.2h0M510.3 269.2h0M361.5 207.7h0M534.2 234.0h0M336.6 175.6h0M324.4 185.0h0M360.8 247.1h0M282.4 201.0h0M433.1 186.9h0M530.5 175.7h0M381.4 116.7h0M410.5 259.1h0M218.3 209.7h0M309.7 140.2h0M394.1 189.2h0M314.3 210.8h0M386.8 175.9h0M334.2 191.1h0M391.2 195.1h0M266.8 217.7h0M404.0 203.1h0M481.6 240.7h0M419.3 243.5h0M546.0 215.1h0M358.1 215.0h0M435.3 192.8h0M273.5 241.8h0M442.2 281.6h0M405.4 224.5h0M347.3 232.8h0M457.9 256.2h0M284.8 172.6h0M347.4 201.5h0M390.2 247.1h0M294.6 215.4h0M296.2 257.1h0M446.0 211.8h0M340.2 287.4h0M292.3 238.9h0M331.0 187.7h0M323.4 154.7h0M310.7 254.6h0M392.4 190.6h0M290.5 188.8h0M263.0 166.0h0M369.3 140.2h0M359.5 250.1h0M463.6 185.1h0M272.9 204.5h0M323.2 163.8h0M445.7 166.0h0M391.5 203.6h0M322.9 191.9h0M305.2 251.7h0M417.2 237.7h0M360.7 228.4h0M303.9 280.8h0M330.9 218.2h0M333.6 174.3h0M436.8 248.5h0M320.6 195.0h0M459.5 271.0h0M247.5 232.0h0M340.9 203.7h0M427.1 138.0h0M270.0 177.7h0M321.5 171.5h0M299.3 248.1h0M373.3 169.7h0M313.3 245.4h0M286.1 255.0h0M366.9 197.6h0M376.2 189.0h0M450.0 172.5h0M331.6 210.3h0M348.1 194.2h0M318.8 199.4h0M453.2 190.2h0M456.0 203.1h0M303.3 278.7h0M219.3 202.0h0M520.8 176.4h0M235.5 167.5h0M242.4 222.9h0M320.5 186.6h0M517.0 214.3h0M448.2 208.2h0M341.6 175.6h0M413.9 122.1h0M347.3 198.8h0M448.0 112.5h0M328.1 239.6h0M489.6 150.6h0M404.6 180.7h0M319.1 193.5h0M243.6 160.2h0M450.9 246.4h0M399.8 169.1h0M291.3 206.3h0M295.4 217.3h0M323.6 265.4h0M333.7 241.0h0M345.7 267.4h0M357.2 238.2h0M317.7 222.9h0M529.1 190.0h0M338.2 211.1h0M311.8 207.0h0M399.9 255.6h0M296.8 126.7h0M391.9 221.3h0M369.1 194.9h0M439.5 146.3h0M291.1 189.4h0M451.7 200.0h0M345.5 201.7h0M501.0 178.1h0M415.4 214.4h0M326.3 197.2h0M385.5 154.5h0M278.1 276.9h0M290.9 140.2h0M360.7 253.6h0M369.3 170.9h0M420.1 226.8h0M400.0 164.3h0M442.8 144.4h0M261.4 168.9h0M405.3 246.6h0M317.0 133.3h0M326.8 276.1h0M443.6 245.9h0M366.2 244.8h0M405.7 224.5h0M431.5 165.0h0M451.4 185.6h0M297.7 223.5h0M296.4 239.3h0M390.0 236.9h0M405.5 203.9h0M312.6 184.5h0M303.9 152.4h0M345.1 206.0h0M357.6 152.5h0M382.8 257.2h0M418.5 183.0h0M344.0 231.9h0M380.8 271.2h0M427.9 155.9h0M415.2 109.4h0M333.8 137.0h0M532.6 138.8h0M369.5 160.7h0M356.1 257.2h0M346.2 195.7h0M406.9 219.3h0M389.7 269.3h0M333.0 208.4h0M415.8 194.2h0M462.5 255.8h0M499.1 216.8h0M424.6 156.7h0M329.4 166.6h0M426.9 201.9h0M487.0 166.5h0M363.2 278.0h0M309.4 240.3h0M413.1 182.7h0M437.5 157.6h0M332.8 241.8h0M301.6 226.2h0M253.7 200.5h0M439.5 197.7h0M275.4 183.3h0M423.9 150.5h0M365.7 201.1h0M245.7 159.4h0M296.1 186.2h0M453.5 254.7h0M375.5 192.7h0M358.0 238.2h0M472.0 216.7h0M371.4 168.6h0M381.6 234.7h0M382.6 188.3h0M380.1 225.2h0M459.8 203.3h0M335.4 254.2h0M460.5 231.2h0M497.4 203.9h0M336.7 173.6h0M409.9 298.8h0M292.8 197.9h0M379.5 214.5h0M471.1 210.1h0M447.3 193.5h0M344.4 148.6h0M417.7 187.1h0M411.7 164.0h0M382.6 250.4h0M385.4 304.1h0M535.7 179.7h0M204.7 208.3h0M330.6 240.3h0M442.3 165.4h0M364.6 176.8h0M399.2 174.4h0M395.9 269.5h0M356.4 231.0h0M374.3 166.7h0M319.4 206.6h0M372.2 206.3h0M431.4 206.6h0M451.9 121.3h0M412.7 201.8h0M354.5 213.7h0M344.5 228.6h0M257.8 209.7h0M358.7 179.6h0M305.1 187.1h0M322.5 240.2h0M376.6 169.8h0M381.8 251.7h0M372.4 255.2h0M293.5 196.9h0M423.1 227.8h0M363.2 182.3h0M401.7 175.8h0M375.2 224.9h0M491.2 165.3h0M505.5 160.4h0M346.2 247.4h0M435.1 253.6h0M284.4 225.6h0M428.7 210.9h0M408.8 234.1h0M346.3 257.9h0M490.5 279.9h0M386.6 236.3h0M269.6 247.2h0M493.9 194.8h0M382.2 259.6h0M329.0 290.1h0M321.4 215.2h0M291.1 130.4h0M300.3 171.3h0M430.4 223.7h0M416.9 161.6h0M263.9 176.6h0M374.5 290.3h0M376.2 145.5h0M319.6 144.5h0M394.9 208.9h0M317.1 206.6h0M350.3 226.1h0M382.9 233.7h0M334.0 143.3h0M367.9 126.8h0M321.1 140.4h0M349.0 198.3h0M299.0 131.8h0M429.1 242.7h0M292.5 204.8h0M340.1 229.8h0M473.9 235.2h0M451.1 210.0h0M359.1 130.6h0M275.1 165.8h0M236.2 209.5h0M391.4 137.4h0M376.5 190.3h0M339.4 146.2h0M339.5 227.0h0M531.7 222.8h0M428.2 206.5h0M362.2 223.4h0M346.4 246.1h0M337.1 202.8h0M386.2 214.3h0M343.5 242.3h0M369.6 214.0h0M331.3 205.6h0M419.3 195.6h0M380.5 183.4h0M285.1 169.8h0M384.4 213.1h0M330.7 184.9h0M280.3 248.4h0M369.7 255.9h0M320.9 208.3h0M500.0 168.4h0M403.5 220.4h0M322.2 204.5h0M247.1 229.0h0M425.8 207.3h0M252.7 247.8h0M400.9 155.5h0M374.3 202.9h0M190.8 188.8h0M345.8 219.3h0M496.2 175.2h0M301.8 171.1h0M218.0 141.9h0M249.7 202.6h0M357.4 280.6h0M384.9 277.2h0M427.2 185.6h0M383.3 202.5h0M297.3 219.0h0M331.9 130.8h0M346.4 232.1h0M351.5 262.7h0M277.2 196.1h0M411.7 123.6h0M448.1 139.2h0M353.5 226.7h0M374.5 187.4h0M276.8 196.2h0M379.0 230.8h0M307.2 203.6h0M301.4 187.1h0M425.1 188.6h0M373.8 122.6h0M329.9 256.5h0M253.0 258.6h0M365.2 182.6h0M496.8 220.9h0M388.7 166.5h0M382.4 232.1h0M461.6 204.2h0M541.7 184.3h0M410.7 177.3h0M447.8 252.0h0M383.1 204.0h0M405.9 227.0h0M402.8 169.3h0M335.3 220.6h0M394.0 149.0h0M393.5 263.2h0M363.7 155.0h0M327.0 255.6h0M434.0 250.1h0M343.1 287.5h0M264.5 192.3h0M427.1 139.2h0M271.9 226.2h0M432.0 242.5h0M372.1 209.9h0M356.7 253.1h0M465.6 169.6h0M343.3 222.2h0M317.5 152.0h0M351.6 193.7h0M447.9 128.8h0M476.5 167.5h0M488.6 156.9h0M443.0 125.1h0M370.7 200.7h0M237.4 212.7h0M318.0 177.9h0M495.6 138.8h0M261.2 269.3h0M409.1 197.3h0M404.8 183.7h0M256.0 177.8h0M397.1 246.2h0M341.6 154.1h0M385.4 203.9h0M362.3 144.6h0M354.2 246.7h0M303.9 162.3h0M234.9 156.1h0M516.4 226.8h0M307.3 219.8h0M349.8 238.9h0M341.3 229.1h0M347.2 284.6h0M315.2 163.7h0M412.4 222.2h0M368.6 234.0h0M333.5 217.9h0M325.8 263.0h0M408.7 245.9h0M304.0 220.5h0M411.0 259.9h0M477.9 180.6h0M456.0 214.0h0M414.4 178.3h0M256.4 256.8h0M429.0 170.3h0M392.8 167.0h0M484.8 221.9h0M332.4 205.2h0M339.7 152.5h0M493.8 205.4h0M316.0 255.0h0M467.7 205.4h0M401.0 145.8h0M210.7 189.6h0M340.5 151.7h0M339.2 160.5h0M279.0 237.1h0M243.5 220.8h0M378.1 259.5h0M298.9 164.8h0M323.0 190.9h0M303.7 151.9h0M353.7 240.4h0M410.7 160.8h0M435.6 158.5h0M412.0 150.5h0M344.9 225.5h0M359.1 214.7h0M416.8 207.3h0M472.9 258.0h0M364.9 206.4h0M280.7 169.0h0M394.2 295.2h0M421.2 175.6h0M337.2 177.3h0M468.1 260.0h0M336.4 205.4h0M371.7 216.4h0M400.4 136.5h0M505.1 173.4h0M287.4 164.0h0M413.5 221.3h0M433.6 192.3h0M362.5 223.5h0M454.2 172.0h0M323.6 191.3h0M288.1 218.2h0M283.0 149.8h0M320.8 161.2h0M293.7 250.2h0M410.4 180.5h0M269.6 236.2h0M502.6 235.4h0M390.0 197.8h0M256.2 218.9h0M243.5 206.5h0M375.9 142.6h0M482.8 182.9h0M347.6 187.5h0M448.7 239.8h0M507.3 194.3h0M346.6 210.8h0M278.0 190.2h0M322.3 225.7h0M480.4 214.6h0M372.9 145.6h0M299.1 134.4h0M340.3 171.9h0M355.8 159.4h0M463.0 198.6h0M328.1 175.1h0M530.8 194.8h0M388.9 224.8h0M399.3 189.0h0M290.8 178.8h0M403.3 225.6h0M391.8 243.2h0M429.1 227.6h0M319.1 133.5h0M388.0 208.2h0M262.9 189.9h0M298.0 243.6h0M336.0 198.2h0M313.5 202.8h0M442.1 222.2h0M356.6 185.9h0M375.4 206.0h0M426.4 137.1h0M349.9 206.3h0M463.7 132.7h0M372.9 164.3h0M317.1 218.8h0M405.6 220.3h0M428.1 252.7h0M287.6 220.0h0M329.9 216.9h0M311.8 168.3h0M251.3 172.3h0M393.0 264.4h0M275.1 244.3h0M285.5 220.3h0M389.2 274.3h0M355.9 171.6h0M452.1 252.7h0M466.1 179.7h0M379.9 188.5h0M296.7 279.5h0M424.2 276.6h0M313.2 212.6h0M342.7 267.3h0M369.7 228.2h0M492.0 202.5h0M470.4 151.0h0M333.7 149.5h0M475.7 216.5h0M307.0 167.1h0M381.9 185.7h0M320.6 205.1h0M324.7 202.0h0M377.9 230.8h0M382.1 203.0h0M314.2 257.4h0M372.7 127.7h0M282.1 244.7h0M358.1 249.2h0M382.1 188.7h0M335.6 269.4h0M262.5 193.4h0M313.9 300.9h0M400.9 265.2h0M448.5 225.2h0M447.4 208.3h0M453.0 230.2h0M517.8 219.3h0M337.8 206.2h0M463.9 222.1h0M311.1 261.9h0M517.5 199.4h0M448.9 169.4h0M297.1 294.6h0M425.1 215.5h0M451.0 234.7h0M310.9 200.1h0M396.2 179.7h0M440.3 249.5h0M527.8 261.3h0M329.0 185.5h0M499.5 177.2h0M297.3 211.9h0M309.6 220.4h0M481.3 187.2h0M430.0 248.4h0M314.5 215.7h0M498.4 166.8h0M410.1 199.6h0M385.2 209.6h0M349.2 211.0h0M370.9 234.2h0M446.7 164.3h0M366.5 225.3h0M427.9 201.3h0M362.4 162.3h0M484.5 174.0h0M408.1 134.5h0M302.6 133.5h0M385.7 213.2h0M422.0 197.1h0M464.3 150.3h0M434.7 173.1h0M468.3 153.2h0M297.1 237.5h0M380.4 163.3h0M395.6 218.9h0M254.0 225.6h0M455.6 250.0h0M384.2 190.1h0M347.5 129.1h0M320.8 224.0h0M382.4 227.6h0M323.8 123.4h0M267.6 194.9h0M398.6 215.2h0M305.2 183.3h0M404.7 199.8h0M298.3 139.1h0M280.9 158.9h0M414.5 270.1h0M465.9 202.8h0M347.4 184.5h0M364.0 161.9h0M366.1 205.2h0M534.5 208.8h0M420.1 191.6h0M374.5 151.5h0M363.8 160.4h0M371.8 136.7h0M452.4 125.8h0M370.5 216.7h0M372.7 175.9h0M480.1 223.5h0M447.3 196.3h0M432.6 191.1h0M536.9 189.2h0M361.8 201.1h0M256.2 226.3h0M364.0 170.0h0M387.5 254.5h0M447.6 184.4h0M268.2 142.4h0M273.9 114.9h0M351.9 123.7h0M346.7 227.5h0M268.9 232.1h0M354.1 157.2h0M422.6 193.6h0M348.6 142.1h0M424.1 242.3h0M307.2 216.5h0M349.5 184.1h0M265.3 161.0h0M551.3 210.3h0M344.5 218.3h0M341.8 182.3h0M422.6 195.3h0M339.9 238.8h0M315.3 205.6h0M358.8 145.7h0M445.7 254.0h0M446.2 197.6h0M250.1 249.8h0M398.1 266.5h0M339.6 217.9h0M328.8 175.5h0M448.3 154.8h0M398.0 181.7h0M325.6 112.5h0M411.9 225.0h0M309.2 224.1h0M325.4 155.6h0M345.4 239.3h0M407.0 269.6h0M344.1 226.6h0M340.2 257.5h0M284.4 218.5h0M282.8 156.2h0M467.8 207.9h0M419.1 161.4h0M411.1 198.2h0M325.2 151.5h0M361.2 140.6h0M492.1 230.1h0M422.6 195.0h0M398.5 209.8h0M457.6 141.6h0M378.4 207.0h0M311.7 161.6h0M303.2 217.7h0M346.9 214.6h0M337.2 202.8h0M242.6 206.0h0M432.0 224.5h0M445.3 209.4h0M432.9 217.3h0M350.0 255.7h0M317.4 291.1h0M363.7 212.8h0M392.3 192.4h0M331.1 190.5h0M456.4 197.8h0M316.6 257.3h0M209.1 175.7h0M421.5 145.3h0M353.8 189.9h0M452.2 201.5h0M465.5 187.3h0M196.7 190.3h0M400.0 200.9h0M281.2 165.3h0M423.0 200.4h0M388.0 156.3h0M435.8 188.2h0M348.0 302.9h0M323.4 220.8h0M389.9 207.9h0M402.8 202.9h0M292.7 256.9h0M365.9 166.2h0M349.6 201.0h0M474.4 190.4h0M378.9 249.4h0M345.2 224.2h0M382.8 171.3h0M316.5 117.3h0M406.6 231.7h0M290.1 254.5h0M334.7 174.8h0M385.5 262.5h0M271.4 135.0h0M273.6 138.7h0M312.0 120.0h0M492.1 226.1h0M438.0 181.7h0M374.8 229.0h0M440.4 226.6h0M325.0 201.7h0M290.3 267.8h0M470.5 223.3h0M321.6 135.9h0M422.6 271.3h0M260.4 202.8h0M364.4 254.3h0M281.1 158.1h0M424.2 217.3h0M432.6 242.4h0M402.3 246.6h0M434.9 236.0h0M330.3 147.2h0M402.9 186.6h0M418.8 155.9h0M306.6 213.2h0M419.9 123.5h0M392.9 272.5h0M408.4 164.0h0M352.6 232.8h0M366.7 155.7h0M409.2 299.4h0M380.1 279.6h0M416.6 125.0h0M448.5 217.1h0M311.9 128.6h0M456.9 192.8h0M267.9 241.9h0M324.1 156.3h0M390.4 177.0h0M402.1 180.1h0M336.0 203.5h0M303.8 239.5h0M419.5 227.7h0M455.1 142.7h0M304.6 147.4h0M283.0 209.1h0M325.2 255.8h0M360.3 176.0h0M246.7 161.6h0M295.3 186.2h0M422.4 189.5h0M311.0 207.2h0M309.3 190.1h0M497.5 211.2h0M458.5 171.0h0M511.6 243.0h0M369.8 233.9h0M359.4 217.4h0M338.7 203.8h0M266.0 172.5h0M363.6 212.8h0M312.7 190.9h0M420.9 188.5h0M449.8 266.8h0M262.5 187.5h0M272.0 261.3h0M388.1 289.0h0M488.8 256.4h0M503.9 192.2h0M320.3 222.1h0M376.7 191.9h0M492.4 213.8h0M316.1 215.6h0M299.5 144.4h0M484.7 200.6h0M319.2 214.2h0M285.8 229.8h0M507.6 218.9h0M340.4 208.0h0M342.2 191.1h0M420.2 254.9h0M500.7 182.6h0M438.3 179.1h0M393.6 205.6h0M408.4 193.9h0M408.9 147.9h0M397.8 234.5h0M253.1 250.0h0M399.2 212.6h0M277.7 204.2h0M319.9 213.2h0M385.2 244.6h0M365.9 162.1h0M404.0 209.6h0M373.2 255.0h0M413.5 169.1h0M532.7 237.1h0M294.5 119.1h0M465.5 247.2h0M342.5 241.4h0M347.6 227.0h0M366.6 163.5h0M411.5 165.1h0M322.4 161.3h0M347.1 227.7h0M372.0 196.9h0M379.8 253.0h0M494.5 195.5h0M337.8 236.3h0M442.5 223.9h0M439.4 203.3h0M390.3 183.2h0M386.7 237.7h0M315.5 100.5h0M405.1 183.0h0M395.1 226.9h0M355.9 291.5h0M472.0 148.7h0M387.1 164.2h0M381.2 250.3h0M364.0 147.6h0M464.2 200.3h0M420.6 195.5h0M401.0 217.3h0M284.9 194.1h0M520.4 236.2h0M276.6 169.9h0M407.8 201.7h0M290.4 143.2h0M265.1 226.1h0M383.2 221.9h0M394.1 176.2h0M342.8 268.0h0M334.5 216.8h0M272.1 219.9h0M364.5 177.3h0M346.5 218.9h0M262.2 241.8h0M331.2 227.0h0M341.4 281.1h0M285.9 204.1h0M455.3 292.3h0M273.1 141.9h0M531.2 184.6h0M458.9 199.8h0M330.9 194.8h0M501.8 228.8h0M457.6 189.7h0M468.0 151.1h0M380.6 186.8h0M295.6 147.9h0M223.1 199.0h0M388.5 211.8h0M323.0 239.6h0M543.9 167.3h0M405.8 196.4h0M261.8 209.6h0M356.9 197.6h0M407.8 244.9h0M278.8 256.2h0M263.2 186.6h0M399.4 208.9h0M421.3 193.2h0M402.1 192.8h0M324.7 201.3h0M342.0 206.4h0M251.9 242.5h0M295.9 225.6h0M516.3 171.5h0M423.5 261.4h0M355.1 230.1h0M374.2 174.4h0M307.6 225.6h0M358.4 241.1h0M305.5 195.1h0M387.3 200.7h0M382.7 118.3h0M429.6 182.7h0M343.4 190.7h0M382.5 238.5h0M389.1 139.1h0M328.0 163.0h0M268.1 193.3h0M454.5 151.7h0M374.6 149.5h0M345.4 246.4h0M470.4 202.1h0M308.1 260.8h0M330.4 152.7h0M316.5 236.7h0M294.0 237.8h0M357.3 286.5h0M321.6 206.9h0M483.6 259.7h0M320.0 246.5h0M469.3 202.5h0M303.5 142.0h0M344.1 165.7h0M371.5 169.8h0M305.0 185.5h0M421.7 228.6h0M325.2 241.8h0M320.2 151.3h0M423.0 219.2h0M314.3 221.5h0M417.8 231.4h0M455.0 150.5h0M431.7 142.5h0M484.8 229.4h0M338.3 189.6h0M470.2 192.5h0M329.7 262.8h0M254.8 165.0h0M355.6 133.0h0M533.9 168.5h0M297.0 261.3h0M517.2 190.3h0M268.9 222.1h0M440.4 222.3h0M406.9 289.7h0M335.2 166.2h0M420.9 212.5h0M418.6 189.8h0M406.8 209.9h0M446.3 126.1h0M309.4 217.9h0M538.0 144.0h0M440.5 243.7h0M312.3 194.1h0M369.6 177.7h0M404.2 229.8h0M435.5 162.2h0M306.0 103.6h0M304.1 186.5h0M356.2 196.6h0M286.9 192.4h0M353.0 207.0h0M481.6 252.9h0M287.5 241.4h0M374.6 248.8h0M326.5 189.2h0M434.3 278.1h0M288.7 135.7h0M354.1 148.4h0M537.2 189.7h0M297.6 205.2h0M247.7 151.7h0M294.0 196.2h0M420.0 237.0h0M437.4 216.9h0M359.6 212.6h0M383.3 242.8h0M266.5 256.3h0M394.0 162.0h0M351.6 188.0h0M317.7 125.8h0M442.8 160.1h0M447.0 158.5h0M328.3 175.5h0M380.1 120.3h0M232.6 183.0h0M287.9 194.7h0M467.8 144.0h0M282.7 169.5h0M295.9 226.4h0M451.7 224.9h0M311.8 171.5h0M419.8 186.5h0M328.5 219.2h0M299.0 233.7h0M287.4 173.3h0M377.2 176.7h0M294.0 203.8h0M384.3 170.0h0M350.0 209.1h0M362.2 132.9h0M450.7 161.9h0M327.6 267.3h0M294.8 197.6h0M361.9 148.9h0M382.6 238.6h0M349.0 198.1h0M246.9 192.8h0M415.1 201.5h0M229.5 174.9h0M437.7 155.1h0M486.8 223.3h0M342.4 226.2h0M304.2 154.5h0M476.3 180.1h0M271.3 266.0h0M362.0 228.2h0M322.3 260.3h0M410.9 184.7h0M388.4 199.7h0M308.8 147.2h0M423.4 238.0h0M365.9 145.7h0M343.8 192.4h0M360.2 157.0h0M277.4 190.4h0M348.5 167.2h0M347.4 272.6h0M409.0 196.6h0M351.0 167.6h0M336.0 192.6h0M443.1 218.9h0M410.7 159.4h0M357.2 241.1h0M334.4 141.0h0M477.5 254.8h0M281.7 159.3h0M383.1 239.6h0M245.7 218.4h0M328.2 169.9h0M417.4 233.1h0M354.7 154.0h0M342.6 236.5h0M424.8 261.3h0M461.2 267.7h0M298.2 148.7h0M286.7 258.2h0M315.5 255.6h0M286.7 205.8h0M403.7 208.8h0M424.6 216.3h0M359.1 175.8h0M291.3 182.4h0M257.4 218.7h0M354.1 236.3h0M309.4 196.0h0M400.4 118.5h0M276.9 220.4h0M325.2 106.2h0M336.4 250.8h0M447.4 229.1h0M427.1 154.6h0M403.0 236.5h0M381.7 234.2h0M419.2 176.5h0M243.5 128.3h0M437.3 245.7h0M347.9 204.4h0M488.0 177.0h0M438.6 235.4h0M464.3 166.7h0M318.1 244.3h0M413.6 167.6h0M391.0 171.5h0M327.2 230.0h0M396.6 200.3h0M478.9 247.6h0M408.0 176.7h0M366.1 249.5h0M481.7 138.1h0M411.8 213.3h0M406.1 218.3h0M333.3 221.0h0M396.8 158.1h0M291.3 227.1h0M382.7 244.5h0M326.3 204.2h0M276.7 219.6h0M357.1 166.8h0M245.4 150.1h0M500.2 254.9h0M305.8 266.8h0M498.2 218.9h0M266.6 157.7h0M369.5 214.3h0M349.4 250.1h0M451.0 230.9h0M364.7 231.0h0M257.7 149.2h0M377.6 254.2h0M350.1 265.2h0M392.5 262.0h0M302.7 274.1h0M319.6 119.2h0M370.4 137.7h0M338.5 141.5h0M385.4 242.0h0M390.0 203.7h0M286.9 155.8h0M387.0 161.8h0M434.5 229.0h0M285.1 126.8h0M269.1 220.8h0M429.9 223.6h0M413.2 297.5h0M444.7 206.6h0M361.6 266.1h0M295.8 211.6h0M387.7 199.9h0M322.1 173.1h0M400.2 214.9h0M429.3 172.4h0M378.8 183.7h0M415.7 181.3h0M372.1 256.3h0M391.9 236.8h0M289.6 145.7h0M512.1 206.6h0M321.9 179.7h0M340.4 213.1h0M318.9 226.4h0M351.8 192.2h0M338.4 259.1h0M235.4 256.8h0M499.3 161.3h0M399.3 204.0h0M349.2 154.9h0M368.2 133.1h0M452.6 140.7h0M436.6 150.7h0M393.1 154.4h0M441.7 223.5h0M200.5 213.9h0M437.5 170.3h0M352.1 157.3h0M313.4 210.0h0M294.8 222.8h0M374.1 261.6h0M248.9 209.2h0M392.8 222.0h0M311.3 131.3h0M424.2 185.7h0M246.0 220.4h0M396.8 168.8h0M333.5 163.9h0M465.8 246.0h0M453.8 200.8h0M298.4 243.5h0M343.0 212.8h0M484.2 171.9h0M372.1 193.6h0M318.9 189.4h0M296.4 242.0h0M308.2 188.9h0M408.4 196.6h0M436.4 145.7h0M335.3 146.8h0M289.0 188.6h0M304.6 191.7h0M239.4 222.4h0M396.1 223.1h0M359.7 208.5h0M446.3 153.4h0M552.5 223.5h0M468.6 133.4h0M330.0 206.8h0M335.0 223.1h0M268.1 261.8h0M515.1 207.5h0M377.8 198.9h0M252.6 129.7h0M411.2 239.4h0M217.3 176.5h0M340.2 229.3h0M364.4 144.2h0M309.0 220.4h0M317.4 229.6h0M416.4 201.1h0M446.0 212.7h0M324.7 111.0h0M495.6 237.2h0M282.6 126.7h0M283.5 149.0h0M356.0 160.3h0M321.0 177.1h0M372.5 278.5h0M433.4 189.7h0M397.5 202.6h0M369.9 170.7h0M325.2 192.4h0M370.3 120.0h0M426.8 211.8h0M291.5 209.9h0M323.2 129.3h0M354.1 161.7h0M366.7 201.1h0M315.1 150.9h0M277.3 116.2h0M300.5 212.9h0M406.4 121.6h0M314.4 227.6h0M421.3 249.8h0M311.8 108.1h0M301.5 222.1h0M417.3 224.7h0M299.2 223.0h0M447.4 264.0h0M357.1 215.8h0M317.7 215.6h0M327.6 200.6h0M376.9 192.1h0M537.8 245.7h0M324.7 212.6h0M423.1 276.5h0M374.1 264.6h0M250.3 215.7h0M501.9 225.2h0M409.9 295.1h0M455.4 272.9h0M250.3 241.7h0M237.1 185.1h0M329.2 198.2h0M399.5 216.9h0M421.4 209.9h0M457.7 260.2h0M294.8 247.2h0M263.3 128.4h0M416.9 221.7h0M286.1 236.0h0M354.0 162.8h0M534.3 146.1h0M326.8 205.0h0M387.8 201.9h0M378.9 274.0h0M359.3 210.9h0M388.8 254.1h0M398.5 273.9h0M363.8 264.2h0M485.8 187.5h0M435.4 214.9h0M287.2 186.3h0M479.7 169.2h0M370.6 252.9h0M347.7 148.1h0M303.4 152.6h0M421.8 156.2h0M357.0 205.5h0M302.8 198.2h0M299.3 224.4h0M452.8 230.2h0M330.7 154.0h0M387.2 230.0h0M412.7 233.2h0M371.3 145.8h0M359.2 176.8h0M291.4 125.2h0M417.4 232.3h0M383.4 195.4h0M302.0 220.1h0M354.3 195.2h0M509.6 159.3h0M383.8 126.2h0M366.0 275.3h0M315.6 122.1h0M319.6 137.8h0M404.2 254.3h0M430.4 151.1h0M377.5 222.1h0M435.0 260.7h0M302.4 257.6h0M332.0 232.2h0M389.0 216.1h0M455.5 256.0h0M327.5 217.3h0M437.9 231.2h0M285.6 192.7h0M451.2 187.5h0M467.1 143.0h0M338.7 268.0h0M389.2 212.2h0M421.2 288.5h0M313.7 130.1h0M333.2 132.1h0M330.9 183.8h0M405.6 160.2h0M436.1 191.7h0M297.9 170.9h0M310.5 178.3h0M413.8 202.9h0M317.2 267.3h0M349.1 229.9h0M428.3 163.4h0M367.8 196.7h0M448.1 192.0h0M371.5 275.5h0M355.6 107.2h0M311.1 165.2h0M335.7 170.7h0M239.7 247.1h0M427.1 168.5h0M424.2 201.2h0M399.4 241.3h0M455.1 284.0h0M245.0 184.0h0M354.3 253.0h0M428.9 164.1h0M346.9 188.6h0M355.8 253.7h0M452.1 143.2h0M404.9 259.2h0M268.0 151.8h0M484.0 237.5h0M305.7 207.4h0M381.7 227.6h0M409.2 219.4h0M249.2 140.1h0M506.7 204.2h0M417.2 235.5h0M394.6 193.1h0M427.0 237.9h0M347.6 141.6h0M420.0 172.2h0M415.6 262.9h0M218.0 209.6h0M280.1 206.3h0M439.8 216.9h0M290.3 257.3h0M407.1 172.6h0M351.5 238.7h0M421.6 203.7h0M243.2 198.5h0M373.9 159.5h0M365.3 267.2h0M386.1 219.6h0M382.6 182.0h0M370.4 193.2h0M393.1 172.1h0M401.9 244.5h0M323.2 138.3h0M482.0 179.6h0M365.6 193.8h0M320.1 207.0h0M416.6 164.7h0M263.4 161.1h0M449.8 239.3h0M338.2 273.3h0M368.0 162.4h0M365.7 184.9h0M399.7 181.1h0M315.9 166.4h0M327.9 232.9h0M316.5 135.7h0M356.8 180.5h0M349.7 208.5h0M333.1 214.7h0M308.8 225.8h0M299.5 225.7h0M327.7 187.7h0M273.8 190.5h0M278.8 218.7h0M361.0 247.6h0M431.2 189.2h0M381.2 180.9h0M416.0 261.3h0M369.7 233.3h0M438.8 269.4h0M375.8 204.4h0M382.2 190.4h0M276.3 227.5h0M437.2 135.2h0M346.2 237.7h0M359.3 181.1h0M392.5 178.3h0M380.0 202.9h0M360.3 149.1h0M461.3 178.3h0M301.0 264.2h0M228.3 147.2h0M339.0 207.4h0M348.6 252.8h0M462.4 284.1h0M486.5 115.6h0M286.9 217.8h0M392.1 215.3h0M279.0 237.7h0M387.6 249.5h0M472.6 224.3h0M318.9 235.5h0M487.2 177.3h0M384.1 286.6h0M321.9 158.7h0M302.6 193.6h0M471.2 201.6h0M437.2 152.5h0M412.8 176.0h0M312.0 163.9h0M379.2 245.1h0M330.1 280.7h0M494.1 218.8h0M417.5 267.8h0M321.5 156.3h0M310.2 207.8h0M269.2 186.8h0M327.0 237.6h0M368.8 172.1h0M402.8 198.4h0M456.3 198.8h0M335.8 183.2h0M472.5 156.0h0M364.6 158.4h0M422.2 210.7h0M334.9 139.7h0M390.3 136.1h0M436.5 154.8h0M331.6 160.0h0M388.0 242.2h0M461.4 164.8h0M288.3 175.5h0M462.5 173.8h0M363.7 216.9h0M271.9 240.9h0M402.0 173.7h0M426.1 188.7h0M360.5 253.4h0M400.3 260.8h0M412.0 208.0h0M379.3 198.7h0M384.9 99.5h0M441.6 175.4h0M436.0 256.1h0M374.7 182.6h0M284.9 188.7h0M347.2 175.8h0M468.0 231.0h0M414.5 199.5h0M524.4 212.8h0M411.9 272.1h0M408.9 186.7h0M352.1 166.6h0M475.4 207.6h0M280.9 215.6h0M402.8 152.6h0M365.4 229.0h0M337.4 130.8h0M451.8 161.0h0M429.1 225.1h0M407.3 262.9h0M352.7 190.2h0M274.8 240.9h0M281.6 193.6h0M208.4 159.7h0M281.0 184.6h0M399.4 230.6h0M490.2 228.9h0M296.1 270.4h0M475.9 221.6h0M464.8 268.2h0M518.3 160.1h0M373.9 155.3h0M339.9 193.7h0M397.9 252.0h0M454.6 261.9h0M413.5 175.7h0M392.0 186.4h0M441.8 161.5h0M314.2 176.3h0M242.4 200.8h0M497.3 155.7h0M494.6 165.6h0M313.0 240.8h0M336.5 201.6h0M304.2 301.3h0M275.7 279.8h0M221.6 160.2h0M441.7 146.5h0M361.8 146.0h0M368.2 247.7h0M389.9 190.2h0M553.1 184.7h0M390.8 194.4h0M445.9 168.6h0M294.3 125.8h0M466.7 176.7h0M376.1 144.8h0M387.7 198.6h0M407.0 188.3h0M359.8 183.5h0M433.3 223.1h0M370.4 142.6h0M346.2 248.6h0M300.7 233.9h0M295.3 239.7h0M448.4 172.6h0M467.7 204.3h0M371.3 253.3h0M364.8 218.5h0M336.5 134.8h0M393.5 221.3h0M496.2 185.6h0M400.5 191.0h0M339.4 196.1h0M466.6 136.8h0M441.1 168.1h0M255.2 150.6h0M345.0 162.9h0M483.8 221.6h0M411.7 240.2h0M376.3 220.9h0M414.1 235.5h0M296.2 195.5h0M296.6 187.6h0M372.2 165.1h0M390.5 235.9h0M518.7 202.0h0M373.1 219.8h0M405.6 212.1h0M337.1 165.0h0M360.8 188.2h0M384.6 153.0h0M403.1 174.2h0M394.6 230.4h0M438.3 193.1h0M286.3 159.8h0M374.3 209.6h0M265.7 201.2h0M515.0 181.6h0M321.6 224.7h0M337.3 193.2h0M427.4 202.0h0M404.6 231.6h0M424.4 228.2h0M376.6 129.1h0M284.3 186.5h0M365.8 255.5h0M328.7 208.9h0M259.6 249.6h0M354.7 182.5h0M454.4 234.3h0M308.9 198.6h0M321.9 192.4h0M320.3 208.4h0M436.3 246.5h0M235.3 172.2h0M412.2 197.4h0M383.2 176.5h0M367.4 187.8h0M306.8 197.3h0M354.7 191.7h0M539.9 204.5h0M391.2 253.0h0M344.1 162.4h0M440.9 109.6h0M284.6 269.2h0M465.5 283.6h0M365.7 147.0h0M421.3 195.6h0M408.4 178.8h0M344.2 160.9h0M420.3 126.7h0M432.6 255.0h0M277.2 194.8h0M267.6 124.0h0M416.6 223.1h0M331.3 242.4h0M385.6 207.4h0M382.1 217.7h0M385.4 140.0h0M354.4 222.9h0M421.5 190.2h0M492.1 181.6h0M509.2 167.6h0M345.1 209.3h0M378.5 191.6h0M266.6 202.1h0M263.0 195.8h0M361.9 198.8h0M407.2 275.3h0M432.4 242.6h0M322.3 291.5h0M421.8 279.3h0M361.2 133.6h0M337.2 253.3h0M449.3 204.0h0M533.8 198.3h0M366.5 260.9h0M432.1 242.5h0M362.0 214.4h0M318.8 170.1h0M287.2 199.3h0M245.3 218.7h0M384.5 229.0h0M294.1 187.0h0M360.5 124.6h0M391.0 165.3h0M364.1 227.0h0M375.9 201.7h0M492.1 235.5h0M391.4 232.4h0M387.9 171.5h0M356.6 221.5h0M487.9 251.1h0M474.3 168.1h0M326.1 171.3h0M399.4 248.7h0M358.9 186.0h0M336.9 207.7h0M304.2 195.8h0M521.3 203.5h0M412.8 198.1h0M226.5 252.5h0M455.5 216.3h0M518.8 208.7h0M379.3 223.3h0M365.7 192.4h0M382.1 167.4h0M445.0 154.0h0M329.6 284.8h0M401.5 180.4h0M264.7 163.6h0M465.3 239.4h0M289.2 239.6h0M341.8 236.9h0M401.3 238.7h0M451.1 163.0h0M317.0 296.9h0M319.5 260.3h0M494.2 200.3h0M322.6 194.3h0M331.3 167.7h0M422.5 247.3h0M424.3 252.3h0M450.3 191.9h0M402.2 169.4h0M338.2 206.1h0M404.3 194.6h0M429.2 203.1h0M287.0 237.0h0M367.1 205.7h0M505.7 136.4h0M345.9 231.2h0M374.0 166.1h0M372.5 132.1h0M398.1 226.3h0M420.3 236.8h0M296.1 173.0h0M431.3 184.7h0M227.2 180.6h0M393.1 207.0h0M401.9 196.7h0M425.7 176.1h0M294.7 273.2h0M395.4 191.8h0M423.2 230.6h0M424.7 181.7h0M471.8 174.7h0M298.0 176.6h0M331.1 150.6h0M349.1 248.8h0M366.2 144.0h0M452.3 204.7h0M436.3 219.3h0M378.1 119.7h0M517.6 226.9h0M418.0 160.8h0M287.7 177.2h0M476.7 154.1h0M278.0 231.5h0M280.0 134.5h0M338.8 152.2h0M334.8 210.9h0M361.3 294.6h0M369.8 247.3h0M311.7 253.8h0M315.3 156.6h0M422.2 256.7h0M391.8 192.5h0M351.8 190.3h0M370.9 272.8h0M297.5 217.1h0M276.7 159.4h0M450.4 218.0h0M423.8 249.8h0M343.6 219.4h0M503.0 269.7h0M361.7 188.5h0M421.4 236.0h0M408.6 255.3h0M379.2 205.8h0M380.4 188.0h0M498.1 274.4h0M444.6 218.7h0M243.2 229.1h0M418.3 176.7h0M222.5 223.4h0M296.8 227.4h0M406.6 229.4h0M293.8 215.0h0M474.0 224.0h0M344.7 201.7h0M418.9 222.7h0M395.2 195.5h0M436.3 191.5h0M481.0 281.4h0M368.4 134.8h0M388.0 207.5h0M457.1 188.6h0M352.0 247.7h0M276.0 270.0h0M260.5 176.1h0M306.0 189.1h0M386.5 143.8h0M384.7 182.1h0M492.2 242.1h0M395.4 172.3h0M434.8 246.0h0M274.1 218.4h0M391.6 148.3h0M335.1 161.8h0M328.3 189.9h0M474.5 236.8h0M371.1 170.8h0M366.0 169.1h0M372.4 196.1h0M276.3 204.7h0M258.6 209.3h0M534.1 238.3h0M376.3 129.0h0M371.3 191.3h0M389.2 228.7h0M338.1 275.9h0M350.7 234.9h0M308.9 201.3h0M397.9 216.4h0M360.0 169.3h0M455.6 235.9h0M501.7 158.2h0M294.7 161.9h0M425.7 175.7h0M340.8 210.2h0M387.8 202.1h0M450.8 273.5h0M335.5 255.2h0M475.4 267.7h0M317.9 238.7h0M282.9 223.2h0M367.3 249.6h0M341.0 215.5h0M384.7 186.1h0M304.4 240.6h0M368.4 252.0h0M367.8 200.4h0M292.1 174.0h0M534.2 205.6h0M392.8 253.9h0M414.5 195.3h0M423.9 252.3h0M429.4 237.8h0M313.7 195.9h0M394.5 210.6h0M359.7 202.1h0M353.5 154.4h0M306.4 242.6h0M341.5 195.9h0M370.2 185.8h0M461.2 164.9h0M399.2 167.1h0M386.8 262.8h0M378.5 226.2h0M378.8 202.8h0M298.0 214.9h0M243.7 169.4h0M532.8 213.9h0M414.8 186.7h0M510.5 163.5h0M343.2 209.7h0M453.5 152.5h0M365.7 146.9h0M326.7 134.1h0M442.5 271.7h0M348.3 234.6h0M208.8 257.8h0M418.9 243.9h0M367.7 194.0h0M369.0 157.2h0M350.1 167.5h0M407.7 142.6h0M501.1 191.9h0M456.5 182.5h0M398.7 181.4h0M382.0 272.8h0M319.8 142.4h0M527.1 209.3h0M240.1 165.1h0M301.8 186.3h0M362.0 189.2h0M385.2 256.5h0M396.0 175.7h0M344.2 209.4h0M478.1 287.4h0M244.2 229.2h0M305.0 232.1h0M277.1 289.1h0M494.2 243.5h0M342.0 196.9h0M264.5 179.2h0M352.6 176.8h0M281.2 218.1h0M378.5 204.1h0M430.9 274.7h0M291.9 186.0h0M393.3 258.7h0M400.0 225.9h0M322.0 217.5h0M414.3 253.8h0M326.5 212.3h0M428.6 208.0h0M365.2 135.0h0M342.1 196.4h0M494.7 154.6h0M457.0 212.2h0M352.7 202.3h0M396.6 161.7h0M337.4 178.8h0M406.7 260.6h0M374.9 242.9h0M352.4 190.1h0M347.4 260.3h0M491.8 195.6h0M500.2 133.5h0M482.6 191.6h0M290.9 194.0h0M344.7 162.6h0M385.9 175.1h0M458.2 166.1h0M291.5 196.9h0M451.5 220.5h0M328.8 157.9h0M401.6 181.1h0M248.2 154.6h0M199.9 222.4h0M312.1 266.4h0M269.3 229.0h0M272.2 119.0h0M329.9 241.0h0M387.0 161.3h0M429.7 208.0h0M296.1 148.4h0M354.3 215.0h0M283.8 177.7h0M273.8 209.4h0M326.2 268.6h0M450.4 126.3h0M381.2 240.1h0M217.7 200.2h0M264.9 208.8h0M370.9 226.9h0M300.7 182.1h0M437.0 148.5h0M391.6 164.0h0M457.2 202.2h0M377.7 237.3h0M348.8 207.7h0M459.6 236.1h0M228.9 149.3h0M268.9 140.8h0M257.9 256.2h0M346.7 275.6h0M323.5 182.2h0M298.0 203.3h0M417.4 200.9h0M401.8 232.7h0M324.6 223.1h0M260.7 210.9h0M546.7 198.1h0M387.0 112.3h0M318.9 263.3h0M374.5 142.4h0M390.0 156.7h0M315.5 117.7h0M424.0 168.1h0M374.3 147.2h0M328.6 170.2h0M457.9 151.8h0M332.9 214.0h0M473.7 207.5h0M377.3 132.8h0M347.8 240.1h0M464.3 156.4h0M339.3 287.9h0M411.5 198.2h0M480.0 208.0h0M340.0 188.4h0M323.2 221.2h0M449.2 210.9h0M218.6 204.5h0M409.5 180.7h0M462.3 169.9h0M327.8 236.2h0M451.4 248.4h0M344.9 162.3h0M321.2 187.1h0M345.6 179.6h0M429.3 168.2h0M341.8 196.2h0M328.5 161.2h0M372.2 154.6h0M459.9 179.9h0M488.3 216.9h0M292.7 159.6h0M363.2 138.8h0M404.1 206.3h0M376.9 215.9h0M530.3 241.2h0M379.6 115.3h0M326.8 188.0h0M338.3 227.2h0M395.2 277.0h0M313.0 234.9h0M323.4 147.3h0M329.1 202.4h0M512.2 192.2h0M419.8 215.8h0M284.5 229.6h0M408.9 266.6h0M369.6 235.3h0M419.6 184.5h0M398.2 167.4h0M414.4 167.5h0M388.0 170.9h0M321.6 226.0h0M356.0 218.5h0M267.4 196.1h0M377.7 227.6h0M300.5 221.5h0M425.0 234.3h0M344.5 188.9h0M342.1 152.9h0M428.3 122.1h0M309.1 122.2h0M427.6 176.8h0M333.6 210.0h0M402.1 104.4h0M346.2 181.9h0M511.6 218.6h0M473.2 166.1h0M443.4 233.6h0M286.8 171.2h0M479.2 222.7h0M346.4 208.4h0M279.8 256.1h0M402.5 261.8h0M465.2 145.9h0M270.7 250.0h0M442.0 271.6h0M360.6 114.1h0M363.2 264.6h0M418.6 223.9h0M352.9 158.6h0M328.1 260.3h0M469.4 222.1h0M210.3 173.3h0M461.8 185.1h0M285.1 189.6h0M481.1 202.5h0M292.2 198.0h0M495.5 191.6h0M535.4 204.0h0M391.7 225.5h0M363.7 246.1h0M356.0 179.1h0M465.6 168.8h0M366.7 137.9h0M430.6 264.6h0M392.8 247.9h0M299.8 141.8h0M368.2 196.9h0M404.6 159.3h0M401.8 223.5h0M382.8 291.5h0M528.6 196.6h0M411.9 147.1h0M360.1 240.5h0M387.1 243.8h0M356.7 226.1h0M298.6 207.1h0M474.3 193.4h0M308.6 216.5h0M483.9 127.2h0M388.2 209.9h0M448.7 200.9h0M379.2 222.1h0M357.5 97.9h0M351.9 215.0h0M311.5 165.1h0M415.7 212.0h0M499.6 162.8h0M287.6 205.7h0M340.2 118.7h0M451.6 173.2h0M458.7 203.2h0M427.0 181.8h0M348.9 228.0h0M398.3 214.3h0M329.0 128.5h0M418.1 172.8h0M381.8 235.9h0M403.6 213.8h0M364.7 245.1h0M438.7 183.0h0M385.2 207.2h0M325.0 226.2h0M399.4 201.9h0M359.5 126.7h0M367.6 198.7h0M506.9 248.0h0M387.1 214.7h0M403.8 204.3h0M319.4 193.1h0M353.3 233.2h0M335.3 160.6h0M301.0 226.9h0M351.7 228.0h0M284.1 233.5h0M426.5 177.8h0M438.0 248.4h0M309.9 227.8h0M406.7 183.4h0M321.7 192.4h0M397.8 189.2h0M406.8 161.2h0M207.4 189.3h0M408.1 215.6h0M408.1 259.2h0M367.6 220.3h0M328.6 277.2h0M316.4 198.0h0M198.2 200.4h0M482.2 209.1h0M216.4 186.6h0M383.1 251.4h0M349.3 164.0h0M388.5 210.2h0M277.7 211.3h0M303.9 195.4h0M284.2 225.4h0M369.6 189.3h0M271.1 258.2h0M376.1 208.4h0M399.1 228.5h0M364.6 176.7h0M404.1 125.8h0M323.1 223.5h0M335.8 187.7h0M476.0 158.2h0M319.7 176.0h0M361.2 184.4h0M456.0 195.2h0M374.5 109.2h0M430.3 174.9h0M285.5 262.4h0M436.6 235.0h0M359.0 276.4h0M397.5 224.3h0M411.9 178.4h0M230.5 260.0h0M447.1 184.7h0M327.3 212.4h0M448.5 217.2h0M337.5 211.0h0M373.1 131.0h0M251.5 255.8h0M276.7 167.9h0M438.6 223.4h0M297.7 171.6h0M375.5 204.8h0M351.6 237.3h0M277.9 125.1h0M340.0 133.5h0M345.1 241.5h0M402.3 164.6h0M327.0 166.7h0M312.6 255.8h0M468.4 233.5h0M472.1 210.1h0M363.1 247.1h0M287.3 184.5h0M389.3 238.7h0M321.3 236.9h0M472.0 236.6h0M356.2 198.0h0M312.5 253.4h0M336.0 267.8h0M292.4 285.8h0M353.7 188.6h0M270.0 187.0h0M374.2 252.7h0M422.4 208.6h0M394.9 298.5h0M293.4 221.8h0M387.3 210.0h0M328.3 156.1h0M259.6 232.5h0M350.1 187.4h0M423.6 266.7h0M372.7 235.5h0M331.8 237.2h0M310.1 217.0h0M402.8 139.5h0M271.5 234.4h0M283.8 208.9h0M392.9 154.2h0M329.8 264.2h0M294.5 240.4h0M399.0 258.9h0M311.0 153.5h0M272.1 220.8h0M348.7 148.2h0M281.7 176.9h0M358.6 148.2h0M270.5 220.8h0M363.4 275.1h0M306.7 133.1h0M402.5 139.9h0M271.9 212.8h0M352.5 149.4h0M410.1 266.5h0M285.6 189.4h0M316.2 127.6h0M323.3 161.3h0M336.5 251.7h0M375.9 284.8h0M268.3 259.2h0M313.4 239.1h0M379.5 144.9h0M282.6 247.6h0M298.9 237.8h0M350.9 148.7h0M287.4 143.8h0M360.4 254.9h0M283.3 211.8h0M386.1 259.4h0M338.5 141.9h0M290.8 165.0h0M403.0 157.0h0M330.0 159.0h0M369.8 147.3h0M288.1 158.6h0M371.6 140.2h0M375.1 128.4h0M294.9 162.2h0M339.8 120.7h0M270.0 174.3h0M264.4 173.6h0M350.4 124.4h0M385.8 251.3h0M353.7 263.5h0M313.7 249.9h0M356.0 140.1h0M410.5 147.8h0M309.0 150.9h0M321.6 136.4h0M292.5 245.7h0M273.5 229.4h0M359.0 152.0h0M274.2 200.4h0M365.1 265.8h0M319.1 162.4h0M268.1 196.4h0M402.7 249.9h0M280.1 136.6h0M280.4 211.4h0M381.1 285.9h0M398.3 155.4h0M232.6 189.6h0M384.3 258.7h0M293.9 237.4h0M382.9 257.0h0M366.1 268.1h0M277.2 260.1h0M337.7 150.2h0M280.7 180.8h0M235.8 204.9h0M239.2 223.1h0M376.9 149.5h0M260.6 249.8h0M408.8 255.6h0M349.8 150.2h0M306.7 154.7h0M317.8 131.0h0M295.6 165.3h0M279.7 189.2h0M271.1 182.6h0M366.9 262.6h0M333.9 259.1h0M363.8 153.4h0M246.3 203.5h0M285.4 173.4h0M261.3 226.5h0M368.4 133.4h0M373.9 150.2h0M307.5 152.2h0M401.3 127.5h0M283.0 138.4h0M406.0 253.6h0M395.0 137.1h0M387.2 266.1h0M278.2 177.7h0M242.0 219.0h0M346.8 137.9h0M327.2 160.5h0M275.9 209.2h0M336.9 125.0h0M318.8 131.4h0M404.9 137.3h0M299.7 171.2h0M249.1 176.5h0M379.5 147.1h0M327.8 254.1h0M282.6 171.1h0M261.3 183.1h0M365.4 264.1h0M365.0 255.6h0M327.3 260.1h0M305.5 247.7h0M382.9 140.8h0M385.4 127.8h0M372.9 130.7h0M349.2 128.6h0M282.5 229.4h0M285.4 173.6h0M267.4 217.5h0M296.5 273.7h0M306.4 243.8h0M277.9 173.7h0M324.6 243.5h0M256.4 246.4h0M276.9 165.1h0M368.2 118.7h0M270.2 169.9h0M246.4 216.9h0M282.7 248.2h0M303.8 240.5h0M387.8 138.0h0M371.2 149.0h0M291.1 154.5h0M266.3 231.0h0M296.9 225.6h0M404.7 250.5h0M343.2 147.0h0M376.4 264.7h0M243.7 187.7h0M299.9 137.7h0M273.7 210.7h0M393.0 260.3h0M325.9 154.1h0M290.5 171.5h0M294.6 133.8h0M317.8 159.0h0M338.9 266.4h0M370.9 276.7h0M363.1 149.7h0M268.3 159.6h0M299.1 244.8h0M371.2 255.4h0M273.9 245.0h0M310.7 250.6h0M321.9 260.3h0M269.7 237.5h0M249.3 197.1h0M251.4 247.1h0M320.1 278.7h0M332.8 254.6h0M280.4 179.9h0M364.9 144.0h0M321.9 246.3h0M348.4 127.4h0M329.6 255.4h0M241.4 177.5h0M350.0 140.7h0M294.7 152.5h0M312.1 253.7h0M387.7 259.6h0M349.3 263.0h0M275.2 182.8h0M274.8 227.6h0M300.5 143.4h0M399.5 129.3h0M273.7 222.9h0M385.2 279.4h0M284.5 238.2h0M235.1 191.4h0M363.9 122.4h0M362.6 139.9h0M357.0 281.8h0M367.9 256.0h0M261.5 212.6h0M405.4 129.0h0M250.2 226.3h0M404.0 271.9h0M327.2 139.8h0M395.9 135.4h0M262.7 193.0h0M381.5 128.3h0M371.2 263.9h0M250.2 238.6h0M287.0 224.2h0M304.4 238.6h0M369.8 122.2h0M273.8 204.4h0M391.6 249.7h0M346.7 277.0h0M229.4 203.7h0M244.7 184.2h0M286.7 143.4h0M241.4 206.1h0M370.7 263.4h0M285.4 195.3h0M255.8 190.8h0M269.3 210.2h0M295.8 224.1h0M362.5 266.1h0M288.4 147.5h0M268.0 173.7h0M351.6 280.7h0M343.1 129.8h0M347.8 151.6h0M389.7 250.8h0M292.1 144.4h0M288.6 144.5h0M316.4 263.9h0M300.0 252.9h0M260.3 211.2h0M275.2 202.2h0M343.6 149.5h0M409.5 279.5h0M256.0 196.2h0M409.5 247.5h0M288.9 183.9h0M307.1 158.6h0M382.1 273.9h0M305.0 234.8h0M292.5 251.5h0M387.9 141.8h0M404.6 251.4h0M241.5 180.2h0M352.7 272.7h0M279.9 142.5h0M342.1 130.9h0M384.5 137.0h0M369.5 152.3h0M323.4 258.1h0M314.3 149.8h0M281.8 163.4h0M403.0 150.3h0M384.6 255.8h0M327.3 271.2h0M367.2 251.2h0M345.8 266.8h0M386.2 263.5h0M252.6 212.5h0M298.5 226.9h0M241.5 187.5h0M273.1 225.8h0M321.1 141.2h0M255.2 223.4h0M308.2 141.7h0M249.2 215.1h0M285.6 193.6h0M350.5 266.3h0M294.5 167.4h0M310.2 271.9h0M289.7 234.0h0M382.1 125.8h0M243.5 202.8h0M388.6 261.9h0M280.3 261.9h0M270.8 227.8h0M271.8 201.7h0M275.3 255.5h0M307.9 237.6h0M325.3 153.3h0M276.2 255.3h0M300.0 143.1h0M300.1 147.9h0M285.4 238.0h0M266.0 235.9h0M277.6 209.8h0M297.0 175.4h0M394.7 140.0h0M301.4 173.2h0M300.3 239.6h0M408.7 146.7h0M312.8 238.8h0M400.7 278.6h0M278.7 210.5h0M279.9 149.3h0M328.4 156.8h0M266.6 181.9h0M288.7 236.4h0M270.4 202.4h0M270.7 198.5h0M252.1 196.2h0M321.0 244.5h0M248.0 183.9h0M303.2 234.2h0M397.0 124.1h0M275.2 188.5h0M291.0 167.1h0M391.7 132.0h0M345.4 139.5h0M287.4 208.4h0M277.2 189.9h0M285.8 269.7h0M326.1 153.6h0M385.7 266.8h0M305.4 149.0h0M372.6 119.3h0M285.6 256.4h0M285.4 225.5h0M241.0 203.2h0M308.8 276.9h0M403.8 122.2h0M346.7 263.9h0M284.4 203.2h0M281.0 247.1h0M275.5 183.7h0M263.4 173.1h0M362.8 278.1h0M279.6 161.1h0M367.7 256.3h0M410.8 249.4h0M287.8 268.2h0M293.1 148.6h0M406.7 249.1h0M364.5 125.8h0M245.2 201.2h0M373.1 256.5h0M290.7 181.8h0M251.0 237.9h0M296.3 257.6h0M349.8 134.4h0M264.6 249.1h0M292.0 178.5h0M237.5 206.0h0M269.2 248.7h0M372.4 253.3h0M267.0 223.7h0M269.2 184.3h0M331.5 270.9h0M333.6 142.2h0M331.4 156.4h0M303.4 171.7h0M289.6 166.6h0M331.8 150.6h0M268.7 234.2h0M246.6 194.2h0M315.2 139.4h0M281.7 267.2h0M278.1 182.5h0M241.8 213.1h0M299.9 272.7h0M345.5 251.5h0M390.3 148.2h0M303.3 152.9h0M364.7 145.3h0M407.3 133.3h0M276.8 210.1h0M266.4 234.8h0M382.8 144.8h0M299.8 262.4h0M275.4 246.3h0M332.9 157.1h0M357.5 252.1h0M360.8 271.6h0M376.6 123.7h0M362.1 143.7h0M226.8 212.0h0M347.0 133.8h0M338.8 151.8h0M302.5 155.6h0M292.4 266.2h0M280.3 197.0h0M359.9 262.2h0M272.2 225.4h0M344.1 277.5h0M285.6 258.1h0M285.2 184.8h0M357.0 132.9h0M281.6 261.3h0M290.4 174.4h0M352.8 267.7h0M327.4 154.4h0M263.6 213.9h0M303.5 242.8h0M408.4 147.6h0M368.6 149.0h0M400.9 280.2h0M329.6 282.5h0M300.3 231.5h0M284.8 228.6h0M346.4 130.6h0M308.6 145.7h0M382.0 151.0h0M392.6 261.3h0M258.7 209.4h0M335.5 145.8h0M292.1 237.4h0M409.8 258.4h0M310.7 159.7h0M308.0 130.1h0M269.6 155.1h0M276.5 193.5h0M259.3 204.3h0M407.2 277.2h0M241.7 238.3h0M288.0 231.9h0M319.4 259.1h0M287.2 190.0h0M259.8 212.6h0M273.4 225.3h0M273.9 254.7h0M303.0 167.0h0M369.1 149.6h0M410.1 275.5h0M240.7 187.9h0M370.6 257.3h0M281.4 192.5h0M362.6 276.0h0M265.5 256.2h0M322.6 265.1h0M339.7 260.9h0M254.3 172.3h0M254.1 189.5h0M258.4 196.9h0M283.4 204.0h0M283.0 223.9h0M343.4 253.4h0M288.0 258.9h0M324.5 135.9h0M367.0 152.2h0M271.0 262.3h0M260.0 214.6h0M281.3 188.4h0M302.8 159.0h0M368.9 270.3h0M306.6 259.7h0M307.7 128.4h0M358.3 252.1h0M295.7 229.5h0M316.5 138.4h0M334.9 254.7h0M277.1 226.4h0M326.1 244.9h0M239.1 167.8h0M281.9 239.9h0M299.1 140.4h0M397.8 139.0h0M379.1 150.5h0M270.6 191.0h0M346.4 256.9h0M331.5 146.9h0M288.1 240.2h0M309.7 137.0h0M282.6 221.1h0M321.7 144.0h0M386.2 141.4h0M243.9 191.8h0M308.9 163.6h0M340.3 270.4h0M270.5 165.6h0M287.3 177.7h0M408.0 282.1h0M380.8 152.0h0M294.5 227.4h0M341.0 268.2h0M271.9 261.0h0M243.2 161.7h0M309.7 235.5h0M303.0 143.0h0M278.6 149.4h0M286.0 137.6h0M339.2 250.3h0M342.5 148.1h0M302.8 231.9h0M282.1 222.2h0M287.4 162.5h0M280.1 217.0h0M276.0 222.6h0M287.8 174.7h0M235.3 212.3h0M388.7 130.5h0M407.7 128.2h0M243.4 182.0h0M409.2 121.8h0M367.1 258.3h0M246.0 164.7h0M269.6 207.5h0M382.3 154.1h0M250.6 228.1h0M250.3 162.5h0M289.7 171.4h0M376.9 132.1h0M305.7 166.2h0M354.6 274.2h0M395.9 120.8h0M286.9 194.0h0M283.3 222.5h0M356.2 124.7h0M278.7 228.6h0M247.4 231.8h0M325.8 159.5h0M249.6 171.2h0M266.3 229.6h0M401.7 138.7h0M248.5 187.7h0M262.0 194.5h0M253.2 211.9h0M216.4 52.0h0M190.0 87.6h0M233.6 93.8h0M246.0 90.2h0M208.6 99.0h0M210.4 101.6h0M217.0 111.6h0M227.0 112.0h0M244.0 109.4h0M244.6 113.0h0M201.0 119.4h0M278.0 81.0h0M269.4 88.4h0M272.0 93.6h0M266.6 99.4h0M276.0 100.0h0M263.6 107.6h0M270.0 106.0h0M237.0 118.0h0M222.0 118.0h0M226.0 117.4h0M257.0 115.0h0M288.4 59.4h0M293.0 56.6h0M292.0 72.6h0M301.6 75.0h0M299.4 79.0h0M305.6 83.0h0M291.6 86.0h0M285.0 90.0h0M286.0 93.0h0M294.4 94.0h0M302.4 88.6h0M304.4 90.6h0M321.0 78.6h0M320.0 81.0h0M319.4 88.0h0M322.0 94.0h0M328.6 77.0h0M331.0 79.4h0M337.6 76.0h0M345.0 69.4h0M342.0 73.0h0M345.4 76.0h0M339.0 90.4h0M358.4 69.0h0M354.0 83.0h0M356.0 93.0h0M367.0 53.4h0M380.0 55.0h0M374.0 69.4h0M373.4 80.6h0M374.0 92.0h0M383.4 90.6h0M408.0 55.4h0M419.0 62.4h0M427.4 67.4h0M412.6 74.6h0M407.4 82.6h0M405.6 88.6h0M407.4 93.0h0M280.0 81.0h0M475.6 52.4h0M473.4 65.0h0M469.0 69.6h0M446.0 66.6h0M451.6 78.0h0M444.4 81.6h0M435.6 88.4h0M441.0 90.4h0M452.0 94.0h0M448.6 97.6h0M480.0 85.4h0M462.0 100.0h0M462.0 103.6h0M500.6 77.6h0M495.4 81.0h0M496.0 104.0h0M483.0 113.0h0M536.4 93.4h0M532.0 105.0h0M531.4 113.6h0M511.0 112.0h0M521.0 116.4h0M499.6 115.0h0M576.4 60.0h0M572.0 107.0h0M571.6 116.0h0M430.0 67.0h0M566.0 119.0h0M532.0 104.4h0M531.0 114.0h0M566.0 119.4h0M578.4 122.4h0M596.4 116.6h0M591.6 129.6h0M629.6 104.6h0M631.4 135.0h0M647.4 135.0h0M647.4 149.0h0M668.0 152.6h0M610.6 145.0h0M629.6 166.6h0M539.4 121.0h0M536.4 124.0h0M541.0 125.6h0M547.0 126.6h0M528.0 125.0h0M523.6 128.0h0M546.0 136.4h0M551.0 138.0h0M559.0 137.6h0M563.0 136.6h0M530.0 140.0h0M543.0 141.0h0M539.0 145.6h0M549.6 143.0h0M550.0 147.0h0M577.0 142.0h0M567.0 144.4h0M562.0 152.4h0M568.6 151.0h0M596.4 152.4h0M585.0 153.6h0M579.0 156.4h0M553.0 155.6h0M549.0 156.0h0M588.0 163.0h0M603.0 164.4h0M567.0 165.0h0M559.6 164.0h0M560.0 167.0h0M552.0 163.6h0M586.6 169.0h0M579.6 171.6h0M583.0 175.6h0M573.0 172.4h0M568.0 174.4h0M561.0 173.0h0M602.0 176.0h0M612.0 178.0h0M597.0 183.0h0M591.0 183.6h0M606.0 188.0h0M578.0 185.0h0M571.0 187.0h0M563.0 185.0h0M691.0 181.6h0M638.6 206.6h0M658.4 206.0h0M648.0 220.0h0M641.4 231.0h0M638.0 237.6h0M664.4 236.0h0M718.0 243.4h0M688.4 255.6h0M615.0 241.6h0M621.4 245.4h0M606.0 250.6h0M610.0 251.4h0M611.0 262.0h0M600.0 266.0h0M625.0 269.4h0M597.4 237.4h0M595.0 242.6h0M586.0 232.6h0M592.0 224.0h0M584.0 258.4h0M578.0 246.0h0M577.0 249.0h0M613.0 207.4h0M614.0 217.4h0M609.0 214.0h0M603.0 207.0h0M606.0 210.4h0M601.0 219.0h0M595.6 217.0h0M603.0 198.4h0M605.6 189.0h0M598.0 184.0h0M594.0 183.6h0M612.0 180.0h0M593.0 199.0h0M595.0 204.0h0M595.0 209.0h0M577.4 228.0h0M572.0 234.0h0M574.0 255.6h0M574.0 261.0h0M655.0 279.4h0M579.6 275.0h0M586.0 290.6h0M593.0 294.0h0M598.6 297.6h0M573.0 263.6h0M575.0 261.0h0M564.0 260.0h0M556.6 271.0h0M557.4 273.6h0M549.0 272.4h0M544.0 265.6h0M545.0 269.0h0M537.6 260.6h0M534.0 271.0h0M529.6 267.0h0M524.0 274.0h0M523.0 280.6h0M536.6 285.0h0M551.0 282.4h0M557.4 283.6h0M532.0 295.0h0M544.4 294.6h0M560.0 297.0h0M532.0 311.0h0M541.4 318.4h0M524.4 339.4h0M449.0 362.0h0M476.0 348.0h0M401.6 345.6h0M428.0 344.4h0M404.6 333.0h0M425.0 333.6h0M436.6 323.0h0M454.6 322.4h0M458.6 323.6h0M459.0 317.6h0M455.6 310.4h0M471.4 325.4h0M475.6 322.6h0M482.4 309.0h0M486.4 310.6h0M499.4 303.6h0M500.0 314.4h0M508.0 310.0h0M512.6 315.6h0M509.0 320.0h0M467.0 299.0h0M483.0 298.0h0M439.0 311.4h0M437.0 308.0h0M422.0 308.0h0M411.0 319.6h0M415.0 320.0h0M404.0 318.0h0M399.0 320.6h0M397.0 324.0h0M395.0 328.6h0M409.0 312.0h0M511.0 291.0h0M507.0 288.0h0M390.0 323.0h0M244.4 345.6h0M309.6 349.6h0M375.0 360.0h0M372.6 339.6h0M369.4 342.6h0M259.0 328.4h0M269.0 325.0h0M275.0 321.4h0M284.0 322.0h0M291.4 320.6h0M282.0 315.0h0M310.0 330.0h0M312.4 332.6h0M318.4 329.0h0M340.0 333.6h0M346.0 331.4h0M343.6 327.4h0M357.0 330.4h0M366.0 328.0h0M371.0 324.6h0M383.0 331.0h0M252.0 313.6h0M245.0 311.0h0M260.0 310.6h0M266.0 310.0h0M300.0 315.0h0M307.0 318.0h0M311.0 321.0h0M309.0 322.0h0M327.4 320.0h0M322.0 314.0h0M330.0 312.0h0M348.0 318.0h0M352.0 318.6h0M361.0 320.6h0M362.0 323.0h0M365.0 316.0h0M377.6 318.0h0M385.0 321.0h0M293.0 312.6h0M277.0 307.0h0M270.0 304.0h0M268.0 302.0h0M142.6 275.4h0M157.0 255.6h0M172.6 280.4h0M175.0 252.4h0M182.0 253.0h0M187.6 252.0h0M193.0 242.0h0M198.0 248.0h0M200.6 259.6h0M200.4 265.4h0M211.0 264.0h0M190.0 272.4h0M192.4 273.4h0M204.6 284.0h0M218.6 281.6h0M224.4 293.0h0M208.0 300.4h0M219.0 301.4h0M228.0 301.6h0M228.0 306.4h0M224.0 318.6h0M234.0 315.4h0M215.6 325.6h0M224.4 271.0h0M229.0 276.4h0M236.4 286.4h0M240.0 280.4h0M245.0 288.6h0M237.0 297.0h0M240.0 294.4h0M244.0 301.0h0M251.0 298.6h0M250.0 304.4h0M257.0 295.0h0M261.0 293.6h0M157.0 192.0h0M164.0 196.4h0M171.0 194.4h0M180.0 192.4h0M178.0 204.0h0M148.0 217.0h0M156.0 217.6h0M151.4 222.4h0M171.0 214.0h0M180.0 217.0h0M176.0 221.0h0M171.0 227.0h0M163.0 232.0h0M183.0 229.6h0M176.0 237.0h0M161.0 173.6h0M168.0 172.0h0M178.0 171.0h0M159.0 156.0h0M187.0 168.0h0M143.6 132.0h0M187.0 151.0h0M206.4 131.6h0M212.0 133.0h0M212.4 137.0h0M211.0 126.0h0M215.0 123.6h0M218.0 121.0h0M222.0 119.0h0M227.0 118.0h0M229.0 122.0h0M206.0 144.0h0M221.0 129.0h0M224.0 127.0h0M237.0 118.0h0M267.0 99.0h0M264.0 107.0h0M560.6 173.0h0M568.4 174.0h0M571.4 172.4h0M576.3 173.0h0M582.0 171.0h0M583.0 176.0h0M559.6 184.7h0M564.5 184.0h0M571.4 188.6h0M569.4 194.5h0M577.6 184.7h0M578.2 190.6h0M587.0 188.6h0M588.0 195.5h0M576.3 199.4h0M581.2 199.4h0M562.5 200.4h0M563.5 206.3h0M570.4 202.4h0M576.3 206.3h0M582.2 203.3h0M588.0 202.4h0M584.0 210.2h0M591.0 208.2h0M576.3 214.0h0M572.4 216.0h0M585.0 217.0h0M561.6 218.0h0M569.4 221.0h0M572.4 226.9h0M565.5 237.6h0M560.6 239.6h0M561.6 245.5h0M565.5 248.4h0M582.0 194.5h0M575.0 194.5h0M585.0 191.6h0M552.0 248.6h0M551.4 255.5h0M553.0 243.7h0M556.9 233.0h0M569.6 257.5h0M513.7 282.0h0M512.7 284.5h0" fill="none" stroke="#1e90ff" stroke-width="6.4" stroke-linecap="round"/>
<text class="wtp" transform="translate(98.2 181.4) rotate(-10.43)" textLength="118" lengthAdjust="spacingAndGlyphs">WTP=5000000</text>
<path d="M558.6 204.5L558.6 207.3L558.4 210.1L558.1 212.9L557.6 215.7L557.0 218.5L556.3 221.3L555.5 224.0L554.5 226.8L553.5 229.5L552.3 232.2L550.9 234.9L549.5 237.6L547.9 240.3L546.2 242.9L544.4 245.5L542.4 248.1L540.4 250.6L538.2 253.1L535.9 255.6L533.5 258.0L531.0 260.4L528.4 262.7L525.7 265.0L522.8 267.3L519.9 269.5L516.9 271.7L513.7 273.8L510.5 275.9L507.1 278.0L503.7 279.9L500.2 281.9L496.6 283.7L492.9 285.5L489.1 287.3L485.3 289.0L481.3 290.6L477.3 292.2L473.3 293.7L469.1 295.2L464.9 296.6L460.6 297.9L456.3 299.2L451.9 300.4L447.4 301.5L442.9 302.5L438.3 303.5L433.7 304.4L429.1 305.3L424.4 306.1L419.7 306.8L414.9 307.4L410.1 308.0L405.3 308.5L400.5 308.9L395.6 309.2L390.7 309.5L385.9 309.7L381.0 309.8L376.0 309.9L371.1 309.9L366.2 309.8L361.3 309.6L356.4 309.4L351.5 309.0L346.7 308.6L341.8 308.2L337.0 307.7L332.2 307.0L327.4 306.4L322.6 305.6L317.9 304.8L313.2 303.9L308.6 302.9L303.9 301.9L299.4 300.8L294.9 299.6L290.4 298.4L286.0 297.1L281.7 295.7L277.4 294.3L273.2 292.8L269.0 291.3L264.9 289.6L260.9 288.0L257.0 286.2L253.1 284.4L249.4 282.6L245.7 280.7L242.1 278.7L238.6 276.7L235.1 274.7L231.8 272.6L228.6 270.4L225.4 268.2L222.4 265.9L219.4 263.7L216.6 261.3L213.9 258.9L211.3 256.5L208.8 254.1L206.4 251.6L204.1 249.1L201.9 246.5L199.9 243.9L197.9 241.3L196.1 238.7L194.4 236.0L192.8 233.3L191.4 230.6L190.0 227.9L188.8 225.1L187.7 222.4L186.8 219.6L185.9 216.8L185.2 214.0L184.7 211.2L184.2 208.4L183.9 205.6L183.7 202.7L183.6 199.9L183.7 197.1L183.9 194.3L184.2 191.5L184.7 188.7L185.2 185.9L185.9 183.1L186.8 180.3L187.7 177.6L188.8 174.9L190.0 172.1L191.4 169.4L192.8 166.8L194.4 164.1L196.1 161.5L197.9 158.9L199.9 156.3L201.9 153.8L204.1 151.3L206.4 148.8L208.8 146.4L211.3 144.0L213.9 141.6L216.6 139.3L219.4 137.1L222.4 134.8L225.4 132.7L228.6 130.5L231.8 128.5L235.1 126.4L238.6 124.5L242.1 122.5L245.7 120.7L249.4 118.8L253.1 117.1L257.0 115.4L260.9 113.7L264.9 112.2L269.0 110.7L273.2 109.2L277.4 107.8L281.7 106.5L286.0 105.2L290.4 104.0L294.9 102.9L299.4 101.8L303.9 100.9L308.6 99.9L313.2 99.1L317.9 98.3L322.6 97.6L327.4 97.0L332.2 96.4L337.0 95.9L341.8 95.5L346.7 95.1L351.5 94.9L356.4 94.7L361.3 94.5L366.2 94.5L371.1 94.5L376.0 94.6L381.0 94.8L385.9 95.0L390.7 95.3L395.6 95.7L400.5 96.2L405.3 96.7L410.1 97.3L414.9 98.0L419.7 98.8L424.4 99.6L429.1 100.5L433.7 101.4L438.3 102.5L442.9 103.6L447.4 104.7L451.9 106.0L456.3 107.3L460.6 108.6L464.9 110.1L469.1 111.6L473.3 113.1L477.3 114.7L481.3 116.4L485.3 118.1L489.1 119.9L492.9 121.8L496.6 123.7L500.2 125.6L503.7 127.7L507.1 129.7L510.5 131.8L513.7 134.0L516.9 136.2L519.9 138.4L522.8 140.7L525.7 143.1L528.4 145.4L531.0 147.9L533.5 150.3L535.9 152.8L538.2 155.3L540.4 157.9L542.4 160.5L544.4 163.1L546.2 165.7L547.9 168.4L549.5 171.1L550.9 173.8L552.3 176.5L553.5 179.3L554.5 182.0L555.5 184.8L556.3 187.6L557.0 190.4L557.6 193.2L558.1 196.0L558.4 198.8L558.6 201.6L558.6 204.5Z" fill="none" stroke="#088208" stroke-width="2.25"/>
<line x1="83.1" y1="191.5" x2="748.5" y2="69.0" stroke="#000" stroke-width="2.1" stroke-dasharray="4.5 3.29"/>
<g stroke="#000" stroke-width="1.15" fill="none">
<line x1="83.4" y1="11.8" x2="83.4" y2="405.3"/>
<line x1="76.3" y1="12.40" x2="83.9" y2="12.40"/>
<line x1="76.3" y1="61.45" x2="83.9" y2="61.45"/>
<line x1="76.3" y1="110.50" x2="83.9" y2="110.50"/>
<line x1="76.3" y1="159.55" x2="83.9" y2="159.55"/>
<line x1="76.3" y1="208.60" x2="83.9" y2="208.60"/>
<line x1="76.3" y1="257.65" x2="83.9" y2="257.65"/>
<line x1="76.3" y1="306.70" x2="83.9" y2="306.70"/>
<line x1="76.3" y1="355.75" x2="83.9" y2="355.75"/>
<line x1="76.3" y1="404.80" x2="83.9" y2="404.80"/>
<line x1="96.1" y1="418.1" x2="736.5" y2="418.1"/>
<line x1="96.6" y1="417.6" x2="96.6" y2="424.6"/>
<line x1="149.9" y1="417.6" x2="149.9" y2="424.6"/>
<line x1="203.2" y1="417.6" x2="203.2" y2="424.6"/>
<line x1="256.4" y1="417.6" x2="256.4" y2="424.6"/>
<line x1="309.7" y1="417.6" x2="309.7" y2="424.6"/>
<line x1="363.0" y1="417.6" x2="363.0" y2="424.6"/>
<line x1="416.3" y1="417.6" x2="416.3" y2="424.6"/>
<line x1="469.6" y1="417.6" x2="469.6" y2="424.6"/>
<line x1="522.8" y1="417.6" x2="522.8" y2="424.6"/>
<line x1="576.1" y1="417.6" x2="576.1" y2="424.6"/>
<line x1="629.4" y1="417.6" x2="629.4" y2="424.6"/>
<line x1="682.7" y1="417.6" x2="682.7" y2="424.6"/>
<line x1="736.0" y1="417.6" x2="736.0" y2="424.6"/>
</g>
<text class="t" text-anchor="end" x="72.8" y="16.0">250,000</text>
<text class="t" text-anchor="end" x="72.8" y="65.0">200,000</text>
<text class="t" text-anchor="end" x="72.8" y="114.1">150,000</text>
<text class="t" text-anchor="end" x="72.8" y="163.1">100,000</text>
<text class="t" text-anchor="end" x="72.8" y="212.2">50,000</text>
<text class="t" text-anchor="end" x="72.8" y="261.2">0</text>
<text class="t" text-anchor="end" x="72.8" y="310.3">−50,000</text>
<text class="t" text-anchor="end" x="72.8" y="359.3">−100,000</text>
<text class="t" text-anchor="end" x="72.8" y="408.4">−150,000</text>
<text class="t" text-anchor="middle" x="96.6" y="436.2">0.014</text>
<text class="t" text-anchor="middle" x="149.9" y="436.2">0.016</text>
<text class="t" text-anchor="middle" x="203.2" y="436.2">0.018</text>
<text class="t" text-anchor="middle" x="256.4" y="436.2">0.020</text>
<text class="t" text-anchor="middle" x="309.7" y="436.2">0.022</text>
<text class="t" text-anchor="middle" x="363.0" y="436.2">0.024</text>
<text class="t" text-anchor="middle" x="416.3" y="436.2">0.026</text>
<text class="t" text-anchor="middle" x="469.6" y="436.2">0.028</text>
<text class="t" text-anchor="middle" x="522.8" y="436.2">0.030</text>
<text class="t" text-anchor="middle" x="576.1" y="436.2">0.032</text>
<text class="t" text-anchor="middle" x="629.4" y="436.2">0.034</text>
<text class="t" text-anchor="middle" x="682.7" y="436.2">0.036</text>
<text class="t" text-anchor="middle" x="736.0" y="436.2">0.038</text>
<text class="b" text-anchor="middle" x="416.1" y="457.4" textLength="190" lengthAdjust="spacingAndGlyphs">Incremental effectiveness (QALY)</text>
<text class="b" text-anchor="middle" transform="translate(8.8 222.6) rotate(-90)" textLength="125.5" lengthAdjust="spacingAndGlyphs">Incremental cost (JPY)</text>
</svg>
</body></html>
